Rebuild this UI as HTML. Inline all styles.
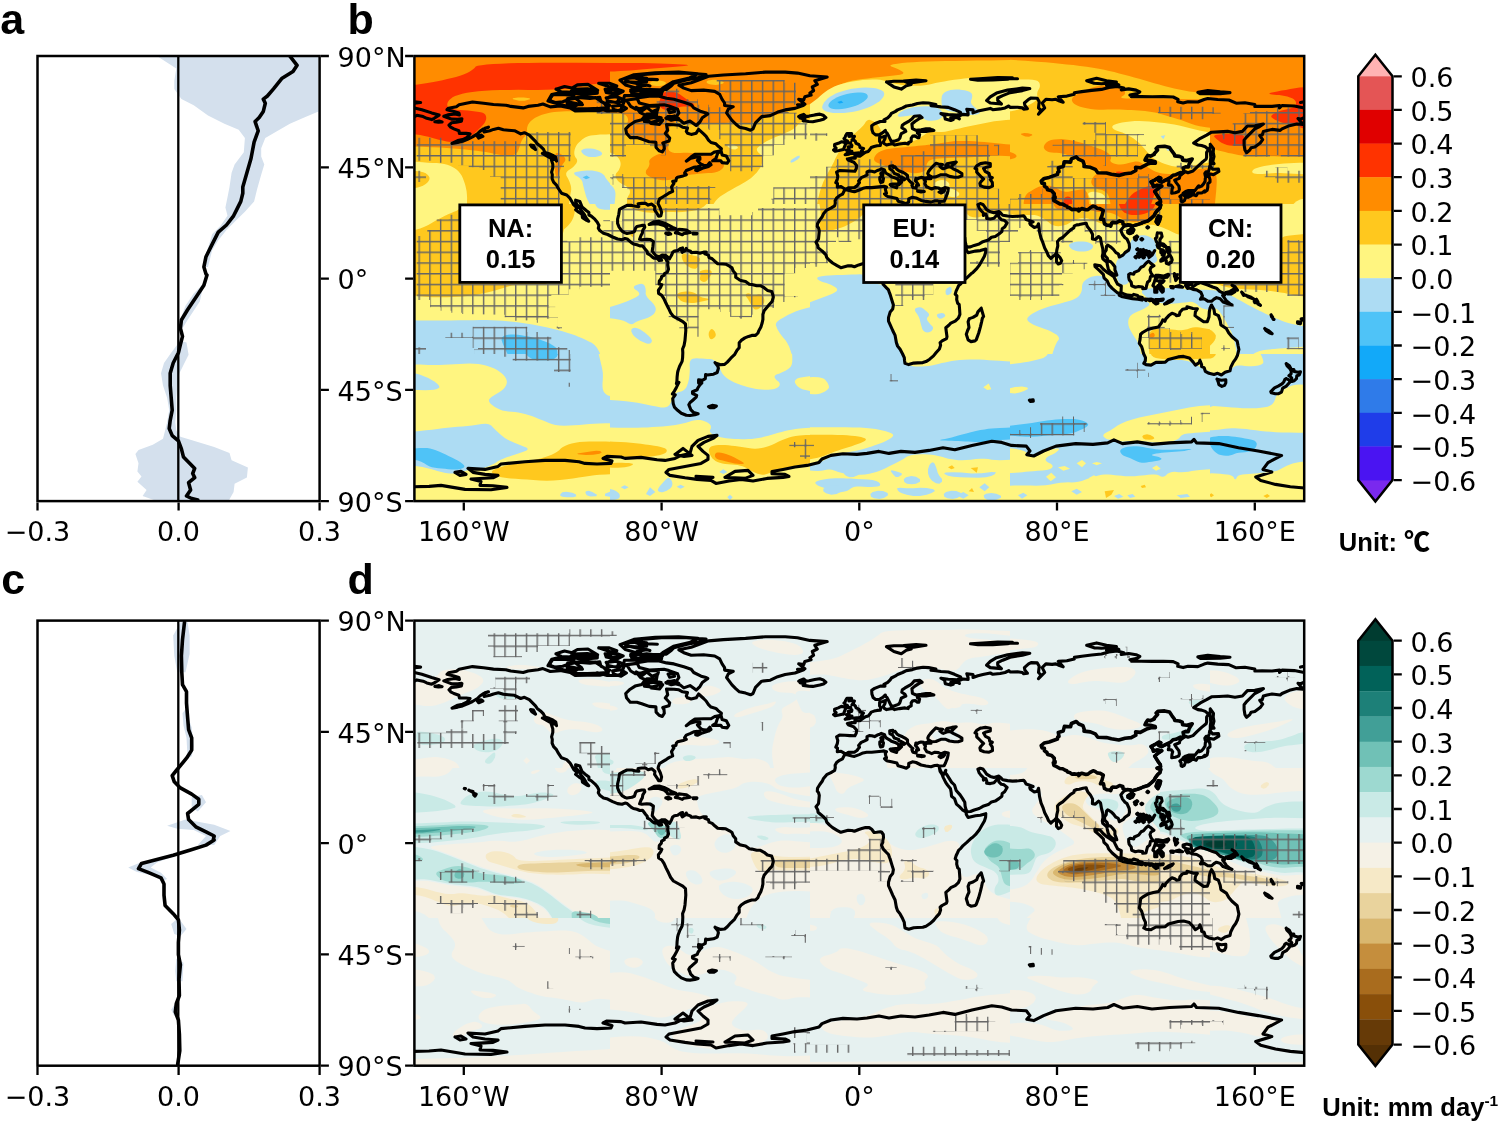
<!DOCTYPE html>
<html lang="en"><head><meta charset="utf-8"><title>Figure</title>
<style>
html,body{margin:0;padding:0;background:#fff}
body{width:1500px;height:1124px;overflow:hidden}
svg{display:block}
text{fill:#000}
.t{font-family:"DejaVu Sans","Liberation Sans",sans-serif;font-size:27px}
.pl{font-family:"Liberation Sans",sans-serif;font-weight:bold;font-size:43px}
.bx{font-family:"Liberation Sans",sans-serif;font-weight:bold;font-size:25.5px;text-anchor:middle}
.un{font-family:"Liberation Sans","Noto Sans CJK SC",sans-serif;font-weight:bold;font-size:25.6px}
</style></head><body>
<svg width="1500" height="1124" viewBox="0 0 1500 1124">
<defs>
<clipPath id="cb"><rect x="414.4" y="56.0" width="889.8000000000001" height="445.1"/></clipPath>
<clipPath id="cd"><rect x="414.4" y="620.6" width="889.8000000000001" height="445.1"/></clipPath>
<clipPath id="ca"><rect x="37.5" y="56.0" width="282.1" height="445.1"/></clipPath>
<clipPath id="cc"><rect x="37.5" y="620.6" width="282.1" height="445.1"/></clipPath>
<pattern id="hb" patternUnits="userSpaceOnUse" x="568.70" y="230.10" width="10.73" height="10.73"><path d="M0,0.7H10.73 M0.7,0V10.73" stroke="#646464" stroke-width="1.4" fill="none"/></pattern>
<pattern id="hd" patternUnits="userSpaceOnUse" x="568.70" y="645.50" width="10.73" height="10.73"><path d="M0,0.7H10.73 M0.7,0V10.73" stroke="#646464" stroke-width="1.4" fill="none"/></pattern>
<path id="coast" d="M548,101L551.7,94.6L561.3,92.4L572,95.6L581.6,103.1L572,107.4L559.2,104.2L548,101M566.7,99.9L582.7,96.7L595.5,97.8L604,103.1L608.3,108.4L599.8,110.6L588,110.6L575.2,110.6L567.7,106.3L566.7,99.9M556,89.2L564.5,86.5L572,88.1L577.4,84.9L588,84.4L597.6,90.3L591.2,92.4L580.6,91.3L572,92.4L561.3,91.9L556,89.2M598.7,83.3L609.4,83.3L616.8,86L610.4,87.1L598.7,83.3M605.1,89.2L614.7,88.1L623.2,91.3L616.8,94.6L606.2,92.4L605.1,89.2M606.2,97.8L616.8,96.7L624.3,99.9L617.9,103.1L608.3,101L606.2,97.8M612.6,106.3L621.1,105.2L626.4,108.4L621.1,111.6L613.6,109.5L612.6,106.3M620,80.1L633.9,74.8L655.3,72.7L678.7,72.1L698,73.7L689.4,78L673.4,81.7L662.7,88.1L657.4,92.4L642.5,92.4L636.1,88.1L625.4,84.9L620,80.1M633.9,77.5L646.7,79.1L657.4,79.6M639.3,82.8L649.9,86M625.4,81.7L636.1,82.3L646.7,81.7M630.7,91.3L646.7,89.2L662.7,91.3L657.4,95.6L641.4,95.6L630.7,91.3M636.1,107.4L642.5,110.6L646.7,107.4L652.1,111.6L657.4,109.5L656.3,115.9L646.7,115.9L640.3,112.7L636.1,107.4M646.7,118.6L655.3,117.5L662.7,120.2L659.5,124.4L651,123.4L646.7,118.6M665.9,118L674.5,115.9L678.7,118.6L671.3,120.2L665.9,118M668.1,109.5L673.4,108.4L674.5,111.6L669.7,112.7L668.1,109.5M1134.3,237.7L1135.1,237L1136,237.7L1135.1,238.5L1134.3,237.7M1136,236.8L1136.9,236L1137.7,236.8L1136.9,237.5L1136,236.8M1134.8,239.5L1135.6,238.7L1136.5,239.5L1135.6,240.2L1134.8,239.5M1140,250.4L1140.8,249.6L1141.7,250.4L1140.8,251.1L1140,250.4M1141.2,252.8L1142.1,252.1L1142.9,252.8L1142.1,253.6L1141.2,252.8M1144.7,251.6L1145.5,250.9L1146.4,251.6L1145.5,252.3L1144.7,251.6M1140.7,254.8L1141.6,254.1L1142.4,254.8L1141.6,255.6L1140.7,254.8M1138.2,256.5L1139.1,255.8L1140,256.5L1139.1,257.3L1138.2,256.5M1143.9,254.6L1144.8,253.8L1145.6,254.6L1144.8,255.3L1143.9,254.6M1145.6,251.3L1146.5,250.6L1147.4,251.3L1146.5,252.1L1145.6,251.3M1137.5,253.8L1138.4,253.1L1139.2,253.8L1138.4,254.6L1137.5,253.8M1142.4,250.1L1143.3,249.4L1144.2,250.1L1143.3,250.9L1142.4,250.1M1147.1,254.8L1148,254.1L1148.9,254.8L1148,255.6L1147.1,254.8M1135,257L1135.9,256.3L1136.7,257L1135.9,257.8L1135,257M1136.7,249.4L1137.6,248.6L1138.5,249.4L1137.6,250.1L1136.7,249.4M1148.4,252.1L1149.2,251.3L1150.1,252.1L1149.2,252.8L1148.4,252.1M1139.2,251.8L1140.1,251.1L1140.9,251.8L1140.1,252.6L1139.2,251.8M1142.7,257.3L1143.5,256.5L1144.4,257.3L1143.5,258L1142.7,257.3M1146.9,227.4L1147.7,226.6L1148.6,227.4L1147.7,228.1L1146.9,227.4M1140.9,239.2L1141.8,238.5L1142.7,239.2L1141.8,240L1140.9,239.2M970.5,79.2L982.9,78.5L997.7,77.5L1012.5,77.8L1007.6,79.2L992.8,80L977.9,80.2L970.5,79.2M982.9,80.2L1000.2,78.7L1017.5,78.7M434.9,121.8L439.1,121L442.1,122L438.4,122.3L434.9,121.8M882.5,172.2L883,174.7L882.3,176.2L883.5,178.4L882.8,181.9L880.6,182.4L879.8,179.6L879.8,177.4L881.8,176.4L880.8,173.5L882.5,172.2M890.2,184.6L892.7,184.1L897.9,183.8L896.9,186.6L896.6,187.8L894.4,187.1L891.4,186.1L890.2,184.6M917.6,190.8L921.1,191L924.3,191.5L921.1,192L917.6,191.3L917.6,190.8M939.1,192L940.9,191L944.6,190.5L943.3,192L940.9,193L939.1,192M666.8,260.7L665.5,258.5L662.8,256.5L660.6,258L661.6,260.3L659.1,260.5L657.4,258.5L654.4,258.3L652.7,257.3L649.9,254.8L647.5,253.6L647.2,251.6L645.5,249.6L643.3,246.7L642.5,245.7L639.8,245.9L636.9,244.7L633.4,243.9L631.4,242.7L627.2,239L625,238.5L622,239.7L617.6,239L612.6,237L607.7,234.5L603.5,233.3L599.8,230.6L598.3,228.1L599,225.4L597.3,222.2L594.8,219.2L591.1,216L588.9,215L588.9,212.5L586.2,210.5L582,206.8L579.8,201.4L575.6,200.2L575.8,203.1L578.8,206.8L581.2,210.5L584.2,214.3L586.2,218L588.7,221.2L586.7,220.4L582.5,217.7L582,214.3L578.8,212.3L575.6,209.8L577,207.8L573.8,204.9L571.4,200.7L569.9,198.2L566.7,195L561.5,193.2L558,188L556.5,185.1L553.6,182.1L552.1,178.6L552.3,174.7L551.6,172.2L552.8,167.8L552.8,164.3L551.1,158.9L555.3,159.4L556.5,161.1L555.8,157.4L552.8,155.4L549.1,153.7L544.9,152.4L543.4,149.2L540.5,146.3L537.2,143.8L535.5,141.3L533,138.8L529.3,135.1L524.4,132.7L520.7,133.9L514.5,130.7L508.3,130.2L503.4,129.7L498.4,128.2L493.5,129.4L489.8,130.7L484.1,131.9L484.8,128.2L488.5,127.2L483.6,128.9L479.9,131.4L477.4,133.9L472.5,136.9L467.5,139.3L462.6,141.3L457.7,142.5L452,143.5L457.7,140.6L462.6,139.6L466.8,137.6L470,133.9L466.3,133.4L459.4,133.4L458.9,130.7L453.9,128.9L450.7,127.2L449,125.2L451.5,122.8L456.4,122.3L461.4,121.3L461.9,118.8L457.7,119.3L451.5,119.1L447.8,117.8L443.8,116.3L447.8,114.9L455.2,113.9L459.4,114.9L458.9,112.9L453.9,111.4L447,109.7L448.5,108.2L456.4,106.7L459.1,104.7L466.3,103.2L472.5,102L483.6,103.2L493.5,104.5L505.9,105.2L510.8,106.4L523.2,107.9L528.1,106.4L538,105.2L542.9,104L550.3,106.9L560.2,106L570.1,107.9L575.1,110.9L587.4,110.6L592.4,109.9L597.3,108.2L607.2,110.9L617.1,110.9L620.8,109.7L624.5,100.8L627,100.8L630.7,106.4L635.6,109.2L641.8,108.2L648,106.2L656.6,106L658.4,107.4L657.9,109.2L655.4,114.1L646.7,114.1L644.3,116.6L641.8,119.8L635.1,121.5L629.4,125.2L625.7,128.9L626.5,133.2L630.2,137.6L636.9,137.6L641.8,139.1L649.2,141.8L655.9,142.3L656.1,147.5L659.1,150.7L662.3,151.9L664.3,148.7L664,145L662.8,143L669,141.1L669.7,138.1L665.3,133.4L667.7,130.2L666.5,124.5L673.9,124.7L678.9,125.2L682.6,127.2L687.5,128L686.3,131.4L687.5,133.2L691.2,134.4L696.2,133.2L698.6,129.4L703.6,133.9L706.1,136.4L708.5,140.1L711,142.5L715.9,143.8L718.4,146.3L721.4,148.7L720.9,150.7L714.7,151.9L711,154.2L703.6,154.2L694.9,154.4L691.2,156.9L686.3,161.1L690,158.6L696.2,156.9L699.9,157.4L699.9,159.4L697.4,160.4L699.1,162.3L701.1,164.3L703.6,165.3L707.3,165.5L709.8,162.6L711,164.8L708.5,166.5L702.3,168.3L697.4,170.7L695.7,170.2L696.2,168.5L699.9,166.3L697.4,166.8L693.7,167.3L690,169L686.3,170.5L684.6,173L686.3,174.7L683.1,175.9L677.6,177.2L676.4,178.4L675.9,180.9L672.7,181.4L673.9,183.3L671.5,187.1L671.9,188.3L672.7,191.3L669,193L666.5,194.7L663.5,196.5L659.6,198.9L658.4,201.9L658.1,203.6L660.3,208.1L661.6,212.3L660.8,216L658.6,216.2L657.1,213.5L654.6,209.8L654.9,206.8L651.7,204.1L648.2,205.1L645.5,203.4L641.8,203.4L638.1,203.9L638.8,206.6L635.6,206.3L631.9,205.4L627,205.4L624,206.8L619.5,209.3L618.8,214.3L617.6,219.2L617.6,223.4L619.1,227.1L622,231.1L624.5,232.6L627,233.5L631.9,232.6L634.4,231.6L635.6,227.9L636.9,226.4L641.8,225.4L644.3,225.4L644.8,227.1L642.8,230.3L642.3,233.3L641.1,235.3L639.6,239.2L641.8,239.7L646.7,239.2L650.4,239.5L653.4,241.5L652.9,246.4L652.2,250.9L654.2,253.8L656.1,255.8L659.1,256.8L662.1,255.1L665.3,255.3L668,257.3M668,257.3L669.5,258.8L671.5,255.3L672.7,252.3L674.4,251.1L677.6,250.6L680.8,248.4L682.6,247.9L683.1,249.4L681.6,250.9L682.3,252.3L683.8,251.3L685.8,250.1L686.3,248.4L687,250.1L690.5,251.3L691.2,252.6L696.2,252.3L699.9,253.3L703.6,252.1L706.3,252.1L704.8,253.8L708.5,255.1L709,257.5L712.2,258.8L714.7,261.2L717.7,263.7L722.9,264L725.8,264.2L729.5,266.2L732,267.9L733.2,271.1L735.7,274.1L735.7,277.3L739.4,279.8L740.7,280.5L745.6,281.5L749.3,284.2L751.8,284.5L756.7,285.7L760.4,285.7L764.1,287.7L767.4,290.4L771.6,291.4L772.8,294.6L773.3,297.1L772.1,301.5L769.1,304.8L766.6,307.7L764.1,310.7L762.9,314.4L762.9,319.4L762.2,322.8L760.9,327L758.7,331L758,333L755.5,335.4L751.8,335.4L748.6,336.4L744.9,337.9L741.2,340.4L739.2,342.8L739.2,347.8L737,350.3L734.5,354.7L730.8,358.2L727.3,362.1L724.6,364.4L720.4,364.8L715.9,363.1L715,362.6L717.9,366.3L718.4,368.3L717.2,372.5L713.5,374.2L707.3,375L705.6,374.5L705.3,378.7L702.3,380.4L698.6,379.9L698.6,382.9L701.9,382.9L699.9,384.9L697.9,387.8L697.2,389.8L692.5,391.8L692.5,393.5L696.7,395.3L696.2,397.2L692.5,400.5L690,402.7L688.8,404.7L690.2,408.1L690.7,409.6L693.7,412.6L698.1,413.8L694.9,414.8L690,415.5L686.3,415.3L681.3,413.3L677.6,410.3L674.4,407.1L673.2,403.4L672.7,398.5L675.2,394.8L672.4,394L674.4,391.1L676.4,387.4L678.9,382.4L676.4,383.6L676.9,381.2L677.1,377L677.6,372.5L678.1,370.5L679.6,366.3L682.1,361.4L682.6,357.7L682.8,352.7L682.6,349L684.1,345.3L685,340.4L685.3,336.7L685.8,330.5L685.5,324L682.8,321.6L678.9,319.4L673.4,316.4L670.7,312.9L668.5,308.2L666,303.3L664,298.8L661.8,295.4L658.6,293.4L658.4,290.2L660.8,287L661.8,284.7L659.1,284L659.3,281L661.3,278.6L661.6,276.6L664.3,275.1L664.5,273.6L667.3,272.1L668.5,269.2L667.7,264.9L668,262L666.8,260.7M678.9,85.2L691.2,82.7L698.6,80L708.5,76.3L723.4,75L745.6,73.8L765.4,72.1L785.2,72.1L797.5,73.1L809.9,75.8L827.2,77L814.8,80.7L817.3,84.4L812.3,86.9L813.6,90.6L809.9,93.1L811.1,95.1L804.9,96.8L803.7,100L798.7,99.3L804.9,104.2L797.5,104.7L803.7,105.2L795,108.4L785.2,109.9L777.7,112.1L770.3,115.6L761.7,116.6L759.2,119.1L755.5,122.8L753,128.9L750.5,130.2L745.6,128.5L739.4,127.2L735.7,124L732,120.3L728.3,115.3L726.6,112.9L728.3,109.2L733.2,106.7L724.6,105.5L724.6,103L722.1,99.3L719.7,94.3L714.7,91.4L703.6,90.1L691.2,90.6L683.8,88.1L678.9,85.2M707.8,113.9L702.3,117.8L699.9,122L696.2,125.5L690,121L683.8,123.3L680.1,120.3L675.2,119.1L666.5,118.6L667.7,116.6L676.4,116.6L678.9,112.9L677.6,109.2L669,106L664,104.7L649.2,105.5L639.3,103L636.9,98L649.2,96.1L659.1,96.3L666.5,98.3L673.9,99.3L683.8,102.2L691.2,104.7L693.7,107.9L701.1,111.6L706.1,112.9L707.8,113.9M666.5,89.4L659.1,89.9L641.8,89.4L636.9,86.9L646.7,85.2L641.8,82L646.7,78.3L634.4,77L644.3,74.5L661.6,73.1L686.3,73.1L706.1,74.5L698.6,77.5L686.3,80L673.9,83.2L671.5,85.7L666.5,89.4M644.3,84.9L629.4,82L624.5,78.7L634.4,77.8L641.8,80.2L644.3,84.9M661.6,94.1L649.2,94.3L631.9,93.8L630.7,89.9L639.3,89.6L651.7,91.1L661.6,91.6L661.6,94.1M599.8,108.4L587.4,108.9L577.5,108.9L570.1,107.4L568.9,104.2L582.5,104.7L567.6,101.7L567.6,98.5L577.5,97.5L589.9,98.5L599.8,97.3L601,101.7L609.7,105.5L607.2,107.9L599.8,108.4M550.3,100.8L555.3,102.5L562.7,101.7L572.6,98L573.8,95.6L565.2,94.8L552.8,94.8L550.3,98.5L550.3,100.8M570.1,92.6L582.5,94.6L597.3,93.3L597.3,90.6L587.4,88.9L572.6,89.4L570.1,92.6M607.2,101.7L617.1,102.2L619.5,98L612.1,95.6L607.2,98L607.2,101.7M623.3,100.5L636.9,98.8L636.9,95.6L624.5,95.6L623.3,100.5M644.3,121.5L651.7,122.3L659.1,120.3L661.1,117.8L651.7,115.8L646.7,115.8L644.3,119.1L644.3,121.5M612.1,93.1L619.5,91.9L617.1,89.1L607.2,89.4L612.1,93.1M712.7,160.8L715.9,158.6L717.7,153.2L721.1,151L722.1,154.9L726.3,156.1L728.8,160.8L727.1,163.3L722.1,162.6L720.9,160.8L712.7,160.8M554.3,158.9L549.8,157.6L542.4,153.4L545.4,152.9L550.3,154.9L554.3,158.9M535.5,149.5L531.8,147L530.6,145L533.5,145.5L535.5,149.5M478.7,138.1L482.9,136.4L481.1,135.1L477.4,136.4L478.7,138.1M649.2,224.4L654.2,221.7L659.1,221.4L664,222.9L669,225.4L672.7,227.4L675.9,228.6L673.9,229.3L667.7,229.3L666.5,227.4L664,225.4L657.9,223.7L652.9,223.9L649.2,224.4M675.4,232.8L678.9,229.3L682.1,229.6L686.5,230.1L690.2,232.6L687.5,233.1L683.8,233.5L682.3,234.8L678.9,233.5L675.4,232.8M665.8,233.3L669,232.8L670.7,234L668.2,234.5L665.8,233.3M693.2,233.1L696.9,233.3L696.7,234L693.2,234L693.2,233.1M473.7,228.6L476.2,229.6L475,231.6L473.7,230.3L473.7,228.6M470,226.1L473,226.9L472.5,227.6L468.8,225.6L470,226.1M464.3,223.9L465.6,223.9L465.1,224.4L464.3,223.9M844.7,190L846.2,189.8L851.9,191.3L854.4,191.8L859.3,190L863,188.3L866.7,187.6L871.7,187.6L876.6,187.1L881.5,186.6L884,186.3L886.5,187.1L885.3,188.8L885.7,190.8L886.5,193.2L884.5,194L886,195.5L887.7,196.5L891.4,197.2L896.9,198.4L898.1,201.2L902.6,202.4L906.3,203.6L908.7,201.9L908.7,198.9L912.4,197.2L916.1,197.9L921.1,200.4L926,201.4L931,202.1L934.7,200.9L937.2,200.7L939.1,201.4L939.6,204.4L940.1,206.8L942.1,209.8L943.3,213L945.8,218L947.5,220.4L950.5,224.1L951.2,227.9L951.5,231.6L954.5,234L956.4,239.5L959.4,242L962.4,245.2L965.6,247.1L966.3,248.9L966.3,249.9L968.1,252.8L975.5,251.1L980.4,250.6L985.8,249.1L985.6,252.6L984.4,256.3L981.6,261.2L979.2,265.4L976.2,269.2L973,272.4L971.3,273.6L966.8,277.8L963.1,281L960.6,284L958.7,285.5L957.4,288.4L956.2,290.9L955.2,294.1L956.9,295.9L956.7,299.6L957.7,303.3L959.2,304.5L959.6,309.5L959.9,314.4L958.4,318.1L955.2,321.1L950.8,323.1L948.8,325.3L945.8,327.8L946.3,331.7L947,336.7L946.5,338.6L942.1,340.9L940.1,342.6L940.6,345.3L939.4,349L936.2,352.5L933.5,355.9L929.7,359.2L926,361.6L922.8,362.6L917.4,362.9L913.7,363.1L908.7,364.6L905,363.4L904.5,360.2L904.3,357.7L902.6,354L900.1,349.3L897.6,346.1L896.4,342.8L895.1,335.4L892.7,330.5L890.2,324.8L888.5,321.1L888.5,317.6L890.2,311.9L892.7,309L893.4,305L891.9,300.3L890.2,294.6L889.5,292.9L888.5,289.9L886.5,287.9L883.3,284.5L881.5,280.5L882.8,277.8L882.8,276.1L883.5,272.9L883.3,269.9L881.5,267.4L880.3,267.2L876.6,267.7L874.1,267.9L871.7,264.7L869.2,263L865.5,263L861.8,264L858.8,264.9L854.4,266.7L851.9,265.9L848.2,265.7L844.5,266.7L840.8,267.7L837.1,265.7L832.6,263L829.6,260.5L826.7,257.5L825.9,254.8L823,251.8L821,250.1L818,247.6L817.8,245.4L816,242.2L818.5,239L819,234L819.3,230.8L818.5,227.9L817.3,226.6L817.5,223.7L819.8,219.9L822.2,216.7L823.5,213.8L826.7,210.1L830.9,208.1L834.6,205.9L835.3,203.1L835.1,200.7L836.6,197.9L839.5,195.7L842.5,194.2L844,191.3L844.7,190M981.2,308.2L983.6,316.4L982.4,318.1L981.6,321.8L980.4,326.8L978.7,333L976.2,339.9L975,340.9L971,341.6L968.1,339.9L966.3,334.2L967.6,330.5L969,327.5L968.1,321.8L969.3,318.6L973,317.4L976.7,315.1L977.9,311.9L981.2,308.2M845.5,189.5L843.7,188.3L841,186.6L837.3,187.1L837.5,183.6L835.8,182.6L837.3,179.1L837.8,175.9L836.6,172.2L839.5,170.5L845,170.7L849.9,171L854.9,171.2L856.3,168.5L856.6,165.5L853.9,162.3L848.2,160.1L847.4,158.9L851.9,157.9L855.3,158.1L854.9,155.7L859.8,156.1L863.3,153.7L865.5,152.2L868.2,151.4L869.9,149.5L871.2,147.5L874.1,146.5L877.1,145.8L880.3,145.5L880.8,143L879.6,141.3L879.6,137.6L882.8,136.9L885.5,135.9L885,138.8L884,140.6L883.3,142.1L884,143.5L886.5,145L889.5,144.3L892.7,143.8L894.6,145L899.6,144L905,143.3L908.2,144L908.7,142.5L911.2,141.3L911.2,138.1L912.7,136.1L915.2,135.9L917.4,137.6L918.9,137.6L919.6,134.4L917.4,133.2L917.4,131.9L920.6,131.4L926,131.4L929,130.9L933.9,130.4L931,129.4L930,128.9L926,128.9L921.1,129.7L916.1,130.4L912.4,128.7L912.2,126.5L911.9,124L914.9,121.5L919.9,118.3L922.1,117.6L919.9,115.8L914.2,116.3L911.9,119.1L909.5,120.8L905,123.3L902.3,125.2L901.8,127.7L905,129.7L905.8,131.4L901.3,133.6L900.6,135.6L899.8,138.3L898.4,139.8L894.6,141.1L891.4,141.6L890.4,139.6L888.7,136.1L887,132.9L885.7,131.9L885.3,130.4L882.8,132.7L879.1,134.9L875.6,134.9L873.1,132.9L871.9,129.4L871.7,125.7L874.6,123.8L880.3,121.5L885,121.5L884,119.8L887.7,117.8L890.2,115.3L891.4,113.4L895.1,111.6L897.6,109.9L902.6,107.9L906.3,106L912.4,105L917.4,103.5L923.1,102.7L928.5,103L935.9,104.5L931,105.7L935.9,106.2L940.9,106.9L948.3,107.4L954.5,109.7L960.6,112.4L961.1,114.1L956.9,115.1L948.3,114.6L940.9,113.6L944.6,115.6L945.3,119.1L950.8,120.5L953.2,119.6L950.8,117.8L957.7,117.8L959.4,118.8L958.2,116.3L963.1,114.4L968.1,114.9L968.1,112.9L966.8,109.2L973,109.9L973,112.9L977.9,111.1L982.9,109.9L990.3,108.4L992.8,109.7L1000.2,108.9L1005.1,107.9L1008.8,106L1010.1,107.4L1017.5,107.2L1022.4,107.9L1023.7,109.2L1027.4,108.7L1024.9,105.5L1024.4,103L1028.6,99.3L1031.1,98L1037.3,98.3L1039.2,101.7L1038.5,107.9L1041,110.4L1038.5,114.1L1042.2,110.4L1044.7,107.9L1042.2,103L1045.9,99.3L1052.1,99.8L1055.8,99.3L1059.5,101L1063.2,102.2L1058.3,96.8L1066.9,96.1L1074.3,94.3L1074.3,92.8L1081.8,91.6L1091.6,90.4L1101.5,89.4L1108.9,87.4L1117.1,86.4L1123.8,88.1L1121.3,89.9L1128.7,88.9L1136.1,90.1L1139.8,91.9L1137.4,93.6L1129.9,95.1L1136.1,96.1L1131.2,96.6L1141.1,96.6L1152.2,96.8L1163.3,96.6L1173.2,97L1178.1,99.3L1177.7,101.7L1183.1,103L1188,101.7L1197.9,102L1204.1,99.5L1207.8,98.5L1217.7,99.5L1228.8,100L1236.2,103.2L1244.9,102.7L1254.8,104.5L1254.8,106.4L1262.2,106.2L1272.1,106.4L1279.5,105.5L1279.5,107.9L1282,105.5L1294.3,106L1304.2,107.9M414.4,107.9L421.8,109.7L431.7,112.9L439.1,115.1L434.2,118.3L431.7,119.6L426.8,118.3L423.1,116.6L416.9,115.3L414.4,116.6M1304.2,117.6L1300.5,119.1L1298,118.6L1301.7,122.8L1303,124.5L1296.8,124L1289.4,125.7L1282,128.9L1280.2,130.4L1272.1,129.4L1267.1,130.4L1263.4,131.4L1262.2,135.1L1259.7,135.6L1262.7,139.6L1260.2,143L1254.8,147L1251.1,147.7L1249.8,150L1246.6,152.7L1244.9,150L1244.1,145L1244.1,140.1L1246.1,137.6L1249.8,133.9L1254.8,128.9L1259.7,126.5L1263.4,124L1254.8,125.7L1247.4,126L1242.4,131.4L1235,132.7L1227.6,131.4L1218.9,131.9L1211.5,132.2L1206.6,135.1L1200.4,138.3L1193.7,143L1197.9,145L1201.6,145.5L1205.3,146.8L1208.5,149.5L1206.6,152.4L1206.6,157.4L1206.1,159.1L1201.6,162.8L1196.7,167.3L1193,171L1188,172.7L1185.6,171.7L1182.3,173.7L1179.9,175.9L1179.4,178.2L1174.7,180.1L1176.4,182.9L1178.9,186.1L1179.4,189.5L1178.6,191.5L1175.2,192.7L1171.7,193.2L1172,189.5L1172.7,187.1L1171.2,185.1L1168.3,185.1L1168.8,182.9L1169,180.9L1166.5,179.6L1161.6,182.1L1158.9,180.9L1160.8,178.2L1158.9,177.4L1154.7,180.1L1151,181.9L1152.9,184.6L1153.4,186.6L1157.1,185.3L1161.8,186.1L1158.4,188.3L1154.7,191.5L1156.6,194.5L1158.4,197.4L1160.3,199.9L1160.6,202.1L1157.1,203.6L1160.8,204.9L1159.9,208.1L1157.6,210.1L1155.4,213L1154.2,215.5L1151.5,218L1148,220.9L1143,222.4L1141.1,223.4L1137.4,224.6L1132.4,226.1L1131.9,228.4L1130.7,225.4L1127.5,224.9L1125.7,225.4L1123.3,227.1L1120.8,230.3L1122.5,234.5L1125,237.7L1127,239L1129.2,243.9L1129.5,247.6L1128.7,250.1L1125,252.6L1123,255.1L1119.3,257L1118.3,253.8L1115.9,252.6L1113.4,249.4L1110.9,247.1L1108.7,245.7L1107.7,245.2L1106.5,246.4L1106.2,250.1L1104.5,252.6L1104.7,255.6L1107.2,258L1107.9,260.7L1110.7,261.7L1112.6,263.7L1114.9,266.7L1114.9,269.9L1115.9,272.4L1116.8,275.1L1115.1,275.3L1111.9,273.1L1109.7,271.4L1108.2,268.7L1107.2,264.2L1107,262.5L1105.7,261.2L1102.8,258.8L1102.3,256.3L1103,253.1L1102.8,248.9L1101.5,243.9L1100.5,238.2L1098.6,236.5L1095.3,239.5L1092.4,239L1092.6,234.5L1090.4,230.3L1087.7,227.1L1086.7,224.9L1086.2,223.2L1083,223.7L1079.3,224.6L1076.8,224.9L1074.3,225.9L1073.8,227.9L1070.6,229.8L1066.9,233.3L1062.7,237.3L1059.5,239.2L1057.5,241.5L1057.8,245.9L1056.8,250.1L1056.5,253.1L1054.6,255.3L1052.6,256.8L1050.9,258.5L1048.4,255.8L1047.1,252.6L1044.7,248.1L1042.9,242.7L1041,238.2L1039.5,231.8L1039,227.1L1038.7,224.9L1038.5,223.7L1037.3,226.6L1034.3,227.4L1030.3,224.6L1029.8,223.2L1033.1,221.9L1029.1,220.4L1026.1,219.5L1024.9,217.2L1023.7,215.7L1018.7,216.2L1012.5,216.5L1007.6,216L1002.7,215.2L1000.7,213L998.9,211.5L994,212.8L990.3,211.8L986.6,209.6L984.9,207.1L982.9,204.4L980.2,203.6L977.9,204.6L979.2,208.3L980.9,210.5L983.4,213L983.4,215.5L985.8,214L986.8,216.7L986.6,218.5L990.3,219L994,218.2L996.2,215.7L998.5,213.5L998.9,217.2L1001.4,219.7L1004.1,220.2L1007.1,222.9L1004.6,227.1L1002.2,228.8L1001.9,231.6L998.9,234L995.2,236.5L991.5,237.3L988.3,240L982.9,241.7L979.2,243.9L974.2,245.4L970.5,246.9L966.8,247.1L966.1,245.2L965.1,241.5L964.8,237.7L962.6,234L960.1,230.3L956.2,225.9L954.5,220.4L951.5,217.5L949.5,214.3L946.5,209.6L945.3,208.1L945.8,205.6L944.1,209.3L943.8,209.8L941.4,207.8L939.9,204.6L939.1,201.4L944.1,201.2L945.6,198.2L946.3,196.2L947.3,193.7L948,190.8L948.3,188.3L944.8,187.6L940.9,189.3L938.4,188L934.9,187.6L931.7,189L928.5,187.6L926.8,187.1L924.8,183.8L925.5,181.4L924.1,179.6L927.3,178.6L931,178.6L931,177.2L935.9,176.9L940.9,174.7L945.8,174.7L949.5,176.4L954.5,177.2L958.2,177.2L961.9,175.9L961.9,173.5L958.2,171.2L953.2,168.8L950.8,167.3L953.2,164.8L956.2,162.1L952,162.8L947,163.8L945.8,165.5L949.3,166.8L946.5,167.5L943.3,168.8L942.1,168.3L939.9,166.5L942.6,164.6L938.4,164.1L935.9,163.3L932.7,166.5L930.2,169.3L928.5,171.5L927.8,173.5L928.5,175.2L931,176.7L928.5,177.2L926,177.9L924.1,178.9L923.6,177.7L921.1,177.4L918.6,178.2L917.4,179.1L915.9,178.4L915.4,180.9L916.6,182.1L918.1,184.1L918.6,185.3L916.6,185.1L916.4,186.1L916.1,188.3L912.9,187.6L911.9,185.1L912.9,183.8L911.2,182.6L909.2,180.6L907.5,178.4L907.5,175.4L905,173.5L902.6,172.2L898.8,170.7L896.9,169.3L895.1,166.8L893.4,167.5L892.9,165.8L889.7,166.3L889.9,169L892.7,170.7L894.4,173.5L898.8,174.9L898.8,176.2L901.3,176.9L905,179.1L903.8,179.9L901.3,178.4L900.1,180.4L901.6,182.1L900.1,183.6L898.8,184.8L898.1,184.6L898.8,182.9L898.8,180.9L897.9,179.4L895.9,178.2L894.4,177.7L891.4,176.7L889.5,175.2L886.5,173.5L885.3,172.2L884.5,170L883.3,169.5L881.3,168.8L879.1,170L877.3,170.5L874.6,172L871.7,171.2L869.2,171L867,172L867,173.7L867.2,174.9L864.7,176.2L861.3,177.7L858.6,180.9L859.5,182.6L857.8,184.6L857.3,185.6L854.4,187.6L848.4,187.8L846.2,189.3L845.5,189.5M980.4,163.6L985.4,162.8L990.3,163.6L990.3,166.5L986.1,167.3L983.6,168.5L985.4,171.7L989.1,173.5L989.8,176.7L992.3,177.7L990.3,179.6L992.3,182.4L992.5,186.1L989.1,187.6L984.1,187.1L980.4,185.6L979.9,183.3L981.2,181.4L983.6,178.9L981.6,177.2L979.2,174.7L976.7,172.2L976.7,169L975,168.3L976.7,165.8L980.4,163.6M845.2,154.7L848.9,154.2L850.6,153.4L854.4,153.4L859.3,152.9L862.8,151.9L861.3,151.2L863.5,148.5L860,147.5L859.8,146L858.8,144.5L856.1,143.3L855.3,141.3L853.9,140.1L851.9,140.1L853.1,138.8L854.4,136.4L850.6,135.9L848.9,136.4L851.1,133.9L851.6,133.6L846.9,133.6L845.7,135.6L845,137.6L844,138.6L845.7,140.1L845.5,141.8L847.4,140.8L847.2,143L850.6,142.8L850.9,144.3L851.9,145.5L851.6,146.8L848.2,146.8L848.7,148L849.2,149.2L846.4,150.2L848.9,151L851.9,151.4L850.6,151.9L848.2,152.4L845.2,154.7M843.5,149.5L844.5,146.8L845.7,143.8L844,142.1L841.3,141.8L838.3,143.3L834.6,144.5L834.6,146.5L836.1,148L833.6,150L835.1,151.2L838.8,150.5L843.5,149.5M803.2,120.8L808.6,121.5L812.8,121.8L819.8,120.3L823.5,119.3L825.9,117.6L823.2,115.3L819.8,114.1L814.8,114.9L809.1,116.1L806.2,116.6L803.7,114.4L800,115.8L798.7,116.6L804.9,116.8L800,118.1L804.9,119.3L803.2,120.8M886.5,82L893.9,86.9L901.3,89.1L906.3,85.7L911.2,84.4L906.3,82L903.8,81L916.1,80L926,80.7L913.7,82.5L903.8,81L893.9,81.2L886.5,82M1001.4,104L990.3,103L986.6,100.5L990.3,96.8L996.5,93.1L1007.6,90.1L1022.4,88.1L1029.8,88.6L1022.4,90.6L1010.1,92.6L1002.7,95.6L997.7,98L997.7,100.5L1001.4,104M1094.1,83.2L1101.5,83.7L1113.9,82.7L1118.8,84.9L1106.5,85.7L1116.4,82L1106.5,80.7L1096.6,78.3L1086.7,80.7L1094.1,83.2M1197.9,92.3L1207.8,90.6L1220.2,91.9L1230,92.6L1220.2,93.6L1205.3,93.8L1200.4,93.8L1197.9,92.3M1300.5,102.5L1304.2,101.7M414.4,101.7L420.6,102.5L414.4,103.2M1210.3,144.3L1213.5,148.7L1213.2,152.4L1214,156.6L1212.7,161.6L1214,163.6L1212.3,163.3L1210.3,164.8L1210.3,161.1L1210.8,157.4L1210.3,152.4L1209.8,148.7L1210.3,146.3L1210.3,144.3M1205.3,175.9L1207.8,175.4L1208.3,173.5L1213.5,174.7L1218.9,171.5L1218.4,169L1212.7,169.3L1209.8,166L1209.3,169L1208.5,171.5L1206.1,171.7L1204.8,173.5L1205.3,175.9M1209,176.2L1210,179.6L1210,182.1L1207.8,183.8L1207.8,187.1L1207.1,190.3L1204.8,192L1204.6,190.8L1202.4,192.7L1200.9,193L1197.9,193L1197.4,193.7L1196.2,195.7L1193,194.5L1193.7,193L1189.3,193.5L1186.3,194L1183.1,194.5L1183.1,193.2L1185.6,191.5L1188.5,190.5L1191.7,190.5L1195,190.5L1197.2,187.6L1198.7,185.8L1199.2,187.1L1201.6,186.1L1203.4,184.1L1205.1,181.4L1205.3,178.4L1206.1,176.7L1209,176.2M1183.1,194.7L1185.1,196.2L1185.6,197.4L1184.3,200.7L1182.3,201.9L1181.1,201.2L1181.1,198.2L1179.9,196.5L1181.9,195L1183.1,194.7M1186.8,194.5L1191.7,194L1192.2,195L1190.5,196.2L1188,197.4L1186.8,196.9L1186.8,194.5M1158.4,216.2L1160.6,216.7L1159.6,220.4L1157.9,224.1L1156.1,221.7L1157.1,218.5L1158.4,216.2M1128,231.1L1131.2,229.1L1133.7,229.8L1132.4,232.3L1129.9,233.5L1128,232.6L1128,231.1M1057,254.3L1060,257.5L1061.7,260.7L1060.7,263L1058.3,264L1056.5,261.7L1056.5,258.3L1057,254.3M1157.4,232.8L1161.3,233.1L1162.1,236.5L1159.9,239.5L1160.1,243.2L1163.3,243.9L1165.8,246.4L1164.1,246.4L1162.1,245.2L1158.4,244.7L1157.4,243.2L1156.4,241.7L1155.4,238.5L1156.9,237.3L1156.9,235.3L1157.4,232.8M1160.8,261.2L1164.6,259.8L1166.3,260.5L1166.3,263.2L1169,264.2L1169.7,262.5L1171.2,262.5L1172.2,260L1171.5,257.5L1169.5,254.3L1168.3,256.3L1167,257.3L1165,258.5L1163.3,257.5L1160.8,260L1160.8,261.2M1166.5,247.6L1169,247.6L1170,251.3L1168.3,253.3L1167.5,251.8L1166.8,250.1L1166.5,247.6M1160.8,249.4L1163.3,250.1L1164.6,252.6L1164.1,255.6L1162.1,255.1L1162.1,252.6L1160.8,252.6L1160.8,249.4M1149,257.5L1152.2,255.1L1154.7,250.6L1153.4,252.6L1151,255.6L1149,257.5M1157.1,245.2L1159.4,245.9L1159.1,248.1L1157.9,247.4L1157.1,245.2M1094.8,264.7L1100.3,265.7L1103.3,269.2L1107.2,272.4L1110.2,274.3L1113.9,276.8L1115.9,281L1117.6,284.2L1121.3,286L1121,292.9L1117.8,293.1L1112.2,288.4L1108.9,284.7L1107.2,280.8L1104,277.8L1103.3,274.3L1099.5,270.6L1095.1,266.7L1094.8,264.7M1119.3,295.4L1121.3,293.1L1123.3,293.6L1127.5,295.1L1132.4,295.6L1133.7,294.4L1137.6,295.6L1138.1,296.6L1142.3,297.6L1142.1,300.1L1137.9,299.3L1132.4,298.6L1127.5,297.8L1122.5,296.8L1119.3,295.4M1128.7,274.6L1130.2,273.6L1133.7,274.3L1134.4,272.4L1138.6,270.6L1141.1,267.2L1143.5,266.2L1146,263.2L1148.5,261.2L1150.2,262.7L1153.9,265.7L1151,267.4L1150,269.9L1151,273.1L1153.2,276.1L1150.5,276.6L1149.7,280.5L1147.5,282.3L1146.5,286L1146,288.4L1142.6,288.7L1142.6,287L1138.6,286.5L1135.4,287.2L1131.7,285.7L1131.2,282.3L1129.2,279.8L1128.7,277.3L1128.7,274.6M1155.9,275.3L1158.4,275.3L1163.3,276.1L1168.3,274.3L1168.8,275.1L1167,277.3L1163.3,277.6L1159.6,277.3L1156.6,277.3L1156.1,280.5L1158.4,281L1159.9,280.8L1164.1,280.8L1162.1,282.8L1159.6,283.5L1161.6,286.7L1163.3,288.4L1163.3,291.4L1162.3,292.2L1160.8,290.4L1159.6,288.4L1158.1,285.5L1156.9,287.2L1156.9,292.2L1154.7,292.2L1154.7,287.2L1152.9,285.5L1154.2,282.3L1155.4,278.8L1155.9,275.3M1183.1,280.5L1186.8,279.5L1190.8,280.5L1191.7,284.7L1193,286.7L1196.7,284L1200.4,282.5L1207.8,285L1212.7,287L1216.5,288.2L1219.7,291.4L1223.9,293.4L1224.6,295.1L1222.6,295.4L1225.6,299.6L1226.3,300.8L1230,303.8L1232,304.8L1228.8,304L1223.1,302L1220.2,298.8L1216.5,297.6L1214,299.1L1211.5,301.3L1207.8,301.1L1204.1,298.8L1200.4,299.3L1202.4,295.9L1200.9,292.4L1196.7,289.9L1193,289.4L1189.3,287.9L1187.5,288.4L1185.6,285.7L1189.3,284.7L1186.1,284L1183.1,282L1183.1,280.5M1164.6,304L1168.3,301.3L1173.2,299.3L1172,300.8L1167,303.5L1164.6,304M1155.7,299.6L1159.6,299.6L1163.3,299.1L1162.8,300.1L1158.4,300.6L1155.7,299.6M1148,299.3L1151.5,299.1L1153.4,299.8L1149.7,300.8L1148,299.3M1143.5,298.8L1147.5,299.3L1146,300.6L1143.5,298.8M1153.4,302L1157.9,303.3L1155.9,304L1153.4,302M1174.4,273.6L1175.7,275.6L1177.4,274.8L1176.2,277.3L1177.7,278.1L1175.7,280.5L1175.2,277.8L1174.4,276.1L1174.4,273.6M1175.7,286.5L1179.4,285.5L1182.6,287.2L1179.4,287L1175.7,286.5M1170.7,286.5L1173.2,286.5L1173.2,287.9L1171.2,287.7L1170.7,286.5M1225.8,292.6L1230,291.4L1233.8,289.2L1235.7,288.9L1235,291.7L1231.3,293.9L1227.6,293.9L1225.8,292.6M1232,285.2L1235,286.7L1237.5,290.2L1236.2,288.4L1233.8,286.5L1232,285.2M1241.7,292.2L1244.6,295.1L1243.6,295.4L1241.7,292.2M1246.1,295.4L1248.6,297.1L1254.3,299.3L1251.1,297.3L1246.1,295.4M1254.3,301.5L1256.7,302.8L1254.8,302.8L1254.3,301.5M1256.5,299.3L1258,302L1257.2,300.8L1256.5,299.3M1258,304L1260.5,305.3L1259.2,304L1258,304M1271.1,314.9L1272.6,317.1L1271.6,316.9L1271.1,314.9M1272.8,318.4L1274,319.4L1273.1,319.4L1272.8,318.4M1264.7,328.5L1268.4,330.5L1272.1,333.7L1269.6,333L1265.9,330.5L1264.7,328.5M1297.5,321.8L1300.7,322.1L1300.5,323.6L1297.5,323.1L1297.5,321.8M1301.2,318.9L1304.2,318.6L1303,320.1L1301.2,318.9M1211.5,305L1214,309.5L1214.7,313.9L1218.4,315.6L1220.2,320.6L1220.9,325L1226.3,328.5L1228.8,333L1232,336.7L1237.2,341.1L1238,345.3L1238.9,349.5L1237.5,355.2L1235.7,358.9L1233.3,362.1L1230.8,367.1L1230,370.8L1225.1,372.3L1221.4,375L1217.7,373.3L1214,374.5L1209,373.3L1205.3,371.3L1204.1,367.6L1201.6,366.6L1201.6,364.6L1199.9,360.2L1199.2,362.6L1195.4,365.1L1193,361.9L1191,359.7L1189.3,357.9L1183.6,356.4L1178.1,356.9L1173.2,358.2L1168.3,359.4L1165.3,362.1L1160.8,362.4L1155.9,362.4L1151,365.1L1146,364.6L1143.8,363.4L1145.3,360.9L1145.5,357.7L1143.5,353.5L1142.6,349.8L1141.6,346.6L1139.3,343.3L1140.1,339.1L1140.6,334.2L1142.6,332.5L1147.7,329.5L1153.4,328L1158.4,327L1161.3,323.1L1162.8,319.8L1164.8,321.3L1165.8,318.9L1168.8,315.6L1172,313.2L1175.2,314.4L1176.4,315.6L1179.4,315.1L1179.9,312.2L1182.6,309.2L1186.8,308.5L1187,306.7L1193,308.5L1197.4,308.7L1195.4,311.9L1195,315.6L1197.9,317.9L1203.6,321.8L1207.3,321.6L1209,316.9L1209.3,311.9L1210,308.2L1211.5,305M1217,379.2L1221.4,380.2L1225.8,379.7L1225.8,382.9L1224.6,385.4L1221.9,386.4L1218.9,384.6L1218.2,381.9L1217,379.2M1286.2,363.6L1289.4,365.8L1291.3,369.5L1293.8,369.5L1294.3,371.5L1298,372.3L1300.5,371.8L1299.3,375L1296.8,375.7L1296.5,378.7L1294.3,380.7L1291.8,381.4L1291.3,380.7L1291.8,378.2L1290.6,376.7L1288.9,375.7L1291.1,373.8L1291.3,371.3L1289.9,368.6L1286.9,365.6L1286.2,363.6M1286.2,378.7L1288.9,379.9L1290.1,381.7L1288.6,383.6L1286.4,386.1L1282.7,388.1L1281.5,392.1L1278.2,393.8L1275.3,393.8L1271.3,392.8L1270.8,391.6L1274.5,387.8L1278.2,386.1L1282,383.9L1283.9,381.7L1284.9,379.4L1286.2,378.7M708.5,406.6L712.2,405.4L716.4,406.1L714,407.6L709.8,407.6L708.5,406.6M1029.4,400.2L1033.1,399.7L1033.3,401.2L1030.3,401.4L1029.4,400.2M414,486.8L429,486.4L441,485.4L465,489.4L491,489.8L507,487.4L493,485.8L480,485.4L481,481.4L471,479L493,477.8L498,475.4L485,474.4L473,472.4L468,468.4L485,469.4L498,466.4L501,464L525,461.8L545,460.4L565,460.4L579,461.8L585,463.4L597,464L611,463.4L612,461L603,458.4L607,456.4L621,457L625,458.4L641,457.4L657,459.8L665,460.4L675,458.4L681,455.4L690,453.4L692,446.4L698,440.4L708,436.4L717,435.4L713,438.4L704,442.4L698,446.4L703,451.4L708,455.4L708,459.4L701,463.4L685,466.4L669,469.4L666,472.4L670,475.4L685,477.8L697,479.4L711,480.4L716,483.4L729,481L741,479.4L753,481L767,478.4L783,477.4L789,476.4L785,474.4L772,473.8L772,471.4L783,469.4L795,467L807,465.4L819,462.4L822,459L831,455.4L843,453.8L857,454.4L867,453.4L879,451.4L889,453.4L901,451.4L915,452.4L929,450.4L943,447.8L954.8,449.8L972,445.4L991.8,441.2L1001.7,442.4L1011.5,445.4L1026.3,446.1L1030,451L1026.8,454.7L1033.7,456L1043.6,451L1056,446.1L1075.7,443.6L1093,444.4L1107.7,442.9L1113.9,439.9L1122.5,443.6L1137.3,441.9L1152,444.4L1169.4,442.9L1191.6,441.9L1194,439.4L1196.5,442.9L1218.7,443.6L1238.5,447.8L1258.2,451L1281.6,455.4L1268,462.6L1263,469.4L1271.8,472L1255.7,476.9L1260.7,480.6L1275.5,484.4L1290.3,486.8L1304.5,488M455,472.4L461,471.4L466,474.4L460,475.4L455,472.4M675,454.4L683,448.4L692,455.4L684,456.4L675,454.4M725,477.4L735,471.4L748,470.4L753,475.4L745,478.4L725,477.4M696,476.4L713,477.4"/>
<path id="china" d="M1166.5,179.6L1170.7,177.4L1173,175.2L1175.9,174.7L1180.4,172.5L1182.1,173.5L1183.8,171L1183.1,167.8L1185.6,166.8L1188.3,167L1189.3,163.6L1192.2,159.1L1186.8,160.6L1182.6,160.1L1182.3,157.6L1179.4,156.4L1174.7,155.9L1174.4,154.4L1172,151.2L1169.5,147.5L1164.6,146.3L1157.9,146.8L1156.1,148.5L1157.6,150L1153.9,153.9L1154.2,154.4L1150.5,156.1L1147.7,155.4L1146,157.9L1145,160.1L1150.5,160.6L1155.2,161.8L1155.4,163.1L1151,163.1L1147.5,164.1L1140.3,167.8L1135.6,167.3L1135.9,170.5L1131.2,173L1125,173.7L1118.8,175.4L1111.4,174.2L1106.5,173L1097.8,172.7L1095.3,169.3L1090.4,167.3L1084,166.5L1084.2,164.8L1083,161.1L1078.8,159.4L1076.3,156.9L1071.4,158.9L1070.6,162.1L1064.4,161.8L1063.2,166.5L1058.3,167.8L1059,171.7L1057.8,172.2L1057.5,174.4L1053.3,175.9L1049.1,177.4L1044.2,178.4L1041.2,181.1L1042,183.3L1044.4,183.6L1044.4,186.1L1045.2,186.8L1046.9,187.8L1047.6,189.8L1051.6,190.8L1054.3,193.7L1054.1,195.7L1055.1,196.9L1055.1,198.2L1053.3,197.9L1053.8,200.7L1056.3,201.9L1059.8,203.9L1062.7,204.1L1065.2,205.6L1066.7,206.1L1067.4,207.3L1069.6,207.8L1071.9,209.6L1074.1,209.3L1077.1,209.6L1078.5,209.1L1078.8,211L1080.5,209.3L1081.8,208.6L1083.5,209.1L1086,209.8L1087.9,209.6L1090.2,207.8L1093.1,206.1L1095.1,206.8L1097.1,208.3L1099.8,208.6L1103.3,210.5L1102,215.5L1100.5,219.2L1103.5,219.2L1104,221.7L1104.5,223.9L1106.7,225.1L1109.4,225.4L1110.7,226.1L1111.7,223.2L1112.6,222.4L1116.4,222.7L1119.6,220.9L1122.8,221.9L1123,224.1L1126,225.4M1166.5,179.6L1161.6,182.1L1158.9,180.9L1160.8,178.2L1158.9,177.4L1154.7,180.1L1151,181.9L1152.9,184.6L1153.4,186.6L1157.1,185.3L1161.8,186.1L1158.4,188.3L1154.7,191.5L1156.6,194.5L1158.4,197.4L1160.3,199.9L1160.6,202.1L1157.1,203.6L1160.8,204.9L1159.9,208.1L1157.6,210.1L1155.4,213L1154.2,215.5L1151.5,218L1148,220.9L1143,222.4L1141.1,223.4L1137.4,224.6L1132.4,226.1L1131.9,228.4L1130.7,225.4L1127.5,224.9L1125.7,225.4M1128,231.1L1131.2,229.1L1133.7,229.8L1132.4,232.3L1129.9,233.5L1128,232.6L1128,231.1M1158.4,216.2L1160.6,216.7L1159.6,220.4L1157.9,224.1L1156.1,221.7L1157.1,218.5L1158.4,216.2"/>
</defs>
<rect width="1500" height="1124" fill="#fff"/>
<g clip-path="url(#cb)">
<rect x="414.4" y="56.0" width="889.8000000000001" height="445.1" fill="#fff580"/>
<path fill="#ff8c00" d="M410.0,54.0H610.0V204.0H410.0Z"/>
<path fill="#ffc81e" d="M598.5,111.9L588.6,111.6L581.8,111.4L575.8,111.2L570.8,111.2L566.2,111.2L561.8,111.4L557.8,111.7L554.2,112.1L550.8,112.6L547.6,113.2L544.7,113.9L542.0,114.8L539.5,115.7L537.3,116.7L535.2,117.8L533.4,118.9L531.8,120.2L530.4,121.5L529.2,122.9L528.2,124.4L527.6,126.0L527.1,127.7L527.0,129.4L527.1,131.2L526.9,133.0L526.3,134.5L525.3,136.0L524.0,137.3L522.8,138.8L521.8,140.5L521.0,142.3L520.3,144.3L519.7,146.2L519.1,148.0L518.6,149.6L518.1,151.1L517.2,152.4L516.1,153.5L514.6,154.5L512.8,155.2L510.6,155.7L508.2,155.9L505.5,155.8L502.5,155.3L499.4,154.8L496.2,154.2L493.0,153.5L489.7,152.8L485.8,152.0L481.5,151.4L476.7,150.7L471.3,150.2L465.7,149.6L459.7,149.1L453.3,148.6L446.7,148.1L439.5,147.6L431.8,147.2L421.5,146.8L410.0,146.3L410.0,204.0L610.0,204.0L610.0,112.4Z"/>
<path fill="#ff8c00" d="M555.9,153.3L555.3,154.2L555.2,155.7L555.5,157.7L555.7,159.8L555.7,162.2L555.5,164.7L555.2,167.3L555.0,169.8L555.1,171.9L555.4,173.8L555.9,175.5L556.4,176.5L556.9,176.8L557.4,176.5L557.9,175.5L558.5,174.2L559.2,172.5L559.9,170.5L560.8,168.2L561.7,166.1L562.7,164.2L563.8,162.7L564.9,161.3L565.4,160.0L565.2,158.5L564.4,157.1L562.9,155.6L561.4,154.4L559.9,153.6L558.4,153.1L556.9,152.9Z"/>
<path fill="#fff580" d="M467.0,202.6L467.1,197.8L466.9,194.4L466.6,191.3L466.1,188.7L465.5,186.0L464.7,183.3L463.8,180.7L462.8,178.0L461.6,175.6L460.2,173.4L458.6,171.5L456.8,169.8L454.7,168.3L452.5,167.0L450.0,165.8L447.3,164.8L444.2,164.0L440.8,163.5L436.8,163.1L432.5,162.9L427.8,162.7L422.6,162.3L415.5,161.8L410.0,161.3L410.0,204.0L467.0,204.0Z"/>
<path fill="#ffc81e" d="M412.5,188.5L417.7,187.5L421.0,186.5L423.7,185.3L425.7,184.0L427.2,182.7L428.4,181.3L429.2,180.0L429.5,178.7L429.3,177.3L428.7,176.0L427.5,174.7L425.8,173.3L423.2,172.2L419.8,171.4L414.0,170.8L410.0,170.5L410.0,188.9Z"/>
<path fill="#fff580" d="M606.0,134.4L600.1,134.6L596.2,134.9L593.2,135.2L590.8,135.5L588.7,136.0L586.8,136.7L585.1,137.5L583.6,138.5L582.1,139.6L580.6,140.9L579.1,142.2L577.6,143.8L576.4,145.5L575.4,147.4L574.7,149.5L574.3,151.8L574.3,153.9L574.7,155.8L575.4,157.3L576.6,158.7L577.1,160.1L577.1,161.6L576.4,163.2L575.2,164.8L573.7,166.4L572.0,167.9L570.1,169.3L567.9,170.7L566.6,172.2L566.1,173.8L566.4,175.7L567.6,177.7L568.6,179.7L569.5,181.7L570.2,183.7L570.8,185.7L571.1,187.6L571.2,189.5L571.0,191.4L570.6,193.2L570.2,195.6L569.7,198.5L569.1,203.0L569.0,204.0L610.0,204.0L610.0,134.2Z"/>
<path fill="#addcf3" d="M582.0,149.9L581.5,150.6L581.4,151.5L581.9,152.5L582.7,153.5L583.7,154.4L584.9,155.2L586.4,156.1L588.2,156.7L590.3,157.0L592.7,157.1L595.3,156.9L597.6,156.6L599.4,156.1L600.8,155.4L601.8,154.6L602.2,153.7L601.8,152.8L600.8,151.8L599.2,150.8L597.3,150.0L595.3,149.3L593.2,148.8L590.8,148.5L588.7,148.4L586.7,148.5L584.8,148.8L583.2,149.2Z"/>
<path fill="#addcf3" d="M608.6,181.7L606.8,179.5L605.4,177.5L604.6,175.8L603.3,174.4L601.7,173.2L599.6,172.2L597.1,171.4L594.6,170.9L592.1,170.5L589.6,170.4L587.1,170.5L584.5,170.7L581.7,171.0L578.8,171.4L575.8,171.9L574.2,172.7L574.1,173.8L575.3,175.2L578.0,176.8L580.1,178.5L581.6,180.3L582.5,182.1L582.8,183.9L583.4,186.3L584.1,189.2L585.1,192.7L586.2,196.7L587.7,200.2L589.3,203.4L589.8,204.0L610.0,204.0L610.0,183.2Z"/>
<path fill="#4fc3f7" d="M586.0,179.3L590.0,177.7L586.7,175.6L582.7,177.3Z"/>
<path fill="#ff3300" d="M576.0,62.8L554.8,62.8L540.5,62.8L528.3,62.9L518.3,63.1L509.2,63.3L500.8,63.7L493.3,64.1L486.7,64.6L481.5,65.2L477.8,65.8L475.7,66.6L475.0,67.4L474.0,68.4L472.7,69.5L471.0,70.7L469.0,72.0L466.5,73.3L463.5,74.5L460.0,75.8L456.0,76.9L451.8,78.0L447.2,79.1L442.5,80.2L437.5,81.2L432.0,82.2L426.0,83.2L417.8,84.4L410.0,85.5L410.0,133.7L414.0,134.2L420.2,135.1L424.5,135.9L428.3,136.8L431.7,137.8L435.2,138.8L438.8,139.7L442.7,140.6L446.7,141.4L450.3,141.9L453.7,142.1L456.7,141.9L459.3,141.4L462.0,140.6L464.7,139.5L467.3,138.2L470.0,136.5L472.3,134.9L474.3,133.4L476.0,132.0L477.3,130.7L478.7,129.3L480.0,128.0L481.3,126.7L482.7,125.3L483.8,124.0L484.7,122.7L485.4,121.3L485.9,120.0L486.2,118.7L486.2,117.3L485.9,116.0L485.4,114.7L484.1,113.5L482.0,112.6L479.2,111.9L475.5,111.4L471.8,111.0L467.9,110.6L464.0,110.3L460.0,110.1L456.5,109.7L453.6,109.2L451.2,108.6L449.4,107.8L448.1,106.9L447.4,105.7L447.2,104.4L447.5,102.9L448.2,101.5L449.3,100.0L450.8,98.7L452.6,97.3L455.1,96.1L458.4,94.9L462.3,93.8L467.0,92.8L472.3,92.0L478.3,91.3L485.0,90.7L492.3,90.3L500.3,90.0L509.0,89.9L518.3,89.8L528.3,89.9L537.5,89.9L545.8,89.8L553.3,89.6L560.0,89.3L566.7,88.8L573.3,88.0L580.0,86.8L586.7,85.4L593.0,84.3L599.0,83.4L606.0,82.8L610.0,82.5L610.0,63.0Z"/>
<path fill="#ffc81e" d="M513.0,99.3L519.0,100.7L524.7,100.7L530.0,99.3L529.7,98.2L523.7,97.4L518.0,97.4L512.7,98.2Z"/>
<path fill="#ff8c00" d="M610.0,54.0H810.0V204.0H610.0Z"/>
<path fill="#ff3300" d="M614.0,71.5L620.6,71.1L625.8,70.8L630.8,70.4L635.8,70.0L641.2,69.5L647.1,69.1L653.3,68.6L660.0,68.1L666.4,67.6L672.6,67.1L678.5,66.6L684.2,66.1L687.4,65.6L688.2,65.2L686.7,64.8L682.7,64.5L678.0,64.2L672.7,63.9L666.7,63.7L660.0,63.4L652.0,63.2L642.7,63.1L629.0,63.1L610.0,63.1L610.0,71.6Z"/>
<path fill="#ffc81e" d="M806.0,104.9L799.8,106.3L795.5,107.7L791.7,109.2L788.3,110.8L784.6,112.4L780.4,113.8L775.8,115.1L770.8,116.2L766.2,117.5L762.1,118.8L758.3,120.2L755.0,121.8L751.8,122.8L748.6,123.2L745.5,123.2L742.5,122.8L739.3,122.5L736.0,122.4L732.5,122.5L728.8,122.8L724.5,123.1L719.5,123.4L713.8,123.6L707.5,123.8L702.2,123.8L698.1,123.8L695.0,123.8L693.0,123.6L690.9,123.3L688.8,122.9L686.5,122.3L684.2,121.7L681.9,121.3L679.6,121.3L677.4,121.7L675.2,122.3L673.4,123.2L671.9,124.4L670.8,125.8L669.9,127.5L669.4,129.4L669.1,131.6L669.2,134.0L669.5,136.7L669.6,139.2L669.4,141.6L669.0,143.9L668.3,146.1L668.2,148.0L668.5,149.5L669.3,150.8L670.7,151.8L672.4,152.5L674.6,153.0L677.2,153.1L680.2,152.9L683.6,152.8L687.4,152.8L691.7,152.9L696.3,153.1L700.7,153.4L704.7,153.8L708.3,154.3L711.7,155.0L714.5,155.8L717.0,156.7L718.9,157.8L720.4,158.9L721.7,160.2L722.7,161.6L723.4,163.2L723.9,164.8L723.8,166.4L723.0,167.9L721.7,169.3L719.7,170.7L717.3,171.7L714.7,172.5L711.7,172.9L708.3,173.1L705.0,173.3L701.7,173.5L698.3,173.8L695.0,174.2L691.8,174.6L688.8,175.1L686.0,175.7L683.3,176.3L680.6,177.0L677.8,177.8L674.8,178.6L671.8,179.4L668.8,180.0L665.6,180.2L662.3,180.2L659.0,179.8L655.9,179.2L653.0,178.3L650.2,177.1L647.8,175.6L646.2,174.0L645.8,172.2L646.2,170.3L647.8,168.3L648.8,166.5L649.4,164.8L649.5,163.3L649.2,162.0L649.3,160.7L650.0,159.5L651.2,158.2L652.8,157.1L654.6,156.0L656.4,155.1L658.3,154.3L660.3,153.7L661.7,153.0L662.3,152.2L662.3,151.4L661.7,150.6L660.8,149.7L659.8,148.7L658.7,147.6L657.3,146.4L655.7,145.3L653.7,144.3L651.3,143.4L648.7,142.6L645.9,141.8L643.1,140.9L640.2,140.1L637.2,139.2L634.5,138.3L632.2,137.2L630.2,136.0L628.5,134.7L627.3,133.2L626.5,131.8L626.2,130.2L626.4,128.5L626.7,126.8L627.0,124.9L627.4,123.0L627.9,121.0L628.0,119.2L627.5,117.6L626.7,116.2L625.3,115.1L623.0,114.2L619.7,113.5L614.0,113.0L610.0,112.9L610.0,204.0L810.0,204.0L810.0,104.2Z"/>
<path fill="#fff580" d="M808.2,119.9L803.5,121.2L800.6,122.5L798.4,124.1L796.9,125.9L795.1,127.6L792.9,129.2L790.4,130.7L787.6,132.0L784.6,133.3L781.5,134.7L778.3,136.0L775.0,137.3L771.9,138.7L769.1,140.0L766.5,141.3L764.2,142.7L762.1,144.0L760.2,145.3L758.7,146.7L757.3,148.0L756.8,149.4L757.2,150.9L758.3,152.5L760.3,154.2L761.8,155.9L762.6,157.8L762.8,159.7L762.5,161.7L762.0,163.6L761.3,165.4L760.5,167.2L759.5,168.8L758.2,170.6L756.8,172.4L755.0,174.3L753.0,176.3L750.8,178.2L748.2,180.1L745.5,181.8L742.5,183.5L739.5,185.2L736.5,186.8L733.5,188.5L730.5,190.2L727.7,191.8L725.0,193.4L722.5,194.9L720.2,196.4L717.9,198.4L715.8,200.8L713.5,204.0L810.0,204.0L810.0,119.5Z"/>
<path fill="#fff580" d="M728.0,147.1L732.0,149.2L735.3,149.5L738.0,148.1L737.3,146.4L733.3,144.5L730.0,144.2L727.3,145.4Z"/>
<path fill="#addcf3" d="M790.3,161.3L791.0,162.7L793.5,162.0L797.8,159.3L799.8,157.2L799.5,155.5L797.0,156.2L792.3,159.2Z"/>
<path fill="#fff580" d="M627.0,200.3L627.5,197.9L628.2,196.0L629.2,194.7L629.8,193.3L630.0,192.0L629.9,190.7L629.4,189.3L628.4,188.0L626.8,186.7L624.7,185.3L622.0,184.0L619.8,182.5L618.0,181.0L616.8,179.2L615.9,177.4L615.6,175.8L615.8,174.2L616.4,172.9L617.6,171.8L618.6,170.4L619.4,168.8L620.1,167.0L620.6,165.0L620.6,163.0L620.1,161.0L619.1,159.0L617.6,157.0L615.6,155.2L613.2,153.8L610.0,152.5L610.0,204.0L627.0,204.0Z"/>
<path fill="#addcf3" d="M615.0,200.2L615.3,197.6L615.4,195.5L615.5,193.8L615.3,192.2L614.9,190.6L614.2,189.1L613.3,187.6L612.0,186.1L610.4,184.7L610.0,184.5L610.0,204.0L614.5,204.0Z"/>
<path fill="#ff3300" d="M665.7,91.9L663.7,92.6L662.3,93.8L661.7,95.5L661.0,97.2L660.3,98.8L659.7,100.5L659.0,102.2L658.8,103.8L659.2,105.2L660.0,106.7L661.3,108.0L662.9,109.0L664.8,109.7L666.8,110.0L669.2,110.0L671.5,109.8L673.8,109.2L676.2,108.5L678.5,107.5L680.9,106.8L683.4,106.5L686.0,106.5L688.7,106.8L690.8,106.9L692.5,106.8L693.7,106.3L694.3,105.7L694.2,104.8L693.2,103.6L691.3,102.2L688.7,100.5L686.2,98.9L683.8,97.3L681.7,95.8L679.7,94.2L677.3,93.1L674.7,92.2L671.7,91.8L668.3,91.6Z"/>
<path fill="#ffc81e" d="M650.4,82.4L649.9,83.1L650.2,83.9L651.2,84.8L652.6,85.4L654.4,85.8L656.7,86.0L659.3,86.0L661.6,85.8L663.4,85.2L664.8,84.5L665.8,83.5L665.9,82.6L665.1,81.9L663.3,81.2L660.7,80.8L658.2,80.5L655.8,80.6L653.7,81.0L651.7,81.7Z"/>
<path fill="#ffc81e" d="M708.1,80.6L706.9,81.2L706.5,81.9L706.8,82.8L707.7,83.5L709.0,84.0L710.8,84.5L713.2,84.8L715.5,84.9L717.8,84.8L720.2,84.3L722.5,83.7L723.7,83.0L723.7,82.2L722.5,81.4L720.2,80.6L717.8,80.0L715.2,79.8L712.7,79.8L710.0,80.2Z"/>
<path fill="#ffc81e" d="M810.0,54.0H1010.0V204.0H810.0Z"/>
<path fill="#ff8c00" d="M813.3,102.5L816.0,100.8L818.3,99.0L820.3,97.0L822.7,95.0L825.3,93.0L828.3,91.0L831.7,89.0L835.0,87.2L838.3,85.5L841.7,84.0L845.0,82.7L848.8,81.5L852.9,80.5L857.5,79.7L862.5,79.0L867.5,78.4L872.5,77.8L877.5,77.2L882.5,76.8L887.2,76.2L891.8,75.8L896.0,75.2L900.0,74.8L902.5,74.0L903.5,73.1L903.0,72.0L901.0,70.7L898.8,69.5L896.5,68.4L894.0,67.4L891.3,66.6L890.3,65.8L891.0,65.0L893.3,64.3L897.3,63.7L902.0,63.1L907.3,62.6L913.3,62.2L920.0,61.8L927.5,61.5L935.8,61.3L945.0,61.1L955.0,60.9L965.5,60.8L976.5,60.6L991.0,60.4L1010.0,60.1L1010.0,54.0L810.0,54.0L810.0,104.1Z"/>
<path fill="#fff580" d="M994.8,76.9L983.2,77.3L975.5,77.7L969.2,78.1L964.2,78.6L959.2,79.2L954.2,79.8L949.2,80.6L944.2,81.4L939.6,82.2L935.4,83.1L931.7,83.9L928.3,84.8L924.6,85.3L920.4,85.7L915.8,85.8L910.8,85.6L906.2,85.3L902.1,84.9L898.3,84.3L895.0,83.7L891.8,82.9L888.8,82.2L886.0,81.3L883.3,80.4L880.2,79.8L876.5,79.5L872.3,79.4L867.7,79.7L862.8,80.1L857.8,80.7L852.7,81.5L847.3,82.5L842.5,83.7L838.2,85.0L834.3,86.5L831.0,88.2L827.9,90.0L825.1,91.9L822.5,93.9L820.2,96.1L817.5,98.4L814.5,100.8L810.2,104.0L810.0,104.2L810.0,204.0L817.1,204.0L818.3,198.1L820.1,191.1L821.6,186.4L823.2,182.3L824.8,179.0L826.4,175.9L827.9,173.1L829.3,170.5L830.7,168.2L831.9,165.8L833.1,163.5L834.2,161.2L835.2,158.8L836.4,156.4L837.8,153.9L839.4,151.3L841.2,148.7L843.2,146.0L845.4,143.3L847.8,140.7L850.2,138.0L852.7,135.5L855.1,133.2L857.5,131.0L859.8,129.0L861.8,127.1L863.5,125.2L864.8,123.5L865.8,121.8L866.9,120.7L868.1,120.0L869.3,119.8L870.7,120.2L872.1,120.8L873.6,121.6L875.2,122.7L876.8,124.0L878.2,125.5L879.4,127.2L880.3,129.0L881.0,131.0L882.0,132.8L883.3,134.5L885.0,136.0L887.0,137.3L889.3,138.5L892.0,139.5L895.0,140.3L898.3,141.0L901.7,141.4L905.0,141.6L908.3,141.5L911.7,141.2L914.6,140.6L917.1,139.8L919.2,138.7L920.8,137.3L922.5,136.1L924.2,134.9L925.8,133.8L927.5,132.8L929.6,132.1L932.1,131.8L935.0,131.7L938.3,132.0L941.7,132.0L945.0,131.7L948.3,131.1L951.7,130.2L955.4,129.3L959.6,128.4L964.2,127.3L969.2,126.3L974.2,125.2L979.2,124.2L984.2,123.2L989.2,122.2L994.2,121.3L999.4,120.7L1006.0,120.1L1010.0,119.8L1010.0,76.6Z"/>
<path fill="#addcf3" d="M822.4,106.1L822.2,107.6L822.6,108.8L823.4,109.8L824.6,110.7L826.2,111.5L828.2,112.1L830.5,112.6L833.2,112.9L836.4,113.1L840.0,113.1L844.0,112.9L848.0,112.5L852.0,112.0L856.0,111.2L860.0,110.2L863.8,109.0L867.5,107.7L871.0,106.2L874.3,104.5L877.2,102.8L879.5,101.2L881.3,99.5L882.7,97.8L883.6,96.3L884.1,94.9L884.2,93.6L883.8,92.4L882.9,91.3L881.4,90.3L879.3,89.4L876.7,88.6L873.5,88.0L869.8,87.7L865.7,87.6L861.0,87.8L856.4,88.2L851.9,88.8L847.5,89.8L843.2,90.9L839.2,92.2L835.8,93.6L832.7,95.2L830.0,96.8L827.7,98.6L825.8,100.4L824.2,102.3L823.1,104.3Z"/>
<path fill="#4fc3f7" d="M828.6,104.5L828.4,105.7L828.8,106.8L829.8,107.8L831.3,108.6L833.3,109.1L835.8,109.3L838.8,109.3L842.0,109.1L845.3,108.6L848.8,107.8L852.5,106.8L855.8,105.7L858.8,104.5L861.5,103.1L863.8,101.6L865.6,100.1L866.9,98.7L867.6,97.3L867.8,96.0L867.4,94.9L866.6,94.0L865.2,93.2L863.4,92.8L861.0,92.5L858.1,92.5L854.7,92.8L850.7,93.2L846.9,94.0L843.4,94.9L840.2,96.0L837.2,97.3L834.6,98.7L832.4,100.1L830.7,101.6L829.3,103.1Z"/>
<path fill="#12a9f9" d="M839.3,103.6L843.3,102.7L841.3,100.7L837.3,102.0Z"/>
<path fill="#addcf3" d="M897.8,115.7L898.2,116.3L899.2,116.7L900.8,116.7L902.8,116.5L904.9,116.3L907.3,115.9L910.0,115.4L912.5,115.2L914.8,115.2L917.0,115.4L919.0,115.9L920.8,116.5L922.2,117.3L923.5,118.2L924.5,119.2L925.8,119.9L927.5,120.4L929.5,120.7L931.8,120.7L934.0,120.5L936.0,120.2L937.8,119.7L939.5,119.0L940.8,118.2L941.8,117.2L942.5,116.0L942.8,114.7L942.8,113.3L942.2,112.0L941.3,110.7L940.0,109.3L938.2,108.2L936.1,107.4L933.5,106.8L930.5,106.5L927.3,106.3L924.0,106.3L920.5,106.5L916.8,106.8L913.4,107.3L910.2,108.0L907.3,108.8L904.7,109.8L902.4,110.9L900.6,112.1L899.2,113.3L898.2,114.7Z"/>
<path fill="#addcf3" d="M943.2,93.7L942.3,95.0L941.8,96.5L941.6,98.2L941.5,99.8L941.5,101.5L941.6,103.2L941.8,104.8L942.3,106.3L943.2,107.7L944.5,108.8L946.2,109.8L948.2,110.7L950.5,111.3L953.2,111.8L956.2,112.2L959.0,112.6L961.7,113.1L964.2,113.7L966.5,114.3L968.9,114.8L971.4,114.9L974.0,114.8L976.7,114.5L978.5,114.0L979.5,113.3L979.7,112.5L979.0,111.5L978.0,110.3L976.7,109.0L975.0,107.5L973.0,105.8L971.7,104.2L971.0,102.5L971.0,100.8L971.7,99.2L972.1,97.6L972.2,96.2L972.2,94.9L971.8,93.8L970.9,92.7L969.4,91.8L967.3,91.0L964.7,90.3L961.9,89.9L959.1,89.6L956.2,89.6L953.2,89.8L950.5,90.1L948.2,90.7L946.2,91.5L944.5,92.5Z"/>
<path fill="#ff8c00" d="M1006.0,144.2L999.4,143.6L994.2,143.1L989.2,142.6L984.2,142.1L979.2,141.7L974.2,141.3L969.2,141.1L964.2,140.9L959.6,140.9L955.4,141.1L951.7,141.4L948.3,141.9L945.0,142.4L941.7,142.9L938.3,143.4L935.0,143.9L931.7,144.4L928.3,144.8L925.0,145.2L921.7,145.5L918.3,145.8L915.0,146.2L911.7,146.5L908.3,146.8L904.8,147.2L901.2,147.5L897.3,147.8L893.3,148.2L889.7,148.7L886.3,149.3L883.3,150.2L880.7,151.2L878.4,152.4L876.6,153.9L875.2,155.7L874.2,157.7L874.0,159.4L874.7,160.9L876.2,162.2L878.5,163.2L880.9,164.2L883.4,165.2L886.0,166.2L888.7,167.2L891.3,168.1L894.0,168.9L896.7,169.7L899.3,170.3L902.2,171.0L905.2,171.7L908.3,172.3L911.7,173.0L914.8,173.2L917.8,173.1L920.7,172.5L923.3,171.5L925.2,170.4L926.4,169.2L926.8,168.0L926.5,166.7L926.5,165.3L926.8,164.0L927.5,162.7L928.5,161.3L930.1,160.2L932.2,159.4L935.0,158.8L938.3,158.5L942.5,158.2L947.5,158.0L953.3,157.8L960.0,157.6L965.8,157.4L970.8,157.2L975.0,157.1L978.3,156.9L981.7,156.7L985.0,156.5L988.3,156.2L991.7,155.8L995.5,155.7L999.8,155.7L1006.0,155.9L1010.0,156.2L1010.0,144.6Z"/>
<path fill="#fff580" d="M935.8,181.9L934.8,183.1L934.5,184.5L934.8,186.2L935.6,187.8L936.8,189.5L938.3,191.2L940.3,192.8L942.7,194.2L945.3,195.4L948.3,196.3L951.7,197.0L954.4,197.2L956.6,196.8L958.2,196.0L959.2,194.7L959.2,193.3L958.2,192.0L956.2,190.7L953.2,189.3L951.0,188.1L949.7,186.9L949.2,185.8L949.5,184.8L949.3,183.8L948.7,182.8L947.5,181.8L945.8,180.8L944.0,180.2L942.0,180.1L939.8,180.3L937.5,181.0Z"/>
<path fill="#ffc81e" d="M1010.0,54.0H1210.0V204.0H1010.0Z"/>
<path fill="#ff8c00" d="M1025.2,60.8L1037.2,61.7L1045.8,62.3L1053.3,63.0L1060.0,63.7L1066.7,64.4L1073.3,65.1L1080.0,65.9L1086.7,66.8L1092.9,67.7L1098.8,68.7L1104.2,69.8L1109.2,70.9L1114.2,72.1L1119.2,73.4L1124.2,74.7L1129.2,76.0L1134.2,77.4L1139.2,78.8L1144.2,80.2L1149.2,81.8L1154.2,83.2L1159.2,84.6L1164.2,86.0L1169.2,87.3L1174.2,88.5L1179.2,89.6L1184.2,90.6L1189.2,91.4L1194.2,92.1L1199.4,92.7L1206.0,93.2L1210.0,93.5L1210.0,54.0L1010.0,54.0L1010.0,59.8Z"/>
<path fill="#ff8c00" d="M1198.5,99.3L1188.2,99.2L1180.5,99.1L1173.3,98.8L1166.7,98.5L1160.0,98.3L1153.3,98.2L1146.7,98.2L1140.0,98.4L1134.3,98.5L1129.7,98.5L1126.0,98.4L1123.3,98.2L1121.8,97.9L1121.2,97.3L1121.8,96.5L1123.5,95.5L1124.6,94.4L1125.1,93.2L1125.0,92.0L1124.3,90.7L1123.1,89.5L1121.2,88.4L1118.8,87.4L1115.8,86.6L1112.6,86.0L1109.1,85.7L1105.3,85.6L1101.3,85.8L1097.3,86.3L1093.3,87.2L1089.3,88.5L1085.3,90.2L1081.8,91.8L1078.8,93.2L1076.3,94.7L1074.3,96.0L1072.9,97.3L1072.1,98.7L1071.8,100.0L1072.2,101.3L1072.9,102.6L1074.1,103.8L1075.7,104.8L1077.7,105.8L1080.2,106.8L1083.2,107.6L1086.7,108.3L1090.7,109.0L1094.8,109.5L1098.9,109.7L1103.2,109.8L1107.5,109.6L1111.8,109.5L1115.9,109.5L1120.0,109.6L1124.0,109.8L1127.8,109.9L1131.5,110.1L1135.0,110.2L1138.3,110.4L1141.7,110.7L1145.0,111.0L1148.3,111.4L1151.7,111.9L1155.0,112.5L1158.3,113.3L1161.7,114.2L1165.0,115.2L1168.3,116.2L1171.7,117.2L1175.0,118.2L1178.3,119.2L1181.7,120.2L1185.0,121.4L1188.3,122.7L1191.7,124.0L1195.5,125.2L1199.8,126.2L1206.0,127.2L1210.0,127.7L1210.0,99.3Z"/>
<path fill="#fff580" d="M1011.0,111.2L1015.8,110.2L1019.2,109.2L1022.5,108.0L1025.5,106.7L1028.2,105.3L1030.8,104.0L1033.0,102.7L1035.0,101.3L1036.4,99.9L1037.2,98.4L1037.5,96.8L1037.2,95.2L1037.2,93.5L1037.5,91.8L1038.2,90.2L1039.2,88.5L1039.8,86.9L1039.9,85.3L1039.7,83.8L1039.0,82.2L1037.6,81.1L1035.4,80.2L1032.5,79.8L1028.8,79.6L1024.8,79.5L1020.2,79.6L1014.0,79.9L1010.0,80.2L1010.0,111.3Z"/>
<path fill="#fff580" d="M1206.0,131.8L1199.4,130.4L1194.2,129.2L1189.2,128.0L1184.2,126.7L1179.2,125.5L1174.2,124.5L1169.2,123.7L1164.2,123.0L1159.2,122.4L1154.2,121.9L1149.2,121.5L1144.2,121.2L1139.3,121.0L1134.7,121.1L1130.2,121.4L1125.8,121.9L1122.1,122.5L1118.9,123.2L1116.3,123.9L1114.3,124.8L1113.0,125.6L1112.3,126.5L1112.3,127.5L1113.0,128.5L1114.1,129.4L1115.6,130.2L1117.5,131.0L1119.8,131.7L1122.3,132.6L1125.0,133.8L1127.8,135.2L1130.8,136.8L1133.6,138.6L1136.1,140.4L1138.3,142.3L1140.3,144.3L1142.2,146.3L1144.1,148.3L1145.8,150.3L1147.5,152.3L1149.2,154.2L1150.8,155.8L1152.5,157.3L1154.2,158.7L1156.2,160.0L1158.8,161.3L1161.7,162.7L1165.0,164.0L1168.3,165.1L1171.7,165.9L1175.0,166.5L1178.3,166.8L1181.7,166.9L1185.0,166.8L1188.3,166.3L1191.7,165.7L1195.5,164.9L1199.8,164.1L1206.0,162.9L1210.0,162.2L1210.0,132.5Z"/>
<path fill="#addcf3" d="M1163.3,139.3L1165.3,135.3L1160.7,136.0Z"/>
<path fill="#addcf3" d="M1168.0,151.3L1170.0,149.3L1166.0,148.7Z"/>
<path fill="#ff8c00" d="M1202.2,168.8L1194.4,169.8L1189.2,170.6L1185.0,171.5L1181.7,172.5L1178.3,173.2L1175.0,173.8L1171.7,174.0L1168.3,174.0L1165.2,173.8L1162.4,173.5L1159.8,173.0L1157.5,172.3L1155.2,171.5L1153.1,170.5L1151.0,169.3L1149.0,168.0L1147.0,166.7L1145.0,165.3L1143.0,164.0L1141.0,162.7L1139.0,161.8L1137.0,161.4L1135.0,161.4L1133.0,161.9L1130.8,162.5L1128.5,163.0L1126.0,163.7L1123.3,164.3L1120.7,164.6L1118.1,164.5L1115.6,164.1L1113.1,163.2L1111.4,162.3L1110.5,161.2L1110.3,160.0L1111.0,158.7L1111.1,157.3L1110.7,156.0L1109.8,154.7L1108.2,153.3L1106.5,152.1L1104.4,150.9L1102.0,149.8L1099.3,148.8L1096.3,147.8L1093.0,146.6L1089.3,145.3L1085.3,144.0L1081.3,142.8L1077.3,141.7L1073.3,140.8L1069.3,139.9L1065.4,139.4L1061.6,139.1L1057.8,139.2L1054.2,139.5L1051.1,140.1L1048.6,141.0L1046.7,142.2L1045.3,143.8L1044.4,145.1L1043.9,146.4L1043.8,147.5L1044.2,148.5L1044.8,149.4L1045.6,150.2L1046.7,151.0L1048.0,151.7L1049.7,152.2L1051.7,152.5L1054.0,152.7L1056.7,152.7L1059.4,152.9L1062.2,153.4L1065.2,154.2L1068.2,155.2L1071.2,156.3L1074.2,157.7L1077.2,159.2L1080.2,160.8L1083.1,162.4L1085.9,163.9L1088.7,165.3L1091.3,166.7L1093.8,167.8L1096.2,168.8L1098.3,169.7L1100.3,170.3L1101.3,171.0L1101.3,171.7L1100.3,172.3L1098.3,173.0L1096.5,174.0L1094.8,175.3L1093.3,177.0L1092.0,179.0L1091.3,180.9L1091.3,182.8L1092.0,184.5L1093.3,186.2L1094.8,187.5L1096.5,188.5L1098.3,189.2L1100.3,189.5L1102.2,190.1L1104.0,190.9L1105.6,192.0L1107.1,193.3L1108.3,195.4L1109.3,198.1L1110.2,202.6L1110.4,204.0L1210.0,204.0L1210.0,168.1Z"/>
<path fill="#ff8c00" d="M1088.5,198.9L1087.2,193.1L1085.5,190.4L1083.3,189.2L1080.7,189.5L1077.8,189.9L1074.8,190.4L1071.7,191.0L1068.3,191.7L1065.2,191.7L1062.2,191.1L1059.3,189.9L1056.7,188.1L1054.0,186.7L1051.2,185.9L1048.4,185.5L1045.6,185.6L1043.0,185.8L1040.8,186.3L1038.8,186.8L1037.2,187.6L1035.2,188.5L1033.1,189.7L1030.7,191.2L1028.0,192.8L1026.0,195.1L1024.5,198.0L1023.7,202.6L1023.7,204.0L1089.1,204.0Z"/>
<path fill="#fff580" d="M1107.2,202.6L1105.8,198.2L1104.2,195.6L1102.0,193.8L1099.3,192.8L1096.8,192.2L1094.5,191.8L1092.3,191.8L1090.3,192.2L1089.0,192.8L1088.3,193.6L1088.3,194.7L1089.0,196.0L1089.7,197.9L1090.3,200.3L1091.1,204.0L1107.4,204.0Z"/>
<path fill="#ff3300" d="M1072.2,201.5L1071.8,199.5L1071.2,198.1L1070.2,197.2L1069.1,196.8L1067.9,196.6L1066.7,196.8L1065.3,197.2L1064.3,198.5L1063.7,200.5L1063.3,204.0L1072.1,204.0Z"/>
<path fill="#ff3300" d="M1151.7,202.6L1153.2,198.0L1154.2,194.9L1155.0,192.3L1155.7,190.3L1155.8,188.7L1155.5,187.5L1154.7,186.6L1153.3,186.1L1151.7,185.9L1149.7,186.1L1147.3,186.6L1144.7,187.4L1142.0,188.5L1139.3,189.7L1136.7,191.2L1134.0,192.8L1131.4,195.1L1128.9,198.0L1125.9,202.6L1125.1,204.0L1151.2,204.0Z"/>
<path fill="#ff3300" d="M1116.2,172.7L1119.2,174.0L1123.0,174.5L1127.7,174.2L1127.7,173.3L1123.0,172.0L1119.2,171.5L1116.2,171.8Z"/>
<path fill="#ff8c00" d="M1021.3,134.8L1025.3,136.5L1029.0,136.7L1032.3,135.3L1032.0,134.2L1028.0,133.2L1024.3,133.0L1021.0,133.7Z"/>
<path fill="#ff8c00" d="M1010.6,159.2L1014.3,158.2L1016.0,157.3L1016.6,156.2L1016.1,155.1L1014.9,154.0L1013.0,153.0L1010.0,152.0L1010.0,159.3Z"/>
<path fill="#ff8c00" d="M1210.0,54.0H1310.0V204.0H1210.0Z"/>
<path fill="#ff3300" d="M1309.0,86.9L1303.8,87.2L1299.5,87.6L1295.0,88.3L1290.3,89.1L1285.8,89.9L1281.5,90.6L1277.3,91.4L1273.3,92.2L1270.7,92.8L1269.3,93.4L1269.3,93.8L1270.7,94.2L1272.3,94.5L1274.3,94.7L1276.7,94.9L1279.3,95.1L1282.0,95.4L1284.7,95.9L1287.3,96.6L1290.0,97.4L1292.2,98.3L1293.8,99.3L1295.0,100.4L1295.7,101.6L1296.0,102.7L1296.0,103.8L1295.7,104.8L1295.0,105.8L1294.1,106.7L1292.9,107.5L1291.5,108.1L1289.8,108.6L1288.0,109.1L1286.0,109.6L1283.8,110.1L1281.5,110.6L1279.2,111.2L1277.1,112.1L1275.0,113.1L1273.0,114.2L1271.8,115.3L1271.2,116.3L1271.5,117.2L1272.5,118.1L1273.8,119.0L1275.5,119.9L1277.5,120.8L1279.8,121.8L1282.4,122.7L1285.2,123.3L1288.3,123.8L1291.7,124.2L1294.5,124.7L1296.8,125.3L1298.7,126.2L1300.0,127.2L1302.0,128.0L1304.7,128.7L1309.0,129.2L1310.0,129.3L1310.0,86.9Z"/>
<path fill="#ff3300" d="M1214.9,135.3L1214.1,136.0L1214.2,136.8L1215.2,137.8L1216.2,138.8L1217.4,139.8L1218.7,140.8L1220.0,141.8L1221.5,142.8L1223.2,143.6L1225.0,144.3L1227.0,145.0L1229.5,145.5L1232.5,145.8L1236.0,146.0L1240.0,146.0L1242.8,145.7L1244.5,145.0L1245.0,144.0L1244.3,142.7L1243.9,141.3L1243.8,140.0L1243.8,138.7L1244.2,137.3L1243.9,136.2L1243.1,135.4L1241.7,134.8L1239.7,134.5L1237.3,134.2L1234.7,134.1L1231.7,134.0L1228.3,134.0L1225.2,134.1L1222.2,134.2L1219.3,134.5L1216.7,134.8Z"/>
<path fill="#ffc81e" d="M1298.5,156.7L1289.0,156.6L1283.0,156.5L1278.3,156.4L1275.0,156.2L1271.7,156.2L1268.3,156.2L1265.0,156.2L1261.7,156.4L1258.3,156.5L1255.0,156.5L1251.7,156.4L1248.3,156.2L1245.0,156.0L1241.7,155.5L1238.3,155.0L1235.0,154.3L1231.7,153.6L1228.3,152.9L1225.0,152.1L1221.7,151.2L1218.3,150.4L1215.0,149.5L1211.7,148.5L1210.0,148.0L1210.0,204.0L1310.0,204.0L1310.0,156.7Z"/>
<path fill="#fff580" d="M1306.0,162.7L1299.4,162.8L1294.2,162.9L1289.2,163.2L1284.2,163.5L1279.2,164.0L1274.2,164.5L1269.2,165.2L1264.2,166.1L1260.1,167.0L1256.9,167.9L1254.7,168.8L1253.3,169.8L1252.5,170.8L1252.2,171.6L1252.3,172.3L1253.0,173.0L1254.1,173.5L1255.6,173.8L1257.5,174.0L1259.8,174.0L1262.4,173.9L1265.2,173.8L1268.3,173.5L1271.7,173.2L1275.4,173.0L1279.6,173.0L1284.2,173.2L1289.2,173.5L1294.2,173.8L1299.4,174.0L1306.0,174.3L1310.0,174.4L1310.0,162.7Z"/>
<path fill="#fff580" d="M1306.0,198.2L1300.1,199.6L1296.2,201.5L1293.5,204.0L1310.0,204.0L1310.0,197.7Z"/>
<path fill="#ff8c00" d="M1215.5,198.1L1216.2,191.1L1216.5,186.4L1216.7,182.3L1216.7,179.0L1216.3,176.3L1215.7,174.3L1214.7,173.0L1213.3,172.3L1211.8,172.0L1210.2,172.0L1210.0,172.0L1210.0,204.0L1214.9,204.0Z"/>
<path fill="#fff580" d="M410.0,204.0H610.0V354.0H410.0Z"/>
<path fill="#ffc81e" d="M460.0,207.1L458.7,209.2L456.7,210.8L454.0,211.8L451.2,213.0L448.2,214.3L445.0,215.8L441.7,217.5L438.3,219.2L435.0,221.1L431.7,223.0L428.3,225.0L424.5,226.8L420.2,228.5L414.0,230.3L410.0,231.3L410.0,295.3L411.0,295.4L415.8,295.8L419.2,296.2L422.5,296.5L425.5,296.8L429.0,297.1L433.0,297.2L437.5,297.3L442.5,297.3L447.5,297.2L452.5,297.1L457.5,296.8L462.5,296.5L467.5,296.0L472.5,295.3L477.5,294.5L482.5,293.5L487.1,292.5L491.2,291.5L495.0,290.5L498.3,289.5L501.7,288.5L505.0,287.5L508.3,286.5L511.7,285.5L517.0,284.8L524.3,284.2L533.7,284.0L545.0,284.0L553.5,280.7L559.2,274.0L562.0,264.0L562.0,250.7L562.3,240.4L563.0,233.2L564.0,229.2L565.3,228.2L566.7,227.0L568.0,225.7L569.3,224.2L570.7,222.5L571.8,220.7L572.8,218.7L573.7,216.5L574.3,214.2L574.8,211.5L574.9,208.5L574.8,204.2L574.7,204.0L460.6,204.0Z"/>
<path fill="#addcf3" d="M599.6,352.6L597.1,348.0L594.6,345.1L591.7,342.8L588.3,341.2L585.0,339.6L581.7,338.1L578.3,336.7L575.0,335.3L571.2,334.0L567.1,332.7L562.5,331.3L557.5,330.0L552.5,328.8L547.5,327.6L542.5,326.5L537.5,325.5L532.5,324.6L527.5,323.8L522.5,323.0L517.5,322.3L512.5,321.8L507.5,321.2L502.5,320.8L497.5,320.5L492.1,320.3L486.2,320.1L480.0,320.1L473.3,320.2L466.2,320.2L458.8,320.3L450.8,320.4L442.5,320.5L434.5,320.6L426.8,320.5L417.8,320.4L410.0,320.2L410.0,354.0L600.1,354.0Z"/>
<path fill="#4fc3f7" d="M557.3,351.4L556.7,349.1L555.5,347.3L553.8,346.0L551.8,344.7L549.2,343.3L546.3,342.0L543.0,340.7L539.6,339.5L536.1,338.4L532.5,337.4L528.8,336.6L525.2,335.9L521.5,335.3L517.8,334.8L514.2,334.5L510.9,334.5L508.1,334.7L505.7,335.2L503.7,336.1L502.3,337.2L501.7,338.6L501.7,340.3L502.3,342.3L503.3,344.9L504.7,348.0L506.8,352.6L507.5,354.0L557.4,354.0Z"/>
<path fill="#addcf3" d="M595.5,204.9L596.5,206.6L597.8,207.9L599.5,208.8L601.8,209.3L604.6,209.7L609.0,209.7L610.0,209.7L610.0,204.0L595.3,204.0Z"/>
<path fill="#fff580" d="M610.0,204.0H810.0V354.0H610.0Z"/>
<path fill="#ffc81e" d="M628.4,205.4L629.9,207.2L631.7,208.6L633.7,209.4L636.0,210.2L638.7,210.9L641.7,211.6L645.0,212.2L648.5,212.6L652.2,212.7L656.0,212.7L660.0,212.4L664.2,212.2L668.5,212.1L673.0,212.1L677.7,212.2L682.3,212.0L687.0,211.6L691.7,210.9L696.3,210.0L700.4,208.6L703.9,206.5L706.5,204.0L627.7,204.0Z"/>
<path fill="#ffc81e" d="M682.6,254.2L681.8,255.2L681.7,256.8L682.3,259.2L683.2,261.2L684.4,263.1L685.8,264.7L687.5,266.0L689.2,267.1L690.8,267.9L692.5,268.5L694.2,268.8L695.6,268.7L696.8,268.0L697.7,266.8L698.3,265.2L698.9,263.6L699.4,262.1L699.8,260.7L700.2,259.3L699.8,258.2L698.6,257.2L696.7,256.3L694.0,255.7L691.4,255.1L688.9,254.6L686.5,254.2L684.2,253.8Z"/>
<path fill="#ffc81e" d="M701.2,270.7L700.2,271.3L699.8,272.2L700.2,273.2L700.3,274.2L700.3,275.4L700.2,276.7L699.8,278.0L699.9,279.2L700.4,280.2L701.3,281.0L702.7,281.7L703.9,281.9L705.1,281.8L706.2,281.2L707.2,280.2L708.2,279.0L709.2,277.7L710.2,276.2L711.2,274.5L711.7,273.1L711.7,271.9L711.2,271.0L710.2,270.3L708.8,269.9L707.2,269.8L705.2,269.8L702.8,270.2Z"/>
<path fill="#ffc81e" d="M678.2,293.2L677.3,294.0L676.9,294.8L677.1,295.8L677.5,296.9L678.2,298.0L679.1,299.1L680.2,300.2L681.8,301.2L683.7,302.0L686.0,302.5L688.7,302.8L691.3,303.0L694.0,302.9L696.7,302.6L699.3,302.1L701.8,301.6L704.2,301.1L706.3,300.6L708.3,300.1L709.2,299.6L708.8,299.1L707.3,298.6L704.7,298.1L702.2,297.4L700.1,296.5L698.2,295.3L696.5,294.0L694.7,293.0L692.7,292.2L690.5,291.8L688.2,291.6L685.9,291.6L683.8,291.8L681.7,292.1L679.7,292.6Z"/>
<path fill="#ffc81e" d="M745.7,294.6L745.7,295.5L746.2,296.7L747.2,298.0L748.1,299.3L748.9,300.7L749.7,302.0L750.3,303.3L751.1,304.7L751.9,306.0L752.8,307.3L753.8,308.7L755.0,309.4L756.3,309.6L757.8,309.2L759.5,308.2L761.0,307.0L762.2,305.7L763.2,304.2L764.1,302.5L764.4,300.8L764.2,299.2L763.6,297.5L762.4,295.8L761.1,294.8L759.7,294.2L758.2,294.3L756.5,295.0L754.9,295.3L753.4,295.2L752.0,294.8L750.7,293.9L749.4,293.4L748.2,293.2L747.2,293.4L746.2,293.9Z"/>
<path fill="#ffc81e" d="M709.3,331.5L708.9,332.5L708.7,333.5L708.7,334.5L708.8,335.5L709.0,336.5L709.4,337.5L709.9,338.5L710.6,339.1L711.4,339.2L712.4,339.0L713.6,338.3L714.5,337.6L715.2,336.8L715.6,335.8L715.8,334.8L715.6,333.8L715.2,332.6L714.5,331.3L713.5,330.0L712.5,329.2L711.6,329.1L710.8,329.5L709.9,330.5Z"/>
<path fill="#ffc81e" d="M632.7,237.3L635.3,232.7L630.0,234.7Z"/>
<path fill="#addcf3" d="M614.0,318.8L619.8,319.8L623.5,320.8L626.3,322.0L628.3,323.3L630.2,324.1L631.8,324.2L633.3,323.8L634.7,322.8L636.5,321.8L638.8,320.8L641.7,319.8L645.0,318.8L647.9,317.8L650.3,316.6L652.2,315.3L653.8,314.0L654.8,312.6L655.5,311.1L655.8,309.5L655.6,307.8L654.8,306.0L653.5,304.0L651.6,301.8L649.1,299.5L647.2,297.3L646.1,295.3L645.6,293.5L645.8,291.8L645.7,290.2L645.5,288.5L645.0,286.8L644.3,285.2L643.1,284.2L641.2,283.8L638.8,284.2L635.8,285.2L634.2,286.3L633.8,287.7L634.8,289.2L637.2,290.8L638.7,292.3L639.3,293.7L639.2,294.8L638.2,295.8L636.4,297.0L633.9,298.3L630.7,299.8L626.7,301.5L622.5,303.1L618.2,304.6L612.5,306.3L610.0,307.0L610.0,318.3Z"/>
<path fill="#addcf3" d="M631.9,328.8L631.4,329.8L631.4,331.2L631.9,332.8L632.8,334.5L634.0,336.0L635.7,337.6L637.7,339.1L639.8,340.4L641.9,341.6L644.2,342.6L646.5,343.4L648.4,343.8L649.9,343.6L651.0,342.9L651.7,341.8L651.8,340.5L651.2,339.0L650.2,337.5L648.5,335.8L646.7,334.2L644.7,332.6L642.5,331.1L640.2,329.6L638.0,328.5L636.1,328.0L634.4,327.8L632.9,328.2Z"/>
<path fill="#addcf3" d="M806.0,308.3L799.8,310.1L795.5,311.6L791.7,313.2L788.3,314.8L785.3,316.4L782.7,317.9L780.3,319.3L778.3,320.7L776.9,322.0L776.1,323.3L775.8,324.7L776.2,326.0L776.7,327.4L777.3,328.9L778.2,330.5L779.2,332.2L780.4,334.0L781.9,336.0L783.7,338.2L785.7,340.5L787.5,343.4L789.2,346.8L791.0,351.9L791.6,354.0L810.0,354.0L810.0,307.3Z"/>
<path fill="#fff580" d="M810.0,204.0H1010.0V354.0H810.0Z"/>
<path fill="#ffc81e" d="M819.9,206.5L820.6,211.8L820.8,215.2L820.6,218.2L820.1,220.5L819.8,222.8L819.7,225.0L819.8,227.2L820.2,229.4L821.0,230.9L822.3,231.8L824.2,231.9L826.5,231.4L829.1,230.8L831.9,230.2L835.0,229.4L838.3,228.6L841.7,227.5L845.0,226.2L848.3,224.6L851.7,222.8L854.8,220.9L857.6,219.0L860.2,217.0L862.5,215.0L864.2,212.5L865.4,209.5L866.0,205.0L866.0,204.0L819.4,204.0Z"/>
<path fill="#ffc81e" d="M964.7,206.5L965.5,211.4L967.2,214.2L969.7,216.2L973.0,217.2L976.1,217.5L978.9,217.2L981.5,216.2L983.8,214.5L986.2,213.2L988.5,212.2L990.8,211.5L993.2,211.2L996.2,211.0L1000.1,211.0L1006.0,211.2L1010.0,211.5L1010.0,204.0L964.7,204.0Z"/>
<path fill="#addcf3" d="M900.8,349.9L899.8,346.6L898.7,343.5L897.3,340.5L896.0,337.5L894.7,334.5L893.3,331.5L892.0,328.5L890.9,325.7L890.0,323.0L889.2,320.5L888.8,318.2L888.7,315.8L889.0,313.5L889.8,311.2L890.9,308.8L891.6,306.4L891.9,303.9L891.7,301.3L891.0,298.7L890.2,296.0L889.2,293.3L888.0,290.7L886.7,288.0L884.5,286.0L881.5,284.7L877.7,284.0L873.0,284.0L869.5,283.4L867.2,282.1L866.0,280.2L866.0,277.8L865.0,275.9L863.0,274.8L860.0,274.2L856.0,274.4L851.8,274.6L847.2,274.8L842.5,274.9L837.5,275.1L832.9,275.3L828.8,275.5L825.0,275.8L821.7,276.2L819.2,276.7L817.8,277.3L817.2,278.2L817.5,279.2L818.5,280.1L820.2,281.0L822.5,281.9L825.5,282.8L828.3,283.7L830.9,284.8L833.2,286.0L835.4,287.3L836.8,288.6L837.2,289.8L836.9,290.8L835.8,291.8L834.2,292.8L832.3,293.8L830.0,294.8L827.3,295.8L824.0,297.1L820.0,298.6L814.0,300.8L810.0,302.3L810.0,354.0L901.8,354.0Z"/>
<path fill="#addcf3" d="M915.1,308.8L914.9,310.2L915.6,311.9L917.1,314.1L918.3,316.1L919.2,318.0L919.8,319.8L920.2,321.5L920.6,323.2L921.1,325.1L921.7,327.0L922.3,329.0L923.2,330.5L924.4,331.6L925.8,332.2L927.5,332.4L929.0,332.2L930.3,331.8L931.5,330.9L932.5,329.8L933.0,328.6L933.0,327.5L932.5,326.5L931.5,325.5L930.5,324.4L929.5,323.2L928.5,322.0L927.5,320.7L927.0,319.4L927.0,318.2L927.5,317.2L928.5,316.2L929.0,315.2L929.0,314.2L928.5,313.2L927.5,312.2L926.4,311.2L925.2,310.2L924.0,309.2L922.7,308.2L921.2,307.5L919.6,307.3L917.9,307.4L916.1,307.9Z"/>
<path fill="#addcf3" d="M936.8,314.8L937.2,316.5L938.2,317.8L939.8,318.8L942.0,318.5L944.7,316.8L945.3,315.2L944.0,313.5L941.7,313.0L938.3,313.7Z"/>
<path fill="#addcf3" d="M945.5,291.0L945.8,294.3L947.5,295.3L950.5,294.0L951.8,291.5L951.5,287.8L949.8,286.8L946.8,288.5Z"/>
<path fill="#fff580" d="M1010.0,204.0H1210.0V354.0H1010.0Z"/>
<path fill="#ffc81e" d="M1014.0,214.8L1020.2,215.0L1024.5,215.1L1028.3,215.1L1031.7,214.9L1034.8,215.1L1037.6,215.7L1040.2,216.7L1042.5,218.0L1044.8,219.4L1046.9,220.9L1049.0,222.5L1051.0,224.2L1053.2,225.3L1055.8,226.0L1058.5,226.2L1061.5,225.8L1064.2,225.2L1066.8,224.4L1069.0,223.3L1071.0,222.0L1073.2,220.8L1075.5,219.8L1078.0,219.0L1080.7,218.3L1083.3,218.1L1086.0,218.2L1088.7,218.8L1091.3,219.8L1094.0,220.8L1096.7,221.8L1099.3,222.8L1102.0,223.8L1104.7,224.5L1107.3,224.8L1110.0,224.8L1112.7,224.5L1115.2,224.4L1117.8,224.6L1120.2,225.0L1122.5,225.7L1124.9,226.2L1127.4,226.5L1130.0,226.7L1132.7,226.7L1135.5,226.5L1138.5,226.2L1141.7,225.7L1145.0,225.0L1148.2,224.7L1151.2,224.7L1154.0,225.0L1156.7,225.7L1159.2,226.4L1161.8,227.2L1164.2,228.2L1166.5,229.2L1168.9,230.2L1171.4,231.4L1174.0,232.7L1176.7,234.0L1181.0,235.1L1187.0,235.9L1197.0,236.6L1210.0,237.0L1210.0,204.0L1010.0,204.0L1010.0,214.5Z"/>
<path fill="#ff8c00" d="M1054.2,205.9L1055.6,207.7L1057.5,208.9L1059.8,209.5L1062.5,209.9L1065.4,210.2L1068.6,210.3L1072.1,210.2L1075.2,210.0L1077.8,209.6L1080.1,209.1L1081.9,208.4L1084.0,208.2L1086.2,208.4L1088.7,209.1L1091.3,210.2L1093.8,211.1L1096.2,211.7L1098.3,212.0L1100.3,212.0L1102.5,212.1L1104.8,212.2L1107.3,212.5L1110.0,212.8L1112.6,213.5L1115.1,214.5L1117.5,215.8L1119.8,217.5L1122.4,218.9L1125.2,220.1L1128.3,221.0L1131.7,221.7L1135.0,221.9L1138.3,221.8L1141.7,221.2L1145.0,220.2L1148.1,219.0L1150.9,217.7L1153.5,216.2L1155.8,214.5L1157.9,212.2L1159.8,209.4L1161.7,205.0L1162.0,204.0L1053.5,204.0Z"/>
<path fill="#ff3300" d="M1118.9,204.2L1120.5,208.2L1122.2,210.6L1124.2,212.4L1126.5,213.6L1129.1,214.4L1131.9,214.9L1135.0,215.1L1138.3,214.9L1141.5,214.5L1144.5,213.7L1147.3,212.7L1150.0,211.3L1152.2,209.5L1154.1,207.2L1155.5,204.0L1118.8,204.0Z"/>
<path fill="#ff3300" d="M1064.7,205.9L1068.7,205.9L1069.1,204.0L1064.2,204.0Z"/>
<path fill="#addcf3" d="M1070.2,243.7L1069.3,244.5L1068.9,245.2L1069.1,246.1L1069.5,246.9L1070.2,247.8L1071.1,248.6L1072.2,249.4L1073.7,250.1L1075.5,250.7L1077.5,251.2L1079.8,251.5L1082.1,251.6L1084.2,251.5L1086.3,251.2L1088.3,250.8L1090.0,250.1L1091.3,249.2L1092.3,248.2L1093.0,247.1L1093.1,246.0L1092.6,244.9L1091.5,243.9L1089.8,243.0L1087.9,242.3L1085.8,241.8L1083.3,241.5L1080.7,241.4L1078.2,241.6L1075.8,241.8L1073.7,242.3L1071.7,243.0Z"/>
<path fill="#addcf3" d="M1131.2,240.8L1130.4,242.2L1130.0,243.8L1130.0,245.5L1129.7,247.1L1129.0,248.6L1128.0,250.0L1126.7,251.3L1125.2,252.8L1123.5,254.2L1121.7,255.8L1119.7,257.5L1118.1,259.2L1116.9,261.1L1116.2,263.0L1115.8,265.0L1115.7,267.2L1115.7,269.5L1115.8,272.0L1116.2,274.7L1116.7,277.1L1117.3,279.2L1118.2,281.2L1119.2,282.8L1120.4,284.0L1121.9,284.7L1123.7,284.8L1125.7,284.5L1127.2,283.8L1128.4,282.6L1129.2,281.0L1129.5,279.0L1130.1,277.2L1130.9,275.5L1132.0,274.0L1133.3,272.7L1134.8,271.5L1136.2,270.5L1137.8,269.7L1139.5,269.0L1141.0,268.2L1142.3,267.2L1143.5,266.0L1144.5,264.7L1145.8,263.8L1147.2,263.2L1149.0,263.2L1151.0,263.5L1152.8,263.5L1154.2,263.2L1155.5,262.5L1156.5,261.5L1157.1,260.4L1157.2,259.2L1157.0,258.0L1156.3,256.7L1155.9,255.2L1155.8,253.5L1155.8,251.7L1156.2,249.7L1156.2,247.7L1156.1,245.7L1155.7,243.7L1155.0,241.7L1153.9,239.9L1152.4,238.4L1150.5,237.2L1148.2,236.2L1145.9,235.5L1143.8,235.2L1141.7,235.2L1139.7,235.5L1137.8,236.1L1135.9,236.9L1134.2,238.0L1132.5,239.3Z"/>
<path fill="#addcf3" d="M1140.5,351.9L1139.4,346.8L1138.2,343.4L1136.8,340.5L1135.2,338.2L1133.6,335.8L1132.1,333.2L1130.7,330.7L1129.3,328.0L1128.5,325.4L1128.2,322.9L1128.3,320.5L1129.0,318.2L1130.3,316.1L1132.3,314.2L1135.0,312.7L1138.3,311.3L1141.3,310.0L1144.0,308.7L1146.3,307.3L1148.3,306.0L1149.3,304.8L1149.3,303.6L1148.3,302.5L1146.3,301.5L1144.0,300.6L1141.3,299.8L1138.3,299.0L1135.0,298.3L1131.9,297.7L1129.1,297.0L1126.5,296.3L1124.2,295.7L1121.8,294.7L1119.5,293.3L1117.2,291.7L1114.8,289.7L1112.8,287.7L1111.2,285.7L1109.8,283.7L1108.8,281.7L1107.7,280.0L1106.3,278.5L1104.8,277.4L1103.2,276.6L1101.2,276.0L1099.1,275.8L1096.7,275.8L1094.0,276.2L1091.5,276.8L1089.2,277.7L1087.0,278.9L1085.0,280.4L1083.5,282.1L1082.5,284.0L1082.0,286.2L1082.0,288.5L1081.7,290.7L1081.0,292.7L1080.0,294.5L1078.7,296.2L1076.8,297.7L1074.5,299.0L1071.7,300.2L1068.3,301.2L1064.6,302.2L1060.4,303.4L1055.8,304.7L1050.8,306.0L1046.2,307.4L1042.1,308.9L1038.3,310.5L1035.0,312.2L1032.2,313.8L1030.1,315.2L1028.5,316.7L1027.5,318.0L1027.2,319.3L1027.8,320.7L1029.0,322.0L1031.0,323.3L1033.5,324.7L1036.5,326.0L1040.0,327.3L1044.0,328.7L1047.7,330.1L1051.0,331.6L1054.0,333.2L1056.7,334.8L1058.3,336.5L1059.0,338.2L1058.7,339.8L1057.3,341.5L1056.0,343.9L1054.7,347.0L1053.0,351.9L1052.4,354.0L1140.8,354.0Z"/>
<path fill="#addcf3" d="M1209.8,289.9L1205.2,289.7L1201.8,289.7L1198.3,289.8L1195.0,290.2L1191.7,290.2L1188.3,289.8L1185.0,289.2L1181.7,288.2L1178.3,287.5L1175.0,287.3L1171.7,287.4L1168.3,287.9L1165.0,288.2L1161.7,288.4L1158.3,288.4L1155.0,288.2L1151.9,288.3L1149.0,288.5L1146.2,289.0L1143.8,289.7L1142.2,290.6L1141.8,291.8L1142.2,293.2L1143.8,294.8L1145.5,296.4L1147.6,297.9L1150.0,299.3L1152.7,300.7L1155.5,301.8L1158.5,302.6L1161.7,303.2L1165.0,303.5L1168.3,303.7L1171.7,303.7L1175.0,303.5L1178.3,303.2L1181.5,302.8L1184.5,302.5L1187.3,302.2L1190.0,301.8L1192.5,302.1L1194.8,302.9L1197.0,304.3L1199.0,306.3L1201.5,307.9L1204.5,309.1L1209.0,309.9L1210.0,310.0L1210.0,289.9Z"/>
<path fill="#ffc81e" d="M1209.8,329.2L1205.5,328.4L1202.5,327.9L1199.8,327.5L1197.5,327.2L1195.1,327.2L1192.6,327.5L1190.0,328.2L1187.3,329.2L1184.5,329.8L1181.5,330.2L1178.3,330.2L1175.0,329.8L1171.7,329.5L1168.3,329.2L1165.0,328.8L1161.7,328.5L1158.7,328.5L1156.0,328.8L1153.7,329.5L1151.7,330.5L1150.2,332.0L1149.2,334.0L1148.7,336.5L1148.7,339.5L1148.8,342.9L1148.9,346.6L1149.2,351.9L1149.4,354.0L1210.0,354.0L1210.0,329.2Z"/>
<path fill="#ff8c00" d="M1149.3,336.2L1150.7,337.8L1152.3,338.0L1154.3,336.7L1154.8,335.0L1153.8,333.0L1152.2,332.8L1149.8,334.5Z"/>
<path fill="#fff580" d="M1210.0,204.0H1310.0V354.0H1210.0Z"/>
<path fill="#ffc81e" d="M1302.2,234.2L1294.7,235.0L1290.0,235.5L1286.5,236.1L1284.2,236.6L1282.4,237.4L1281.2,238.5L1280.7,239.8L1280.7,241.5L1276.2,242.8L1267.4,243.6L1254.2,244.0L1236.5,244.0L1223.2,246.4L1214.4,251.2L1210.0,258.5L1210.0,268.2L1210.4,275.5L1211.2,280.5L1212.5,283.2L1214.2,283.5L1216.0,284.0L1218.0,284.5L1220.2,285.2L1222.5,286.1L1225.3,286.8L1228.7,287.5L1232.5,288.1L1236.8,288.6L1241.3,289.0L1246.0,289.3L1250.8,289.6L1255.8,289.8L1260.8,290.0L1265.8,290.5L1270.8,291.0L1275.8,291.7L1280.4,292.4L1284.6,293.1L1288.3,293.9L1291.7,294.8L1295.5,295.5L1299.8,296.0L1306.0,296.6L1310.0,296.8L1310.0,233.4Z"/>
<path fill="#addcf3" d="M1302.2,326.0L1294.4,324.5L1289.2,323.3L1285.0,322.0L1281.7,320.7L1278.3,319.3L1275.0,317.9L1271.7,316.4L1268.3,314.9L1265.0,313.4L1261.7,311.8L1258.3,310.2L1255.0,308.5L1251.8,306.8L1248.6,305.2L1245.5,303.5L1242.5,301.8L1239.8,300.3L1237.2,298.9L1235.0,297.6L1233.0,296.4L1230.8,295.3L1228.5,294.2L1226.0,293.2L1223.3,292.2L1220.3,291.3L1217.0,290.7L1213.3,290.2L1210.0,289.9L1210.0,306.7L1211.7,307.0L1214.5,307.9L1216.8,309.1L1218.7,310.5L1220.0,312.2L1221.3,314.0L1222.7,316.0L1224.0,318.2L1225.3,320.5L1226.8,323.1L1228.2,325.9L1229.8,329.0L1231.5,332.3L1233.0,336.4L1234.3,341.1L1235.8,348.1L1236.7,354.0L1253.4,354.0L1255.4,352.7L1259.6,351.0L1264.2,349.9L1269.2,349.4L1274.2,349.0L1279.2,348.5L1284.2,348.2L1289.2,347.8L1294.2,347.5L1299.4,347.0L1306.0,346.5L1310.0,346.1L1310.0,327.3Z"/>
<path fill="#ffc81e" d="M1210.2,345.6L1211.8,344.1L1213.3,342.3L1214.7,340.3L1215.5,338.5L1215.8,336.8L1215.7,335.3L1215.0,334.0L1214.0,332.7L1212.7,331.5L1211.0,330.2L1210.0,329.7L1210.0,345.7Z"/>
<path fill="#fff580" d="M410.0,354.0H610.0V504.0H410.0Z"/>
<path fill="#addcf3" d="M608.0,395.4L606.0,394.2L604.5,392.8L603.5,391.2L602.8,389.0L602.5,386.3L602.5,383.2L602.8,379.5L602.9,376.0L602.8,372.7L602.3,369.5L601.7,366.5L600.9,363.2L600.1,359.8L598.9,355.0L598.7,354.0L410.0,354.0L410.0,364.2L414.0,364.4L420.2,364.6L424.5,364.8L428.3,364.9L431.7,365.1L435.4,365.1L439.6,365.0L444.2,364.8L449.2,364.5L454.2,364.2L459.2,364.0L464.2,363.8L469.2,363.6L473.9,363.7L478.4,364.1L482.7,364.8L486.7,365.8L490.3,367.0L493.7,368.3L496.7,369.8L499.3,371.5L501.6,373.2L503.5,375.1L505.1,377.0L506.2,379.0L506.8,381.0L506.8,383.0L506.2,385.0L505.1,387.0L503.5,388.9L501.4,390.8L498.8,392.5L495.8,394.2L493.4,395.7L491.5,397.0L490.1,398.2L489.2,399.2L488.9,400.2L489.1,401.4L489.8,402.7L490.9,404.0L492.5,405.3L494.4,406.7L496.7,408.0L499.3,409.3L502.2,410.4L505.2,411.1L508.3,411.6L511.7,411.8L515.0,412.1L518.3,412.6L521.7,413.2L525.0,414.1L528.3,415.0L531.7,416.1L535.0,417.3L538.3,418.7L541.7,420.0L545.0,421.3L548.3,422.7L551.7,424.0L555.4,425.0L559.6,425.5L564.2,425.8L569.2,425.6L574.2,425.3L579.2,425.0L584.2,424.6L589.2,424.1L594.2,423.7L599.4,423.5L606.0,423.3L610.0,423.3L610.0,396.1Z"/>
<path fill="#addcf3" d="M417.8,390.1L425.4,390.2L430.2,390.1L434.0,389.7L436.7,389.0L438.4,388.2L439.2,387.2L439.2,386.0L438.2,384.7L436.6,383.2L434.4,381.6L431.7,379.9L428.3,378.1L424.5,376.4L420.2,374.8L414.0,373.0L410.0,372.0L410.0,389.7Z"/>
<path fill="#addcf3" d="M411.0,465.4L415.8,465.9L419.2,466.4L422.5,467.0L425.5,467.7L428.6,468.4L431.8,469.2L435.0,470.2L438.3,471.2L441.5,472.0L444.5,472.7L447.3,473.2L450.0,473.5L452.8,473.5L455.8,473.2L459.0,472.5L462.3,471.5L465.8,470.7L469.2,470.0L472.8,469.5L476.5,469.2L479.9,468.7L483.1,468.0L486.0,467.2L488.7,466.2L491.2,465.1L493.5,463.9L495.7,462.7L497.7,461.3L500.2,460.0L503.2,458.7L506.7,457.3L510.7,456.0L514.5,454.7L518.3,453.5L521.9,452.2L525.4,451.1L527.3,449.9L527.7,448.8L526.4,447.6L523.6,446.4L520.6,445.2L517.5,444.0L514.3,442.7L511.0,441.3L507.8,439.8L504.8,437.9L502.0,435.8L499.3,433.5L496.9,431.3L494.8,429.2L492.8,427.2L491.2,425.4L488.8,424.2L485.6,423.8L481.7,423.9L477.0,424.8L472.2,425.5L467.4,426.0L462.5,426.5L457.5,426.8L452.5,427.2L447.5,427.8L442.5,428.3L437.5,429.0L432.0,429.7L426.0,430.3L417.8,431.2L410.0,431.9L410.0,465.3Z"/>
<path fill="#4fc3f7" d="M412.5,459.5L417.8,460.6L421.2,461.8L424.2,463.2L426.5,464.8L429.1,466.2L431.9,467.2L435.0,467.8L438.3,468.2L441.7,468.5L445.0,468.8L448.3,469.2L451.7,469.5L454.8,469.6L457.6,469.4L460.2,469.0L462.5,468.3L463.9,467.5L464.4,466.5L464.0,465.3L462.7,464.0L460.8,462.6L458.5,461.1L455.7,459.5L452.3,457.8L449.0,456.2L445.7,454.6L442.3,453.1L439.0,451.6L435.8,450.3L432.8,449.3L430.0,448.6L427.3,448.1L424.0,447.9L420.0,448.0L414.0,448.5L410.0,449.0L410.0,459.1Z"/>
<path fill="#4fc3f7" d="M528.8,356.9L531.8,358.8L535.0,359.8L538.3,360.2L541.7,360.3L545.0,360.3L548.3,360.2L551.7,359.8L554.4,358.8L556.6,356.9L558.1,354.0L525.8,354.0Z"/>
<path fill="#addcf3" d="M560.3,495.8L562.3,496.8L566.7,497.3L573.3,497.3L576.3,496.3L575.7,494.3L572.3,492.8L566.3,491.8L562.3,492.3L560.3,494.3Z"/>
<path fill="#addcf3" d="M585.3,492.7L586.7,495.3L590.3,496.5L596.3,496.2L597.0,494.7L592.3,492.0L588.7,490.8L586.0,491.2Z"/>
<path fill="#addcf3" d="M605.0,493.7L605.0,496.0L610.0,496.8L610.0,491.7Z"/>
<path fill="#ffc81e" d="M606.0,441.6L599.4,441.5L594.2,441.5L589.2,441.6L584.2,441.8L579.6,442.1L575.4,442.7L571.7,443.5L568.3,444.5L565.4,445.7L562.9,447.0L560.8,448.5L559.2,450.2L557.1,451.8L554.6,453.2L551.7,454.7L548.3,456.0L544.6,457.2L540.4,458.4L535.8,459.5L530.8,460.5L525.8,461.5L520.8,462.5L515.8,463.5L510.8,464.5L506.2,465.6L502.1,466.8L498.3,468.0L495.0,469.3L492.8,470.6L491.8,471.8L492.0,472.8L493.3,473.8L494.8,474.8L496.5,475.6L498.3,476.3L500.3,477.0L503.1,477.6L506.6,478.1L510.8,478.5L515.8,478.8L521.2,479.2L527.1,479.6L533.3,480.1L540.0,480.6L546.7,480.8L553.3,480.6L560.0,480.1L566.7,479.2L572.9,478.4L578.8,477.6L584.2,476.8L589.2,475.9L594.2,475.2L599.4,474.8L606.0,474.4L610.0,474.2L610.0,441.8Z"/>
<path fill="#ff8c00" d="M578.0,454.3L586.0,455.0L593.2,454.8L599.5,453.8L601.8,452.6L600.2,451.0L596.3,450.7L590.3,451.6L584.0,452.5L577.3,453.5Z"/>
<path fill="#fff580" d="M610.0,354.0H810.0V504.0H610.0Z"/>
<path fill="#addcf3" d="M792.3,357.3L792.3,360.0L792.2,362.3L791.8,364.3L791.0,366.2L789.7,367.8L787.8,369.3L785.5,370.7L783.2,371.8L781.1,372.8L779.0,373.7L777.0,374.3L775.6,375.1L774.8,375.9L774.5,376.8L774.8,377.8L775.4,378.8L776.2,379.8L777.3,380.8L778.7,381.8L779.5,382.9L779.8,384.0L779.7,385.1L779.0,386.2L778.0,387.2L776.7,388.1L775.0,388.8L773.0,389.2L770.7,389.6L768.0,389.8L765.0,389.8L761.7,389.6L758.3,389.2L755.0,388.8L751.7,388.1L748.3,387.2L745.0,386.3L741.7,385.2L738.3,384.0L735.0,382.7L732.0,381.2L729.3,379.8L727.0,378.2L725.0,376.5L723.3,374.8L722.0,372.9L721.0,371.0L720.3,369.0L719.5,367.1L718.5,365.2L717.3,363.5L716.0,361.8L714.3,360.5L712.3,359.6L710.0,359.1L707.3,358.9L704.7,358.8L702.0,358.6L699.3,358.4L696.7,358.2L694.5,358.4L692.7,358.8L691.4,359.5L690.6,360.5L690.0,361.8L689.7,363.2L689.6,365.0L689.8,367.0L689.8,369.2L689.7,371.8L689.5,374.5L689.2,377.5L688.7,380.3L688.0,382.9L687.2,385.2L686.2,387.4L684.8,389.2L683.2,390.5L681.2,391.4L678.8,391.9L676.9,392.7L675.4,393.8L674.3,395.2L673.7,396.8L672.8,398.7L671.8,400.7L670.7,402.8L669.3,405.2L667.2,406.7L664.4,407.5L660.8,407.4L656.5,406.6L652.0,405.7L647.3,404.8L642.5,403.8L637.5,402.8L632.0,402.0L626.0,401.2L617.8,400.5L610.0,399.9L610.0,427.5L617.8,427.7L626.0,427.8L632.0,427.8L637.5,427.8L642.5,427.6L647.5,427.4L652.5,427.1L657.5,426.8L662.5,426.5L667.2,426.1L671.5,425.6L675.5,425.0L679.2,424.3L682.7,423.6L686.0,422.8L689.2,421.8L692.2,420.8L695.0,420.2L697.7,420.0L700.2,420.1L702.5,420.6L704.6,421.2L706.5,422.1L708.2,423.1L709.8,424.2L710.7,425.5L711.0,427.0L710.8,428.5L709.9,430.2L710.0,431.7L710.9,433.1L712.7,434.4L715.3,435.6L718.0,436.5L720.7,437.3L723.3,437.8L726.0,438.2L728.8,438.5L731.8,438.7L735.0,438.9L738.3,439.1L741.7,439.2L745.0,439.2L748.3,439.1L751.7,438.9L755.0,438.6L758.3,438.1L761.7,437.4L765.0,436.6L768.3,435.7L771.7,434.8L775.0,433.8L778.3,432.8L781.7,431.9L785.0,431.1L788.3,430.3L791.7,429.7L795.5,429.1L799.8,428.6L806.0,428.1L810.0,427.8L810.0,390.9L809.8,390.9L805.7,390.1L803.0,389.4L800.8,388.5L799.2,387.5L797.8,386.4L796.6,385.2L795.7,384.0L795.0,382.7L794.8,381.5L795.2,380.4L796.0,379.4L797.3,378.6L799.5,377.8L802.5,377.2L807.5,376.5L810.0,376.2L810.0,354.0L792.1,354.0Z"/>
<path fill="#addcf3" d="M611.0,500.0L615.2,499.7L617.5,499.1L619.0,498.2L619.7,497.1L619.8,495.9L619.5,494.6L618.7,493.3L617.3,492.0L615.5,490.8L613.2,489.8L610.0,489.0L610.0,500.0Z"/>
<path fill="#addcf3" d="M658.2,488.7L657.8,490.0L658.2,491.0L659.2,491.7L660.2,492.1L661.4,492.2L662.7,492.2L664.0,491.8L665.4,491.3L666.8,490.7L668.2,489.8L669.8,488.8L670.9,487.8L671.8,486.6L672.2,485.3L672.4,484.0L672.3,482.7L671.9,481.3L671.2,480.0L670.2,478.7L669.1,478.0L667.9,478.0L666.7,478.7L665.3,480.0L663.9,481.5L662.4,483.2L660.8,485.0L659.2,487.0Z"/>
<path fill="#addcf3" d="M624.7,489.3L628.7,487.3L624.7,485.3L620.7,487.3Z"/>
<path fill="#addcf3" d="M680.7,488.7L684.7,486.7L680.7,484.7L676.7,486.7Z"/>
<path fill="#addcf3" d="M723.3,474.0L727.3,472.0L723.3,469.3L719.3,472.0Z"/>
<path fill="#addcf3" d="M730.0,500.0L732.7,497.3L730.0,494.7L727.3,497.3Z"/>
<path fill="#addcf3" d="M650.0,496.0L655.3,492.0L650.0,487.3L646.0,494.0Z"/>
<path fill="#ffc81e" d="M614.0,456.4L620.6,456.6L625.8,456.8L630.8,456.9L635.8,457.1L640.4,457.1L644.6,457.0L648.3,456.8L651.7,456.5L654.8,456.1L657.6,455.6L660.2,455.0L662.5,454.3L664.3,453.6L665.7,452.8L666.5,451.8L666.8,450.8L666.7,449.9L666.0,449.1L664.8,448.3L663.2,447.7L660.8,447.0L657.8,446.3L654.2,445.7L649.8,445.0L645.3,444.4L640.7,443.8L635.8,443.2L630.8,442.8L625.8,442.3L620.6,442.0L614.0,441.7L610.0,441.6L610.0,456.2Z"/>
<path fill="#ffc81e" d="M612.5,467.7L617.8,467.8L621.5,467.6L624.7,467.2L627.3,466.8L629.5,466.2L631.2,465.6L632.3,465.0L633.0,464.3L632.7,463.8L631.3,463.4L629.0,463.1L625.7,462.9L622.0,462.8L618.0,462.8L612.5,463.0L610.0,463.0L610.0,467.6Z"/>
<path fill="#ffc81e" d="M806.0,435.0L799.8,435.5L795.5,436.0L791.7,436.8L788.3,437.8L785.0,439.0L781.7,440.3L778.3,441.8L775.0,443.5L771.7,445.0L768.3,446.2L765.0,447.2L761.7,448.1L758.3,448.6L755.0,448.8L751.7,448.6L748.3,448.1L745.0,447.6L741.7,447.1L738.3,446.6L735.0,446.1L731.7,445.7L728.3,445.3L725.0,445.1L721.7,444.9L718.7,445.0L716.0,445.2L713.7,445.7L711.7,446.3L710.2,447.2L709.3,448.4L708.9,449.8L709.1,451.5L709.5,453.2L710.2,454.8L711.1,456.5L712.2,458.2L713.7,459.6L715.5,460.9L717.5,461.9L719.8,462.8L722.4,463.4L725.2,463.9L728.3,464.2L731.7,464.4L734.8,464.7L737.6,465.1L740.2,465.7L742.5,466.3L744.8,467.2L746.9,468.2L749.0,469.3L751.0,470.7L753.1,471.8L755.2,472.8L757.5,473.7L759.8,474.3L762.0,474.7L764.0,474.7L765.8,474.3L767.5,473.7L769.6,472.9L772.1,472.1L775.0,471.2L778.3,470.2L781.7,469.2L785.0,468.3L788.3,467.4L791.7,466.6L795.5,465.8L799.8,464.9L806.0,463.9L810.0,463.2L810.0,434.9Z"/>
<path fill="#ff8c00" d="M715.6,453.4L715.1,454.2L714.9,455.3L715.1,456.7L715.7,457.8L716.8,458.7L718.3,459.4L720.3,459.9L722.7,460.5L725.3,461.2L728.3,461.9L731.7,462.8L734.7,463.4L737.5,463.8L739.9,464.0L742.1,464.0L743.4,463.8L743.9,463.4L743.6,462.8L742.4,461.9L740.9,461.0L739.0,459.9L736.7,458.7L734.0,457.3L731.3,456.1L728.7,455.0L726.0,454.1L723.3,453.2L721.0,452.7L719.1,452.5L717.6,452.5L716.4,452.8Z"/>
<path fill="#addcf3" d="M810.0,354.0H1010.0V504.0H810.0Z"/>
<path fill="#fff580" d="M903.6,357.2L904.1,359.6L904.8,361.6L905.8,363.1L907.2,364.3L908.8,365.2L910.8,365.8L913.2,366.2L915.8,366.4L918.6,366.5L921.7,366.4L925.0,366.2L928.3,365.9L931.7,365.4L935.0,364.8L938.3,363.9L941.7,363.1L945.0,362.4L948.3,361.7L951.7,361.0L955.4,360.5L959.6,360.0L964.2,359.8L969.2,359.6L974.2,359.5L979.2,359.6L984.2,359.8L989.2,360.2L994.2,360.5L999.4,360.8L1006.0,361.2L1010.0,361.5L1010.0,354.0L903.4,354.0Z"/>
<path fill="#fff580" d="M813.3,394.3L816.0,394.2L818.3,393.9L820.3,393.4L822.2,392.8L824.0,391.9L825.7,390.9L827.3,389.8L828.4,388.5L828.9,387.2L828.8,385.8L828.2,384.2L827.5,382.8L826.5,381.4L825.3,380.1L824.0,378.8L821.8,377.9L818.6,377.3L813.2,377.1L810.0,377.2L810.0,394.1Z"/>
<path fill="#fff580" d="M811.0,463.9L815.5,463.3L818.5,462.7L821.0,461.8L823.0,460.8L825.2,459.8L827.5,458.6L830.0,457.3L832.7,456.0L835.5,454.9L838.5,454.0L841.7,453.2L845.0,452.8L848.3,452.2L851.7,451.6L855.0,451.0L858.3,450.3L861.7,449.5L865.0,448.6L868.3,447.6L871.7,446.4L874.8,445.3L877.8,444.2L880.7,443.2L883.3,442.2L885.8,441.0L888.2,439.8L890.3,438.4L892.3,436.9L893.2,435.5L892.8,434.3L891.3,433.2L888.7,432.2L885.8,431.2L882.6,430.4L879.2,429.7L875.5,429.0L871.1,428.4L865.9,428.0L860.0,427.6L853.3,427.4L845.8,427.3L837.2,427.2L825.2,427.2L810.0,427.3L810.0,464.0Z"/>
<path fill="#fff580" d="M987.3,390.0L991.3,389.3L988.7,383.6L983.3,387.3Z"/>
<path fill="#fff580" d="M1006.0,460.1L999.8,460.2L995.5,460.1L991.7,459.7L988.3,459.0L984.6,458.7L980.4,458.7L975.8,459.0L970.8,459.7L966.2,460.1L962.1,460.2L958.3,460.2L955.0,459.8L951.7,459.3L948.3,458.7L945.0,457.8L941.7,456.8L938.3,456.0L935.0,455.3L931.7,454.8L928.3,454.5L924.9,454.3L921.4,454.3L917.8,454.5L914.2,454.8L911.1,455.3L908.6,456.0L906.7,456.8L905.3,457.8L903.5,459.0L901.2,460.3L898.3,461.8L895.0,463.5L891.8,465.1L888.8,466.6L886.0,468.0L883.3,469.3L880.3,470.6L877.0,471.8L873.3,472.8L869.3,473.8L865.1,474.5L860.6,474.8L855.8,474.8L850.8,474.5L846.2,473.9L842.1,473.1L838.3,472.0L835.0,470.7L831.9,469.8L829.1,469.5L826.5,469.7L824.2,470.3L821.2,470.8L817.8,470.9L812.5,470.8L810.0,470.6L810.0,504.0L1010.0,504.0L1010.0,459.8Z"/>
<path fill="#addcf3" d="M816.0,481.8L815.3,482.6L815.5,483.5L816.5,484.5L817.8,485.4L819.5,486.2L821.5,487.0L823.8,487.7L826.2,488.4L828.5,489.2L830.8,490.2L833.2,491.2L835.6,491.8L838.1,492.2L840.7,492.2L843.3,491.8L845.8,491.2L847.9,490.4L849.8,489.3L851.5,488.0L853.8,487.1L856.6,486.6L860.0,486.5L864.0,486.8L867.8,487.0L871.2,487.0L874.5,486.8L877.5,486.5L879.4,485.9L880.2,485.0L880.0,483.8L878.7,482.2L876.2,481.0L872.5,480.1L867.7,479.5L861.7,479.2L856.2,478.9L851.2,478.6L846.7,478.4L842.7,478.2L838.8,478.2L835.2,478.3L831.7,478.5L828.3,478.8L825.2,479.2L822.4,479.8L819.8,480.3L817.5,481.0Z"/>
<path fill="#addcf3" d="M890.7,471.0L892.0,473.0L893.7,475.0L895.7,477.0L898.3,477.0L901.7,475.0L901.7,473.3L898.3,472.0L895.0,471.0L891.7,470.3Z"/>
<path fill="#addcf3" d="M929.3,465.3L928.0,469.3L928.0,473.3L929.3,477.3L932.0,480.7L936.0,483.3L939.3,483.7L942.0,481.7L942.0,479.0L939.3,475.7L937.7,472.7L937.0,470.0L936.0,467.0L934.7,463.7L933.0,462.3L931.0,463.0Z"/>
<path fill="#addcf3" d="M944.0,473.7L948.0,475.7L953.3,476.8L960.0,477.2L968.3,477.5L978.3,477.8L986.0,477.3L991.3,476.0L994.7,474.3L996.0,472.3L991.7,472.0L981.7,473.3L971.7,473.5L961.7,472.5L953.0,472.2L945.7,472.5Z"/>
<path fill="#addcf3" d="M897.0,488.3L897.7,490.3L899.3,492.0L902.0,493.3L906.7,494.7L913.3,496.0L920.0,496.0L926.7,494.7L931.7,493.0L935.0,491.0L933.3,489.3L926.7,488.0L920.0,487.7L913.3,488.3L906.7,488.3L900.0,487.7Z"/>
<path fill="#addcf3" d="M984.7,491.3L989.3,487.3L984.7,483.3L979.3,487.3Z"/>
<path fill="#addcf3" d="M963.3,498.7L968.7,495.3L963.3,492.0L956.7,495.3Z"/>
<path fill="#addcf3" d="M823.3,488.7L823.3,491.3L826.0,493.3L831.3,494.7L836.7,494.0L842.0,491.3L842.7,488.7L838.7,486.0L833.3,485.3L826.7,486.7Z"/>
<path fill="#addcf3" d="M857.0,464.7L857.7,467.3L860.3,469.0L865.0,469.7L869.0,468.7L872.3,466.0L872.0,463.3L868.0,460.7L863.7,460.3L859.0,462.3Z"/>
<path fill="#addcf3" d="M843.7,472.3L844.3,474.3L846.3,476.0L849.7,477.3L853.7,477.0L858.3,475.0L859.0,472.7L855.7,470.0L851.3,469.3L846.0,470.7Z"/>
<path fill="#addcf3" d="M903.7,479.3L904.3,482.0L907.0,483.7L911.7,484.3L916.0,483.7L920.0,481.7L920.0,479.3L916.0,476.7L911.3,476.0L906.0,477.3Z"/>
<path fill="#addcf3" d="M870.3,494.0L871.0,496.7L874.0,498.3L879.3,499.0L884.0,498.0L888.0,495.3L887.7,493.0L883.0,491.0L878.0,490.7L872.7,492.0Z"/>
<path fill="#addcf3" d="M943.7,494.0L944.3,496.7L947.3,498.3L952.7,499.0L957.3,498.0L961.3,495.3L961.0,493.0L956.3,491.0L951.3,490.7L946.0,492.0Z"/>
<path fill="#addcf3" d="M983.7,495.3L984.3,498.0L987.0,499.7L991.7,500.3L996.3,499.7L1001.0,497.7L1001.0,495.7L996.3,493.7L991.3,493.0L986.0,493.7Z"/>
<path fill="#ffc81e" d="M951.3,469.3L954.7,468.0L952.0,465.3L948.0,467.3Z"/>
<path fill="#ffc81e" d="M976.7,472.7L978.0,467.3L970.7,468.0Z"/>
<path fill="#ffc81e" d="M974.0,492.0L972.0,488.0L968.7,491.3Z"/>
<path fill="#ffc81e" d="M812.5,458.8L817.8,457.7L821.2,456.8L824.2,455.8L826.5,454.8L829.1,453.8L831.9,452.7L835.0,451.6L838.3,450.4L841.7,449.3L845.0,448.2L848.3,447.2L851.7,446.2L854.8,445.1L857.8,444.0L860.7,442.9L863.3,441.8L865.1,440.7L865.9,439.8L865.8,439.0L864.8,438.3L863.2,437.7L861.1,437.1L858.3,436.6L855.0,436.1L851.2,435.7L847.1,435.3L842.5,435.1L837.5,434.9L832.0,434.8L826.0,434.7L817.8,434.7L810.0,434.7L810.0,459.2Z"/>
<path fill="#4fc3f7" d="M1006.0,427.7L999.8,428.0L995.5,428.2L991.7,428.5L988.3,428.8L984.6,429.4L980.4,430.1L975.8,431.1L970.8,432.2L966.2,433.4L962.1,434.5L958.3,435.5L955.0,436.5L951.7,437.4L948.3,438.2L945.0,438.9L941.7,439.5L940.0,440.0L940.0,440.3L941.7,440.5L945.0,440.6L948.3,440.7L951.7,440.8L955.0,440.9L958.3,441.1L961.7,441.2L965.0,441.4L968.3,441.6L971.7,441.8L974.8,441.9L977.8,442.0L980.7,442.0L983.3,442.0L985.9,441.9L988.4,441.6L990.8,441.2L993.2,440.8L996.2,440.3L1000.1,440.0L1006.0,439.7L1010.0,439.6L1010.0,427.6Z"/>
<path fill="#addcf3" d="M1010.0,354.0H1210.0V504.0H1010.0Z"/>
<path fill="#fff580" d="M1014.0,363.8L1020.2,363.0L1024.5,362.3L1028.3,361.7L1031.7,361.0L1034.8,360.3L1037.8,359.5L1040.7,358.8L1043.3,357.9L1045.5,356.6L1047.2,354.9L1047.6,354.0L1010.0,354.0L1010.0,364.3Z"/>
<path fill="#fff580" d="M1144.1,355.0L1144.8,359.2L1145.8,361.5L1147.2,363.0L1148.8,363.7L1150.8,364.0L1153.2,363.9L1155.8,363.4L1158.8,362.6L1161.9,361.8L1165.1,361.2L1168.3,360.6L1171.7,360.1L1174.8,359.8L1177.8,359.7L1180.7,359.8L1183.3,360.2L1185.9,360.7L1188.4,361.3L1190.8,362.2L1193.2,363.2L1195.4,364.2L1197.6,365.4L1199.7,366.7L1201.7,368.0L1204.0,369.2L1206.7,370.2L1210.0,371.0L1210.0,354.0L1144.0,354.0Z"/>
<path fill="#ffc81e" d="M1151.6,355.3L1153.4,357.0L1155.8,358.1L1158.8,358.6L1162.3,359.0L1166.3,359.3L1170.8,359.6L1175.8,359.8L1181.8,359.8L1188.6,359.6L1198.5,359.1L1210.0,358.5L1210.0,354.0L1150.9,354.0Z"/>
<path fill="#fff580" d="M1015.0,393.5L1019.7,392.5L1024.0,391.0L1028.0,389.0L1027.3,387.5L1022.0,386.5L1015.0,387.0L1010.0,388.2L1010.0,393.0Z"/>
<path fill="#fff580" d="M1206.0,405.4L1199.4,406.0L1194.2,406.7L1189.2,407.5L1184.2,408.5L1179.2,409.5L1174.2,410.5L1169.2,411.5L1164.2,412.5L1159.2,413.5L1154.2,414.5L1149.2,415.5L1144.2,416.5L1139.4,417.6L1134.9,418.8L1130.7,420.0L1126.7,421.3L1123.1,422.8L1119.9,424.2L1117.2,425.8L1114.8,427.5L1112.5,429.0L1110.2,430.5L1107.8,431.8L1105.5,432.9L1104.0,434.1L1103.3,435.2L1103.5,436.4L1104.5,437.6L1105.8,438.5L1107.2,439.2L1109.0,439.6L1111.0,439.8L1112.9,440.0L1114.8,440.3L1116.5,440.8L1118.2,441.2L1120.0,441.5L1122.0,441.6L1124.2,441.5L1126.5,441.2L1129.1,441.0L1131.9,440.9L1135.0,440.9L1138.3,441.1L1141.7,441.3L1145.0,441.5L1148.3,441.8L1151.7,442.2L1155.0,442.4L1158.3,442.5L1161.7,442.4L1165.0,442.2L1168.0,442.0L1170.8,441.5L1173.2,441.0L1175.4,440.3L1177.2,439.5L1178.8,438.5L1179.9,437.3L1180.8,436.0L1182.3,434.9L1184.5,434.1L1187.5,433.5L1191.2,433.2L1195.2,432.8L1199.8,432.5L1206.0,432.1L1210.0,431.8L1210.0,405.2Z"/>
<path fill="#fff580" d="M1011.0,473.0L1015.8,472.7L1019.2,472.5L1022.5,472.2L1025.5,471.8L1029.0,471.5L1033.0,471.2L1037.5,470.8L1042.5,470.5L1046.5,470.0L1049.5,469.2L1051.5,468.2L1052.5,467.1L1052.7,466.0L1052.1,464.9L1050.8,463.8L1048.6,462.8L1047.0,461.8L1046.0,460.8L1045.6,459.8L1045.8,458.8L1046.5,457.8L1047.7,456.8L1049.5,455.8L1051.8,454.8L1053.9,453.8L1055.8,452.6L1057.3,451.3L1058.7,450.0L1059.0,449.1L1058.3,448.6L1056.7,448.5L1054.0,448.8L1051.4,449.3L1048.9,450.0L1046.5,450.8L1044.2,451.8L1041.7,452.8L1039.0,453.6L1036.2,454.3L1033.2,455.0L1030.7,455.1L1028.7,454.7L1027.2,453.8L1026.2,452.2L1024.0,451.0L1020.7,449.9L1014.8,448.8L1010.0,448.3L1010.0,473.0Z"/>
<path fill="#fff580" d="M1206.0,469.4L1199.8,469.9L1195.5,470.4L1191.7,471.0L1188.3,471.7L1185.0,472.1L1181.7,472.2L1178.3,472.2L1175.0,471.8L1172.1,472.0L1169.6,472.7L1167.5,473.8L1165.8,475.5L1164.2,476.5L1162.5,476.8L1160.8,476.5L1159.2,475.5L1157.1,474.8L1154.6,474.5L1151.7,474.5L1148.3,474.8L1145.0,475.2L1141.7,475.5L1138.3,475.8L1135.0,476.2L1131.7,476.3L1128.3,476.3L1125.0,476.2L1121.7,475.8L1118.3,475.5L1115.0,475.2L1111.7,474.8L1108.3,474.5L1105.0,474.5L1101.7,474.8L1098.3,475.5L1095.0,476.5L1091.7,477.5L1088.3,478.6L1085.0,479.8L1081.7,480.9L1078.3,481.8L1075.0,482.2L1071.7,482.4L1068.3,482.2L1064.6,482.4L1060.4,482.8L1055.8,483.5L1050.8,484.5L1045.8,485.2L1040.8,485.6L1035.8,485.8L1030.8,485.6L1025.8,485.5L1020.6,485.5L1014.0,485.6L1010.0,485.8L1010.0,504.0L1210.0,504.0L1210.0,469.2Z"/>
<path fill="#addcf3" d="M1022.0,498.7L1027.3,495.3L1023.3,492.7L1018.0,495.3Z"/>
<path fill="#addcf3" d="M1076.7,494.7L1082.0,492.0L1076.7,488.7L1071.3,491.3Z"/>
<path fill="#addcf3" d="M1118.0,498.7L1123.3,496.7L1119.3,494.0L1114.0,496.0Z"/>
<path fill="#addcf3" d="M1130.0,498.0L1135.3,496.7L1132.7,494.0L1127.3,495.3Z"/>
<path fill="#addcf3" d="M1180.7,498.0L1190.0,496.7L1187.3,494.0L1176.7,495.3Z"/>
<path fill="#fff580" d="M1082.0,467.3L1086.0,463.3L1082.0,460.0L1076.7,463.3Z"/>
<path fill="#fff580" d="M1096.7,465.3L1102.0,463.3L1096.7,462.0L1092.0,463.3Z"/>
<path fill="#fff580" d="M1050.7,481.3L1056.0,477.3L1051.3,472.7L1046.0,476.7Z"/>
<path fill="#fff580" d="M1094.0,481.3L1099.3,478.7L1094.0,475.3L1088.7,478.0Z"/>
<path fill="#fff580" d="M1156.0,470.7L1160.7,468.7L1156.7,465.3L1152.0,468.0Z"/>
<path fill="#fff580" d="M1063.3,470.7L1070.0,468.7L1064.7,466.0L1058.0,467.3Z"/>
<path fill="#ffc81e" d="M1142.3,436.3L1143.0,438.3L1145.3,439.5L1149.3,439.8L1152.3,439.5L1154.3,438.5L1153.7,437.0L1150.3,435.0L1147.0,434.3L1143.7,435.0Z"/>
<path fill="#ffc81e" d="M1106.0,498.0L1111.3,494.7L1114.0,490.0L1104.7,491.3Z"/>
<path fill="#ffc81e" d="M1142.0,488.0L1146.0,487.3L1144.7,484.7L1140.7,486.0Z"/>
<path fill="#4fc3f7" d="M1017.8,436.2L1026.0,436.7L1032.0,436.8L1037.5,436.6L1042.5,436.1L1047.5,435.6L1052.5,435.2L1057.5,434.8L1062.5,434.5L1066.8,434.0L1070.5,433.5L1073.5,432.8L1075.8,431.9L1078.1,431.0L1080.2,430.1L1082.3,429.2L1084.3,428.2L1085.9,427.2L1087.1,426.3L1087.8,425.4L1088.2,424.6L1087.8,423.7L1086.8,422.8L1085.2,421.8L1082.8,420.8L1080.2,420.0L1077.4,419.5L1074.3,419.1L1071.0,418.9L1067.5,418.9L1063.8,419.0L1060.0,419.2L1056.0,419.5L1051.8,420.0L1047.2,420.5L1042.5,421.2L1037.5,422.1L1032.0,422.9L1026.0,423.8L1017.8,424.8L1010.0,425.7L1010.0,435.4Z"/>
<path fill="#4fc3f7" d="M1120.8,449.7L1120.2,450.8L1120.3,452.0L1121.0,453.3L1122.0,454.5L1123.3,455.5L1125.0,456.3L1127.0,457.0L1129.2,457.8L1131.5,458.8L1134.0,460.0L1136.7,461.3L1139.2,462.2L1141.8,462.8L1144.2,462.8L1146.5,462.5L1149.0,462.1L1151.7,461.7L1154.5,461.2L1157.5,460.8L1159.7,460.2L1161.0,459.6L1161.5,459.0L1161.2,458.3L1160.2,457.7L1158.8,457.1L1156.7,456.6L1154.0,456.1L1152.4,455.6L1151.9,455.1L1152.5,454.6L1154.2,454.1L1156.2,453.6L1158.8,453.2L1161.7,452.8L1165.0,452.5L1168.3,452.2L1171.7,452.0L1175.0,451.8L1178.3,451.6L1181.5,451.3L1184.5,450.9L1187.3,450.3L1190.0,449.7L1191.3,449.2L1191.3,449.0L1190.0,448.9L1187.3,449.1L1184.1,449.2L1180.2,449.4L1175.8,449.6L1170.8,449.8L1166.3,449.8L1162.3,449.7L1158.8,449.5L1155.8,449.2L1152.8,448.8L1149.6,448.2L1146.3,447.7L1143.0,447.0L1139.8,446.5L1136.6,446.3L1133.5,446.2L1130.5,446.4L1127.8,446.8L1125.5,447.2L1123.5,447.9L1121.8,448.8Z"/>
<path fill="#addcf3" d="M1210.0,354.0H1310.0V504.0H1210.0Z"/>
<path fill="#fff580" d="M1211.7,373.0L1214.6,373.5L1217.1,373.8L1219.2,374.0L1220.8,374.0L1222.5,373.8L1224.2,373.2L1225.8,372.5L1227.5,371.5L1229.2,370.4L1230.8,369.2L1232.5,368.0L1234.2,366.7L1236.2,365.8L1238.8,365.4L1241.7,365.4L1245.0,365.9L1248.3,366.2L1251.7,366.2L1255.0,365.9L1258.3,365.4L1260.8,364.7L1262.5,363.8L1263.3,362.7L1263.3,361.3L1262.9,359.5L1262.1,357.2L1260.6,354.0L1210.0,354.0L1210.0,372.7Z"/>
<path fill="#ffc81e" d="M1210.8,358.5L1213.2,357.5L1215.1,355.8L1215.9,354.0L1210.0,354.0L1210.0,358.6Z"/>
<path fill="#fff580" d="M1306.0,384.9L1300.1,384.6L1296.2,384.8L1293.2,385.2L1290.8,386.1L1288.4,387.1L1285.9,388.4L1283.3,389.8L1280.7,391.5L1278.5,393.3L1276.8,395.3L1275.7,397.5L1275.0,399.8L1274.1,401.8L1272.9,403.5L1271.5,404.8L1269.8,405.8L1267.5,406.7L1264.5,407.3L1260.8,407.8L1256.5,408.2L1252.0,408.3L1247.3,408.3L1242.5,408.2L1237.5,407.8L1232.1,407.5L1226.2,407.0L1220.0,406.6L1213.3,406.1L1210.0,406.9L1210.0,430.3L1211.7,430.2L1215.0,430.0L1218.3,429.7L1221.7,429.2L1225.0,428.8L1228.3,428.4L1231.7,428.2L1235.0,428.2L1238.3,428.4L1242.1,428.7L1246.2,429.1L1250.8,429.7L1255.8,430.3L1260.8,430.9L1265.8,431.4L1270.8,431.8L1275.8,432.2L1281.8,432.4L1288.6,432.6L1298.5,432.7L1310.0,432.7L1310.0,385.2Z"/>
<path fill="#fff580" d="M1306.0,461.4L1300.0,462.0L1296.0,462.7L1292.7,463.5L1290.0,464.5L1287.4,465.6L1284.9,466.8L1282.5,468.0L1280.2,469.3L1277.6,470.4L1274.8,471.2L1271.7,471.8L1268.3,472.2L1265.0,472.5L1261.7,472.8L1258.3,473.2L1255.0,473.5L1251.8,473.8L1248.6,474.0L1245.5,474.2L1242.5,474.4L1240.1,474.9L1238.2,475.8L1237.0,476.9L1236.3,478.4L1235.7,479.2L1235.0,479.3L1234.3,478.7L1233.7,477.3L1232.6,476.2L1231.1,475.4L1229.2,474.8L1226.8,474.5L1223.8,474.2L1220.2,473.8L1215.8,473.5L1210.8,473.2L1210.0,473.7L1210.0,504.0L1310.0,504.0L1310.0,461.2Z"/>
<path fill="#4fc3f7" d="M1210.3,445.2L1211.0,446.7L1211.7,448.0L1212.6,449.3L1213.8,450.7L1215.2,452.0L1216.8,453.3L1218.8,454.4L1220.9,455.1L1223.3,455.6L1226.0,455.8L1228.4,455.7L1230.6,455.3L1232.5,454.8L1234.2,453.9L1236.2,453.2L1238.8,452.8L1241.7,452.4L1245.0,452.2L1247.9,451.8L1250.4,451.2L1252.5,450.2L1254.2,449.1L1255.4,447.8L1256.2,446.4L1256.7,444.8L1256.7,443.2L1255.8,441.8L1254.2,440.6L1251.7,439.7L1248.3,439.0L1245.0,438.4L1241.7,437.8L1238.3,437.2L1235.0,436.8L1231.7,436.4L1228.3,436.1L1225.0,436.0L1221.7,436.0L1218.6,436.1L1215.8,436.4L1213.2,436.8L1210.8,437.2L1210.0,437.7L1210.0,444.5Z"/>
<path fill="#ffc81e" d="M1211.3,497.3L1214.0,495.3L1211.3,493.3L1210.0,494.3L1210.0,496.3Z"/>
<path fill="#ffc81e" d="M1266.7,498.0L1270.0,496.0L1267.3,494.0L1263.3,496.0Z"/>
<path fill="url(#hb)" d="M560.0,167.3L564.0,167.3L564.0,161.3L570.7,161.3L570.7,132.0L526.0,132.0L526.0,141.3L443.3,141.3L443.3,137.7L416.7,137.7L416.7,160.7L436.7,160.7L436.7,162.7L458.0,162.7L458.0,165.3L468.7,165.3L468.7,167.3L479.3,167.3L479.3,170.0L490.0,170.0L490.0,176.7L500.7,176.7L500.7,204.0L560.0,204.0ZM415.3,178.7L417.7,178.7L417.7,182.0L420.7,182.0L420.7,178.7L426.0,178.7L426.0,176.0L420.7,176.0L420.7,170.7L417.7,170.7L417.7,176.0L415.3,176.0ZM596.7,99.3L596.7,114.0L610.0,114.0L610.0,99.3ZM626.0,156.7L626.0,144.7L650.0,144.7L650.0,147.3L660.7,147.3L660.7,155.3L666.0,155.3L666.0,147.3L668.7,147.3L668.7,123.3L676.7,123.3L676.7,128.7L708.7,128.7L708.7,104.7L698.0,104.7L698.0,99.3L679.3,99.3L679.3,88.7L666.0,88.7L666.0,98.0L656.7,98.0L656.7,112.7L610.0,112.7L610.0,156.7ZM708.7,130.0L719.3,130.0L719.3,139.3L724.7,139.3L724.7,160.7L730.0,160.7L730.0,171.3L752.7,171.3L752.7,167.3L763.3,167.3L763.3,155.3L774.0,155.3L774.0,144.7L784.7,144.7L784.7,139.3L807.3,139.3L807.3,123.3L796.7,123.3L796.7,112.7L788.7,112.7L788.7,104.7L796.0,104.7L796.0,82.7L784.7,82.7L784.7,80.0L716.7,80.0L716.7,92.0L724.7,92.0L724.7,107.3L708.7,107.3ZM711.3,198.7L710.0,198.7L710.0,188.0L715.3,188.0L715.3,186.0L666.0,186.0L666.0,177.3L623.3,177.3L623.3,174.0L612.7,174.0L612.7,177.3L610.0,177.3L610.0,179.3L612.7,179.3L612.7,184.7L622.0,184.7L622.0,188.0L627.3,188.0L627.3,204.0L711.3,204.0ZM773.3,187.3L773.3,198.7L771.3,198.7L771.3,204.0L810.0,204.0L810.0,187.3ZM814.7,136.0L814.7,140.7L818.0,140.7L818.0,136.0L827.3,136.0L827.3,133.3L810.0,133.3L810.0,136.0ZM999.3,188.7L990.0,188.7L990.0,155.3L999.3,155.3L999.3,144.7L994.0,144.7L994.0,150.0L988.7,150.0L988.7,144.7L978.0,144.7L978.0,135.3L930.0,135.3L930.0,151.3L915.3,151.3L915.3,155.3L900.7,155.3L900.7,160.7L890.0,160.7L890.0,164.7L882.0,164.7L882.0,159.3L836.0,159.3L836.0,166.7L826.0,166.7L826.0,176.0L810.0,176.0L810.0,204.0L999.3,204.0ZM1158.0,106.7L1158.0,113.3L1168.7,113.3L1168.7,116.7L1179.3,116.7L1179.3,119.3L1210.0,119.3L1210.0,106.7ZM1082.7,124.7L1093.3,124.7L1093.3,132.7L1095.3,132.7L1095.3,140.0L1062.0,140.0L1062.0,144.7L1052.7,144.7L1052.7,146.0L1062.0,146.0L1062.0,156.7L1103.3,156.7L1103.3,166.0L1106.0,166.0L1106.0,156.7L1138.0,156.7L1138.0,146.0L1146.0,146.0L1146.0,144.7L1138.0,144.7L1138.0,135.3L1144.0,135.3L1144.0,134.0L1106.0,134.0L1106.0,122.0L1082.7,122.0ZM1170.0,199.3L1170.0,188.7L1175.3,188.7L1175.3,187.3L1170.0,187.3L1170.0,178.0L1148.7,178.0L1148.7,174.0L1138.0,174.0L1138.0,178.0L1072.7,178.0L1072.7,166.0L1063.3,166.0L1063.3,160.7L1050.0,160.7L1050.0,166.0L1047.3,166.0L1047.3,182.0L1050.0,182.0L1050.0,188.7L1042.0,188.7L1042.0,194.0L1018.0,194.0L1018.0,198.7L1010.0,198.7L1010.0,204.0L1210.0,204.0L1210.0,199.3ZM1190.0,164.7L1190.0,166.7L1182.0,166.7L1182.0,162.7L1176.7,162.7L1176.7,168.7L1210.0,168.7L1210.0,164.7ZM1220.7,114.0L1220.7,112.7L1214.0,112.7L1214.0,107.3L1210.0,107.3L1210.0,114.0ZM1276.7,107.3L1276.7,111.3L1250.0,111.3L1250.0,113.3L1243.3,113.3L1243.3,123.3L1232.7,123.3L1232.7,146.0L1243.3,146.0L1243.3,156.7L1270.0,156.7L1270.0,155.3L1280.7,155.3L1280.7,156.7L1310.0,156.7L1310.0,107.3ZM1222.0,139.3L1224.7,139.3L1224.7,130.0L1222.0,130.0ZM1287.3,170.7L1287.3,167.3L1275.3,167.3L1275.3,170.7L1264.7,170.7L1264.7,177.3L1275.3,177.3L1275.3,182.7L1310.0,182.7L1310.0,170.7ZM1214.0,168.7L1214.0,164.7L1210.0,164.7L1210.0,168.7ZM603.3,220.0L603.3,237.3L579.3,237.3L579.3,241.3L567.3,241.3L567.3,240.0L562.0,240.0L562.0,284.0L460.0,284.0L460.0,214.7L448.7,214.7L448.7,219.3L436.7,219.3L436.7,230.0L427.3,230.0L427.3,236.0L416.7,236.0L416.7,300.0L430.0,300.0L430.0,307.3L440.7,307.3L440.7,310.7L451.3,310.7L451.3,312.7L462.0,312.7L462.0,314.0L504.7,314.7L504.7,317.3L515.3,317.3L515.3,320.7L536.7,320.0L536.7,322.7L538.0,322.7L538.0,318.7L556.7,318.7L556.7,328.7L562.0,328.7L562.0,327.3L558.0,327.3L558.0,317.3L548.7,317.3L548.7,308.0L555.3,308.0L555.3,306.7L548.7,306.7L548.7,296.0L551.3,296.0L551.3,294.7L568.7,294.7L568.7,289.3L579.3,289.3L579.3,286.7L610.0,286.7L610.0,220.0ZM570.0,350.0L567.3,350.0L567.3,347.3L551.3,347.3L551.3,336.7L538.0,336.7L538.0,332.0L527.3,332.0L527.3,326.7L472.7,326.7L472.7,336.7L463.3,336.7L463.3,332.7L460.7,332.7L460.7,336.7L452.7,336.7L452.7,332.7L450.0,332.7L450.0,336.7L445.3,336.7L445.3,338.0L472.7,338.0L472.7,348.0L478.0,348.0L478.0,349.3L474.0,349.3L474.0,354.0L570.0,354.0ZM420.7,350.0L426.0,350.0L426.0,347.3L415.3,347.3L415.3,350.0L417.3,350.0L417.3,354.0L420.7,354.0ZM758.0,208.0L758.0,212.0L752.0,212.0L752.0,215.3L719.3,215.3L719.3,208.0L622.0,208.0L622.0,221.3L610.0,221.3L610.0,270.7L655.3,270.7L655.3,285.3L663.3,285.3L663.3,296.0L666.0,296.0L666.0,306.7L668.7,306.7L668.7,317.3L676.7,317.3L676.7,321.3L688.0,321.3L688.0,327.3L679.3,327.3L679.3,328.7L696.7,328.7L696.7,336.7L698.7,336.7L698.7,309.3L720.0,309.3L720.0,312.0L730.0,312.0L730.0,316.7L739.3,316.7L739.3,318.7L742.0,318.7L742.0,317.3L752.0,317.3L752.0,314.7L763.3,314.7L763.3,308.0L774.0,308.0L774.0,302.0L784.7,302.0L784.7,297.3L798.0,297.3L798.0,296.0L784.7,296.0L784.7,273.3L795.3,273.3L795.3,268.0L806.0,268.0L806.0,264.0L810.0,264.0L810.0,208.0ZM814.7,263.3L814.7,266.7L817.3,266.7L817.3,263.3L828.0,263.3L828.0,242.0L836.0,242.0L836.0,237.3L838.7,237.3L838.7,242.0L851.3,242.0L851.3,239.3L863.3,239.3L863.3,204.0L810.0,204.0L810.0,263.3ZM895.3,296.0L901.3,296.0L901.3,304.7L895.3,304.7L895.3,306.0L903.3,306.0L903.3,296.0L911.3,296.0L911.3,300.0L914.0,300.0L914.0,296.0L922.0,296.0L922.0,300.0L924.7,300.0L924.7,294.7L933.3,294.7L933.3,284.0L895.3,284.0ZM964.7,220.0L976.7,220.0L976.7,230.7L986.0,230.7L986.0,261.3L970.0,261.3L970.0,264.0L986.0,264.0L986.0,266.7L1000.0,266.7L1000.0,242.0L1010.0,242.0L1010.0,204.0L964.7,204.0ZM1018.0,232.0L1018.0,228.0L1020.7,228.0L1020.7,221.3L1036.7,221.3L1036.7,232.0L1042.0,232.0L1042.0,241.3L1060.7,241.3L1060.7,242.7L1072.7,242.7L1072.7,221.3L1084.7,221.3L1084.7,232.0L1095.3,232.0L1095.3,244.0L1116.7,244.0L1116.7,242.7L1120.7,242.7L1120.7,230.7L1127.3,230.7L1127.3,221.3L1151.3,221.3L1151.3,216.0L1160.7,216.0L1160.7,204.0L1010.0,204.0L1010.0,232.0ZM1018.0,296.0L1018.0,300.0L1020.7,300.0L1020.7,297.3L1028.7,297.3L1028.7,300.0L1031.3,300.0L1031.3,297.3L1040.0,297.3L1040.0,300.0L1042.0,300.0L1042.0,296.0L1059.3,296.0L1059.3,285.3L1063.3,285.3L1063.3,284.0L1062.0,284.0L1062.0,273.3L1072.7,273.3L1072.7,264.0L1082.7,264.0L1082.7,269.3L1084.7,269.3L1084.7,264.0L1087.3,264.0L1087.3,262.7L1074.0,262.7L1074.0,260.0L1072.7,260.0L1072.7,262.7L1060.7,262.7L1060.7,252.0L1031.3,252.0L1031.3,250.0L1029.3,250.0L1029.3,252.0L1018.0,252.0L1018.0,262.7L1010.0,262.7L1010.0,296.0ZM1088.7,285.3L1093.3,285.3L1093.3,290.0L1095.3,290.0L1095.3,285.3L1104.0,285.3L1104.0,294.7L1100.7,294.7L1100.7,296.0L1115.3,296.0L1115.3,294.7L1106.0,294.7L1106.0,282.0L1103.3,282.0L1103.3,284.0L1095.3,284.0L1095.3,280.7L1093.3,280.7L1093.3,284.0L1088.7,284.0ZM1147.3,336.7L1142.0,336.7L1142.0,338.0L1148.7,338.0L1148.7,348.7L1170.0,348.7L1170.0,350.0L1180.7,350.0L1180.7,348.7L1202.0,348.7L1202.0,337.3L1192.7,337.3L1192.7,332.0L1191.3,332.0L1191.3,334.0L1180.7,334.0L1180.7,332.0L1170.0,332.0L1170.0,328.0L1164.7,328.0L1164.7,326.7L1159.3,326.7L1159.3,317.3L1160.7,317.3L1160.7,314.7L1147.3,314.7ZM1168.7,282.7L1182.0,282.7L1182.0,240.7L1168.7,240.7ZM1299.3,241.3L1299.3,240.0L1287.3,240.0L1287.3,252.0L1282.0,252.0L1282.0,284.0L1223.3,284.0L1223.3,292.0L1287.3,292.0L1287.3,296.0L1310.0,296.0L1310.0,241.3ZM1223.3,328.0L1234.0,328.0L1234.0,326.7L1224.7,326.7L1224.7,307.3L1234.0,307.3L1234.0,305.3L1223.3,305.3ZM1286.7,349.3L1303.3,349.3L1303.3,348.0L1298.7,348.0L1298.7,337.3L1286.7,337.3ZM1221.3,348.7L1223.3,348.7L1223.3,350.7L1224.7,350.7L1224.7,348.7L1230.0,348.7L1230.0,347.3L1224.7,347.3L1224.7,345.3L1223.3,345.3L1223.3,347.3L1221.3,347.3ZM503.3,356.7L512.7,356.7L512.7,360.7L556.7,360.7L556.7,369.3L554.0,369.3L554.0,372.0L570.7,372.0L570.7,354.0L503.3,354.0ZM568.0,386.7L570.0,386.7L570.0,382.7L568.0,382.7ZM804.0,458.7L806.7,458.7L806.7,439.3L804.0,439.3ZM789.3,444.4L789.3,446.3L810.0,446.3L810.0,444.4ZM800.0,455.1L800.0,456.9L810.0,456.9L810.0,455.1ZM793.7,447.3L795.6,447.3L795.6,442.0L793.7,442.0ZM889.7,381.6L898.0,381.6L898.0,380.0L891.6,380.0L891.6,374.0L889.7,374.0ZM814.0,446.3L814.0,444.4L810.0,444.4L810.0,446.3ZM1074.3,435.6L1074.3,424.9L1082.7,424.9L1082.7,432.0L1084.7,432.0L1084.7,424.9L1086.7,424.9L1086.7,423.1L1040.0,423.1L1040.0,433.5L1010.0,433.5L1010.0,435.6ZM1061.3,423.3L1063.3,423.3L1063.3,416.4L1061.3,416.4ZM1072.0,423.3L1074.0,423.3L1074.0,416.4L1072.0,416.4ZM1018.3,434.0L1020.4,434.0L1020.4,430.0L1018.3,430.0ZM1028.9,438.0L1031.1,438.0L1031.1,427.3L1028.9,427.3ZM1125.3,370.8L1145.3,370.8L1145.3,368.9L1125.3,368.9ZM1136.0,378.0L1138.0,378.0L1138.0,362.7L1136.0,362.7ZM1147.1,376.9L1148.7,376.9L1148.7,372.7L1147.1,372.7ZM1147.3,424.4L1192.0,424.4L1192.0,422.3L1147.3,422.3ZM1190.0,424.4L1192.0,424.4L1192.0,416.7L1190.0,416.7ZM1179.3,424.4L1181.2,424.4L1181.2,420.0L1179.3,420.0ZM1168.7,426.0L1170.5,426.0L1170.5,420.7L1168.7,420.7ZM1157.7,426.0L1159.6,426.0L1159.6,421.3L1157.7,421.3ZM1200.7,412.7L1200.7,422.0L1202.5,422.0L1202.5,414.3L1210.0,414.3L1210.0,412.7Z"/>
<use href="#coast" fill="none" stroke="#000" stroke-width="3.1" stroke-linejoin="round" stroke-linecap="round"/>
<use href="#china" fill="none" stroke="#000" stroke-width="3.6" stroke-linejoin="round" stroke-linecap="round"/>
</g>
<g clip-path="url(#cd)">
<rect x="414.4" y="620.6" width="889.8000000000001" height="445.1" fill="#e6f1f0"/>
<path fill="#e6f1f0" d="M410.0,618.0H610.0V768.0H410.0Z"/>
<path fill="#f5f1e6" d="M410.2,704.1L414.8,704.5L418.2,705.0L421.7,705.4L425.0,705.9L428.3,706.1L431.7,705.9L435.0,705.4L438.3,704.6L441.5,703.6L444.5,702.5L447.3,701.3L450.0,700.0L452.8,698.7L455.6,697.3L458.5,696.0L461.5,694.7L464.4,693.4L467.2,692.2L470.0,691.2L472.7,690.2L475.1,689.0L477.4,687.7L479.4,686.2L481.2,684.5L482.5,682.9L483.2,681.4L483.2,680.0L482.8,678.7L481.6,677.3L479.9,676.0L477.5,674.7L474.5,673.3L471.2,672.2L467.8,671.2L464.0,670.3L460.0,669.7L456.2,669.3L452.5,669.2L449.0,669.4L445.7,669.9L442.9,670.7L440.8,671.7L439.2,672.9L438.2,674.4L436.6,675.9L434.4,677.3L431.7,678.7L428.3,680.0L424.5,681.2L420.2,682.2L414.0,683.2L410.0,683.7L410.0,704.1Z"/>
<path fill="#f5f1e6" d="M506.5,667.0L506.2,667.5L507.3,668.1L510.0,668.6L513.0,669.0L516.3,669.2L520.0,669.3L524.0,669.3L527.8,669.2L531.5,669.1L535.0,668.8L538.3,668.5L540.0,668.1L540.0,667.6L538.3,667.0L535.0,666.3L531.7,665.8L528.3,665.4L525.0,665.1L521.7,664.9L518.3,665.0L515.0,665.2L511.7,665.7L508.3,666.3Z"/>
<path fill="#f5f1e6" d="M459.0,766.5L457.7,764.4L455.8,762.7L453.5,761.3L450.9,760.2L448.1,759.2L445.0,758.3L441.7,757.7L438.3,757.2L435.0,757.1L431.7,757.2L428.3,757.5L424.5,758.0L420.2,758.7L414.0,759.8L410.0,760.5L410.0,768.0L459.4,768.0Z"/>
<path fill="#f5f1e6" d="M533.9,718.7L533.8,720.0L534.2,721.3L535.2,722.7L536.3,723.7L537.7,724.3L539.2,724.7L540.8,724.7L542.4,725.1L543.9,725.9L545.3,727.2L546.7,728.8L548.0,730.2L549.3,731.4L550.7,732.3L552.0,733.0L553.6,733.2L555.4,733.1L557.5,732.5L559.8,731.5L562.4,730.7L565.2,730.0L568.3,729.5L571.7,729.2L575.2,729.2L579.1,729.5L583.2,730.2L587.5,731.2L591.3,731.8L594.7,732.2L597.5,732.2L599.8,731.8L601.4,731.2L602.2,730.4L602.3,729.3L601.7,728.0L600.3,726.8L598.3,725.6L595.7,724.5L592.3,723.5L588.8,722.7L584.9,722.0L580.8,721.5L576.5,721.2L572.4,720.7L568.6,720.0L565.0,719.2L561.7,718.2L558.3,717.1L555.0,715.9L551.7,714.7L548.3,713.3L545.5,712.5L543.2,712.2L541.3,712.3L540.0,713.0L538.7,713.8L537.3,714.8L536.0,716.0L534.7,717.3Z"/>
<path fill="#f5f1e6" d="M609.8,681.8L605.0,681.0L601.0,680.3L596.8,679.7L592.5,679.0L588.7,678.7L585.3,678.7L582.5,679.0L580.2,679.7L578.8,680.4L578.5,681.2L579.2,682.2L580.8,683.2L582.9,684.0L585.4,684.7L588.3,685.2L591.7,685.5L595.5,685.8L599.8,686.2L606.0,686.6L610.0,686.8L610.0,681.9Z"/>
<path fill="#f5f1e6" d="M607.5,703.2L602.2,702.6L598.8,702.4L595.8,702.5L593.5,702.8L592.3,703.4L592.3,704.2L593.5,705.3L595.8,706.7L598.8,707.8L602.2,708.6L607.5,709.2L610.0,709.4L610.0,703.5Z"/>
<path fill="#f5f1e6" d="M526.7,764.0L530.0,760.7L526.7,757.3L523.3,760.7Z"/>
<path fill="#f5f1e6" d="M571.8,767.4L570.3,763.6L569.0,761.9L567.5,761.2L565.8,761.5L564.4,762.6L563.2,764.5L562.2,768.0L571.9,768.0Z"/>
<path fill="#c9eae6" d="M417.5,732.3L416.5,733.9L416.3,736.3L417.0,739.7L418.2,742.2L420.1,744.0L422.5,744.9L425.5,745.1L428.6,745.1L431.8,744.9L435.0,744.6L438.3,744.1L441.0,743.4L443.0,742.5L444.3,741.3L445.0,740.0L444.9,738.8L444.1,737.6L442.5,736.5L440.2,735.5L437.8,734.6L435.2,733.9L432.7,733.2L430.0,732.8L427.3,732.3L424.7,732.0L422.0,731.8L419.3,731.6Z"/>
<path fill="#c9eae6" d="M474.8,744.2L473.8,745.4L473.7,746.7L474.3,748.0L475.4,749.2L476.9,750.2L478.8,751.0L481.2,751.7L483.6,752.1L486.1,752.2L488.7,752.2L491.3,751.8L493.8,751.2L495.9,750.4L497.8,749.3L499.5,748.0L500.8,746.7L501.8,745.3L502.5,744.0L502.8,742.7L502.7,741.5L502.0,740.5L500.8,739.7L499.2,739.0L497.1,738.7L494.6,738.7L491.7,739.0L488.3,739.7L485.2,740.4L482.2,741.2L479.3,742.2L476.7,743.2Z"/>
<path fill="#c9eae6" d="M485.0,760.9L485.0,762.1L485.8,763.0L487.5,763.7L489.1,763.8L490.6,763.2L492.0,762.2L493.3,760.5L494.3,758.8L495.0,757.2L495.3,755.5L495.3,753.8L495.0,752.8L494.3,752.5L493.3,752.8L492.0,753.8L490.6,755.0L489.1,756.3L487.5,757.8L485.8,759.5Z"/>
<path fill="#c9eae6" d="M496.0,692.8L495.3,693.6L495.5,694.7L496.5,696.0L498.0,697.1L500.0,697.9L502.5,698.5L505.5,698.8L508.2,699.0L510.5,699.0L512.5,698.8L514.2,698.5L515.1,698.0L515.2,697.3L514.7,696.5L513.3,695.5L511.8,694.6L510.2,693.8L508.3,693.0L506.3,692.3L504.2,691.9L502.1,691.8L499.8,691.8L497.5,692.2Z"/>
<path fill="#c9eae6" d="M609.0,753.2L604.5,753.1L601.5,753.2L599.0,753.7L597.0,754.3L595.7,755.2L595.0,756.4L595.0,757.8L595.7,759.5L596.3,761.6L597.0,764.2L597.8,768.0L610.0,768.0L610.0,753.3Z"/>
<path fill="#e6f1f0" d="M610.0,618.0H810.0V768.0H610.0Z"/>
<path fill="#f5f1e6" d="M752.9,641.8L752.1,642.8L752.5,644.0L754.2,645.3L756.2,646.6L758.8,647.8L761.7,648.8L765.0,649.8L768.3,650.8L771.7,651.6L775.0,652.3L778.3,653.0L781.7,653.6L785.0,654.1L788.3,654.5L791.7,654.8L794.7,654.9L797.3,654.8L799.7,654.3L801.7,653.7L802.8,652.7L803.2,651.3L802.7,649.7L801.3,647.7L799.3,645.9L796.7,644.4L793.3,643.2L789.3,642.2L785.1,641.3L780.6,640.7L775.8,640.2L770.8,639.8L766.2,639.8L762.1,639.9L758.3,640.3L755.0,641.0Z"/>
<path fill="#f5f1e6" d="M698.8,691.4L698.5,692.9L699.2,694.2L700.8,695.2L702.8,695.8L704.9,696.2L707.3,696.2L710.0,695.8L712.5,695.3L714.8,694.5L717.0,693.6L719.0,692.4L720.2,691.3L720.5,690.3L720.0,689.4L718.7,688.6L717.0,687.8L715.0,687.0L712.7,686.3L710.0,685.7L707.4,685.7L704.9,686.3L702.5,687.7L700.2,689.7Z"/>
<path fill="#f5f1e6" d="M675.8,698.1L674.2,698.9L673.0,700.0L672.3,701.3L672.3,702.4L673.0,703.2L674.3,703.8L676.3,704.2L678.5,704.3L680.8,704.3L683.3,704.2L686.0,703.8L688.2,703.2L689.8,702.4L691.0,701.3L691.7,700.0L691.7,698.9L691.0,698.1L689.7,697.5L687.7,697.2L685.5,697.0L683.2,697.0L680.7,697.2L678.0,697.5Z"/>
<path fill="#f5f1e6" d="M802.2,681.2L794.1,681.2L788.2,681.5L783.0,682.2L778.3,683.2L774.9,684.2L772.8,685.4L771.8,686.7L772.2,688.0L772.9,689.2L774.1,690.2L775.7,691.0L777.7,691.7L780.0,692.2L782.7,692.5L785.7,692.7L789.0,692.7L791.8,693.0L794.2,693.7L796.0,694.7L797.3,696.0L797.7,697.4L797.0,698.9L795.3,700.5L792.7,702.2L790.2,703.7L787.8,705.0L785.7,706.2L783.7,707.2L782.3,708.4L781.7,709.9L781.7,711.7L782.3,713.7L782.5,715.7L782.2,717.7L781.3,719.7L780.0,721.7L778.8,724.0L777.6,726.7L776.5,729.7L775.5,733.0L774.6,736.5L773.8,740.2L773.0,744.0L772.3,748.0L772.1,752.4L772.2,757.1L773.1,763.6L773.9,768.0L810.0,768.0L810.0,681.6Z"/>
<path fill="#e6f1f0" d="M809.0,691.2L804.5,690.7L801.5,690.7L799.0,691.0L797.0,691.7L795.8,693.0L795.5,695.0L796.0,697.7L797.3,701.0L798.6,704.0L799.8,706.7L800.8,709.0L801.8,711.0L803.5,712.3L805.8,713.0L809.8,712.8L810.0,712.8L810.0,691.3Z"/>
<path fill="#f5f1e6" d="M734.9,714.5L734.1,715.5L734.2,716.3L735.2,717.0L736.8,717.2L738.9,717.1L741.7,716.5L745.0,715.5L748.3,714.5L751.7,713.5L755.0,712.5L758.3,711.5L761.5,710.5L764.5,709.5L767.3,708.5L770.0,707.5L772.2,706.4L773.8,705.2L775.0,704.0L775.7,702.7L775.8,701.8L775.2,701.5L774.2,701.7L772.5,702.3L770.4,703.0L767.9,703.7L765.0,704.3L761.7,705.0L758.3,705.8L755.0,706.6L751.7,707.5L748.3,708.5L745.2,709.6L742.2,710.8L739.3,712.0L736.7,713.3Z"/>
<path fill="#f5f1e6" d="M674.2,741.5L673.8,742.5L674.2,743.5L675.2,744.5L676.8,745.2L678.9,745.5L681.7,745.5L685.0,745.2L688.3,745.0L691.7,745.0L695.0,745.2L698.3,745.5L701.7,745.7L705.0,745.7L708.3,745.5L711.7,745.2L714.4,744.7L716.6,744.0L718.2,743.2L719.2,742.2L719.2,741.2L718.4,740.4L716.7,739.7L714.0,739.0L711.2,738.4L708.2,737.9L705.0,737.5L701.7,737.2L698.1,737.0L694.2,737.0L690.2,737.2L685.8,737.5L682.2,738.0L679.2,738.7L676.8,739.5L675.2,740.5Z"/>
<path fill="#f5f1e6" d="M769.4,765.4L767.6,763.1L765.0,761.3L761.7,760.0L758.3,759.1L755.0,758.6L751.7,758.5L748.3,758.8L745.0,758.9L741.7,758.8L738.3,758.3L735.0,757.7L731.7,757.2L728.3,757.1L725.0,757.2L721.7,757.5L717.5,757.8L712.5,758.2L706.7,758.5L700.0,758.8L693.5,759.3L687.2,760.0L681.0,760.8L675.0,761.8L670.2,763.4L666.5,765.5L664.4,768.0L770.3,768.0Z"/>
<path fill="#f5f1e6" d="M611.0,686.0L615.5,685.8L618.5,685.5L621.0,685.0L623.0,684.3L624.0,683.7L624.0,683.0L623.0,682.3L621.0,681.7L618.5,681.2L615.5,681.1L611.0,681.2L610.0,681.3L610.0,686.0Z"/>
<path fill="#f5f1e6" d="M611.8,710.6L615.8,710.0L617.5,709.3L617.8,708.5L616.8,707.5L615.2,706.7L613.1,706.0L610.0,705.5L610.0,710.7Z"/>
<path fill="#c9eae6" d="M683.7,756.6L683.0,757.4L683.0,758.4L683.7,759.6L684.7,760.4L686.0,760.9L687.7,761.1L689.7,760.9L691.4,760.5L692.9,760.0L694.2,759.2L695.2,758.2L695.5,757.3L695.2,756.5L694.2,755.9L692.5,755.4L690.8,755.2L688.9,755.2L687.0,755.4L685.0,755.9Z"/>
<path fill="#c9eae6" d="M611.7,764.6L613.0,763.8L613.5,762.7L613.2,761.3L612.2,760.2L610.8,759.4L610.0,759.2L610.0,765.0Z"/>
<path fill="#e6f1f0" d="M810.0,618.0H1010.0V768.0H810.0Z"/>
<path fill="#f5f1e6" d="M991.0,630.2L977.3,629.8L968.0,629.6L960.0,629.6L953.3,629.8L946.7,629.9L940.0,630.0L933.3,630.0L926.7,630.0L919.6,630.0L912.1,630.1L904.2,630.2L895.8,630.4L889.2,630.9L884.2,631.8L880.8,632.9L879.2,634.4L877.1,636.0L874.6,637.8L871.7,639.7L868.3,641.7L865.0,643.6L861.7,645.4L858.3,647.2L855.0,648.8L851.7,650.5L848.3,652.2L845.0,653.8L841.7,655.5L838.3,656.9L835.0,658.1L831.7,659.0L828.3,659.7L824.5,660.3L820.2,661.0L814.0,661.8L810.0,662.3L810.0,674.8L814.0,674.6L820.2,674.4L824.5,674.6L828.3,675.0L831.7,675.7L835.0,676.3L838.3,677.0L841.7,677.7L845.0,678.3L848.3,678.9L851.7,679.4L855.0,679.8L858.3,680.2L861.7,680.2L865.0,680.1L868.3,679.7L871.7,679.0L875.0,678.2L878.3,677.4L881.7,676.5L885.0,675.5L888.3,674.4L891.7,673.2L895.0,672.0L898.3,670.7L901.7,669.6L905.0,668.8L908.3,668.2L911.7,667.8L915.0,667.5L918.3,667.2L921.7,666.8L925.0,666.5L928.3,666.5L931.7,666.8L935.0,667.5L938.3,668.5L941.7,669.3L945.0,670.0L948.3,670.5L951.7,670.8L954.6,670.5L957.1,669.5L959.2,667.8L960.8,665.5L962.5,663.5L964.2,661.8L965.8,660.5L967.5,659.5L969.6,658.7L972.1,658.0L975.0,657.5L978.3,657.2L981.7,656.8L985.0,656.2L988.3,655.7L991.7,655.0L995.5,654.4L999.8,653.9L1006.0,653.4L1010.0,653.2L1010.0,631.0Z"/>
<path fill="#e6f1f0" d="M998.5,634.4L988.6,633.5L981.8,633.2L975.8,633.2L970.8,633.5L967.3,634.0L965.3,634.7L964.8,635.5L965.8,636.5L967.6,637.3L970.1,638.0L973.3,638.5L977.3,638.8L982.5,639.2L988.8,639.8L998.5,640.5L1010.0,641.4L1010.0,635.7Z"/>
<path fill="#f5f1e6" d="M921.5,680.7L920.5,682.0L920.3,683.7L921.0,685.7L922.0,687.4L923.3,688.9L925.0,690.2L927.0,691.2L928.9,692.2L930.8,693.4L932.5,694.7L934.2,696.0L935.8,697.5L937.5,699.2L939.2,701.0L940.8,703.0L942.4,704.8L943.9,706.2L945.3,707.5L946.7,708.5L948.2,708.9L949.8,708.8L951.7,708.0L953.7,706.7L956.0,705.6L958.7,704.8L961.7,704.2L965.0,703.8L968.3,703.8L971.7,703.9L975.0,704.3L978.3,705.0L981.2,705.3L983.8,705.3L985.8,705.0L987.5,704.3L988.3,703.5L988.3,702.5L987.5,701.3L985.8,700.0L983.8,698.8L981.2,697.8L978.3,697.0L975.0,696.3L971.7,695.7L968.3,695.0L965.0,694.3L961.7,693.7L958.3,692.8L955.0,691.8L951.7,690.7L948.3,689.3L945.5,688.0L943.2,686.7L941.3,685.3L940.0,684.0L938.5,682.8L936.8,681.6L935.0,680.5L933.0,679.5L930.8,678.9L928.5,678.8L926.0,679.0L923.3,679.7Z"/>
<path fill="#f5f1e6" d="M1006.0,723.2L999.8,722.7L995.5,722.7L991.7,723.0L988.3,723.7L985.0,724.0L981.7,724.0L978.3,723.7L975.0,723.0L971.7,722.6L968.3,722.4L965.0,722.5L961.7,722.8L958.3,722.9L955.0,722.8L951.7,722.3L948.3,721.7L945.0,721.3L941.7,721.3L938.3,721.7L935.0,722.3L931.7,722.9L928.3,723.4L925.0,723.8L921.7,724.2L918.6,724.8L915.8,725.6L913.2,726.7L910.8,728.0L908.8,729.5L907.2,731.2L905.8,733.0L904.8,735.0L903.2,737.2L901.1,739.5L898.3,742.0L895.0,744.7L892.2,747.2L889.8,749.8L888.0,752.2L886.7,754.5L886.0,757.4L886.0,760.8L887.0,765.9L887.6,768.0L1010.0,768.0L1010.0,723.7Z"/>
<path fill="#e6f1f0" d="M932.9,733.4L932.1,734.9L932.5,736.5L934.2,738.2L936.2,739.5L938.8,740.5L941.7,741.2L945.0,741.5L948.2,741.5L951.2,741.2L954.0,740.5L956.7,739.5L958.4,738.2L959.2,736.8L959.2,735.0L958.2,733.0L956.6,731.4L954.4,730.2L951.7,729.5L948.3,729.2L945.0,729.2L941.7,729.8L938.3,730.7L935.0,732.0Z"/>
<path fill="#f5f1e6" d="M949.3,701.7L948.7,703.0L948.8,704.5L949.8,706.2L951.2,707.3L952.8,708.0L954.8,708.2L957.2,707.8L959.1,707.2L960.6,706.2L961.7,704.8L962.3,703.2L962.4,701.8L961.9,700.6L960.8,699.7L959.2,699.0L957.3,698.8L955.3,698.9L953.2,699.5L950.8,700.5Z"/>
<path fill="#f5f1e6" d="M810.9,727.2L812.8,726.4L814.2,725.3L815.2,724.0L815.8,722.5L815.9,720.8L815.7,719.0L815.0,717.0L813.8,715.3L811.9,714.0L810.0,713.3L810.0,727.5Z"/>
<path fill="#e6f1f0" d="M1010.0,618.0H1210.0V768.0H1010.0Z"/>
<path fill="#f5f1e6" d="M1068.4,680.7L1067.9,682.0L1068.5,683.0L1070.2,683.7L1072.1,684.0L1074.2,684.0L1076.7,683.7L1079.3,683.0L1082.2,682.4L1085.2,681.9L1088.3,681.5L1091.7,681.2L1095.0,681.0L1098.3,681.0L1101.7,681.2L1105.0,681.5L1108.3,681.8L1111.7,682.2L1115.0,682.5L1118.3,682.8L1121.4,682.8L1124.2,682.2L1126.8,681.3L1129.2,680.0L1131.2,678.6L1132.8,677.1L1134.2,675.5L1135.2,673.8L1135.5,672.3L1135.2,670.9L1134.2,669.6L1132.5,668.4L1130.0,667.6L1126.7,667.1L1122.5,666.9L1117.5,667.1L1112.5,667.4L1107.5,667.8L1102.5,668.3L1097.5,669.0L1092.9,669.8L1088.8,670.6L1085.0,671.5L1081.7,672.5L1078.5,673.8L1075.5,675.2L1072.7,677.0L1070.0,679.0Z"/>
<path fill="#f5f1e6" d="M1014.0,649.8L1020.2,649.1L1024.5,648.6L1028.3,648.2L1031.7,647.8L1034.3,647.2L1036.3,646.4L1037.7,645.3L1038.3,644.0L1037.8,642.8L1036.2,641.8L1033.3,641.0L1029.3,640.3L1025.0,639.8L1020.3,639.2L1014.0,638.8L1010.0,638.5L1010.0,650.3Z"/>
<path fill="#f5f1e6" d="M1075.8,713.8L1074.6,714.8L1074.0,716.0L1074.0,717.3L1074.6,718.5L1075.8,719.5L1077.5,720.3L1079.8,721.0L1082.4,721.6L1085.2,722.1L1088.3,722.5L1091.7,722.8L1095.0,723.4L1098.3,724.2L1101.7,725.3L1105.0,726.7L1108.3,727.8L1111.7,728.6L1115.0,729.2L1118.3,729.5L1121.7,729.7L1125.0,729.7L1128.3,729.5L1131.7,729.2L1134.6,728.7L1137.1,728.0L1139.2,727.2L1140.8,726.2L1141.2,725.1L1140.4,723.9L1138.3,722.7L1135.0,721.3L1131.7,720.0L1128.3,718.7L1125.0,717.3L1121.7,716.0L1118.3,714.8L1115.0,713.6L1111.7,712.5L1108.3,711.5L1104.6,710.8L1100.4,710.5L1095.8,710.5L1090.8,710.8L1086.5,711.2L1082.8,711.8L1079.8,712.3L1077.5,713.0Z"/>
<path fill="#f5f1e6" d="M1129.6,766.4L1132.1,764.1L1135.0,762.2L1138.3,760.5L1141.2,758.8L1143.8,757.2L1145.8,755.5L1147.5,753.8L1148.3,752.1L1148.3,750.2L1147.5,748.3L1145.8,746.3L1143.8,745.0L1141.2,744.3L1138.3,744.3L1135.0,745.0L1130.8,745.3L1125.8,745.3L1120.0,745.0L1113.3,744.3L1107.5,743.5L1102.5,742.5L1098.3,741.3L1095.0,740.0L1091.5,738.8L1087.8,737.6L1084.0,736.5L1080.0,735.5L1076.2,735.0L1072.5,735.0L1069.0,735.5L1065.7,736.5L1062.5,736.8L1059.5,736.5L1056.7,735.5L1054.0,733.8L1050.8,732.4L1046.9,731.2L1042.5,730.3L1037.5,729.7L1032.0,729.3L1026.0,729.3L1017.8,729.8L1010.0,730.6L1010.0,768.0L1128.3,768.0Z"/>
<path fill="#c9eae6" d="M1110.7,751.8L1108.7,752.6L1107.8,753.8L1108.2,755.5L1108.8,757.1L1109.6,758.6L1110.7,760.0L1112.0,761.3L1113.6,762.0L1115.4,762.0L1117.5,761.3L1119.8,760.0L1121.7,758.6L1123.0,757.1L1123.8,755.5L1124.2,753.8L1123.3,752.6L1121.3,751.8L1118.2,751.3L1113.8,751.3Z"/>
<path fill="#c9eae6" d="M1163.8,735.2L1162.2,736.2L1161.7,737.3L1162.3,738.7L1163.7,739.5L1165.7,739.8L1168.3,739.7L1171.7,739.0L1175.0,738.2L1178.3,737.4L1181.7,736.5L1185.0,735.5L1187.9,734.3L1190.4,733.0L1192.5,731.5L1194.2,729.8L1194.8,728.7L1194.5,728.0L1193.2,727.8L1190.8,728.2L1188.4,728.7L1185.9,729.3L1183.3,730.2L1180.7,731.2L1177.7,732.1L1174.3,732.9L1170.7,733.7L1166.7,734.3Z"/>
<path fill="#c9eae6" d="M1190.3,700.8L1189.0,701.6L1188.8,702.7L1189.8,704.0L1191.2,704.9L1193.1,705.4L1195.3,705.5L1198.0,705.2L1200.0,704.6L1201.3,703.8L1202.0,702.7L1202.0,701.3L1201.1,700.4L1199.2,699.9L1196.5,699.8L1192.8,700.2Z"/>
<path fill="#f5f1e6" d="M1209.8,684.5L1205.3,683.9L1202.0,683.8L1198.8,683.8L1195.8,684.2L1193.9,684.8L1193.1,685.6L1193.3,686.7L1194.7,688.0L1197.0,689.2L1200.3,690.2L1206.0,691.2L1210.0,691.7L1210.0,684.5Z"/>
<path fill="#e6f1f0" d="M1210.0,618.0H1310.0V768.0H1210.0Z"/>
<path fill="#f5f1e6" d="M1211.7,683.2L1215.0,684.0L1218.3,684.7L1221.7,685.2L1225.0,685.5L1228.2,685.5L1231.2,685.2L1234.0,684.5L1236.7,683.5L1238.4,682.4L1239.2,681.2L1239.2,680.0L1238.2,678.7L1236.6,677.3L1234.4,676.0L1231.7,674.7L1228.3,673.3L1225.0,672.2L1221.7,671.4L1218.3,670.8L1215.0,670.5L1211.8,670.4L1210.0,670.5L1210.0,682.7Z"/>
<path fill="#f5f1e6" d="M1309.8,690.0L1305.2,690.2L1301.8,690.5L1298.3,691.0L1295.0,691.7L1292.1,692.5L1289.6,693.5L1287.5,694.7L1285.8,696.0L1284.8,697.3L1284.5,698.7L1284.8,700.0L1285.8,701.3L1287.2,702.7L1288.8,704.0L1290.8,705.3L1293.2,706.7L1296.2,707.8L1300.1,708.8L1306.0,709.8L1310.0,710.3L1310.0,690.0Z"/>
<path fill="#f5f1e6" d="M1228.2,733.2L1227.4,734.4L1227.5,735.5L1228.5,736.5L1229.9,737.2L1231.8,737.8L1234.0,738.0L1236.7,738.0L1239.7,737.8L1243.0,737.2L1246.7,736.5L1250.7,735.5L1254.5,734.5L1258.2,733.5L1261.7,732.5L1265.0,731.5L1268.3,730.4L1271.7,729.2L1275.0,728.0L1278.3,726.7L1281.7,725.2L1285.0,723.8L1288.3,722.2L1291.7,720.5L1292.9,719.5L1292.1,719.2L1289.2,719.5L1284.2,720.5L1279.2,721.4L1274.2,722.2L1269.2,723.0L1264.2,723.7L1259.2,724.4L1254.2,725.2L1249.2,726.2L1244.2,727.2L1239.8,728.2L1235.9,729.4L1232.7,730.7L1230.0,732.0Z"/>
<path fill="#f5f1e6" d="M1271.2,764.5L1267.1,762.6L1262.5,761.5L1257.5,761.2L1252.5,760.7L1247.5,760.0L1242.5,759.2L1237.5,758.2L1232.1,757.5L1226.2,757.2L1220.0,757.2L1213.3,757.5L1210.0,758.4L1210.0,768.0L1275.7,768.0Z"/>
<path fill="#c9eae6" d="M1309.8,731.9L1305.2,731.9L1301.8,732.4L1298.3,733.3L1295.0,734.7L1291.7,735.9L1288.3,737.1L1285.0,738.2L1281.7,739.2L1278.3,740.0L1275.0,740.5L1271.7,740.9L1268.3,741.1L1265.0,741.2L1261.7,741.4L1258.3,741.6L1255.0,741.8L1252.1,742.1L1249.6,742.7L1247.5,743.5L1245.8,744.5L1244.8,745.6L1244.2,746.8L1244.3,748.0L1245.0,749.3L1246.2,750.4L1247.8,751.2L1250.0,751.8L1252.7,752.2L1255.5,752.2L1258.5,752.1L1261.7,751.7L1265.0,751.0L1268.3,750.2L1271.7,749.4L1275.0,748.5L1278.3,747.5L1281.7,746.7L1285.0,746.0L1288.3,745.5L1291.7,745.2L1295.5,744.8L1299.8,744.2L1306.0,743.5L1310.0,743.0L1310.0,731.9Z"/>
<path fill="#e6f1f0" d="M410.0,768.0H610.0V918.0H410.0Z"/>
<path fill="#c9eae6" d="M417.8,812.6L426.0,812.1L432.0,811.6L437.5,811.0L442.5,810.3L446.8,809.7L450.2,809.0L453.0,808.3L455.0,807.7L455.6,806.7L454.8,805.3L452.5,803.7L448.8,801.7L444.8,799.8L440.5,798.2L435.8,796.7L430.8,795.3L425.8,794.2L420.6,793.2L414.0,792.2L410.0,791.7L410.0,813.0Z"/>
<path fill="#c9eae6" d="M460.8,802.1L460.5,803.2L460.8,804.1L461.8,804.6L463.4,805.0L465.6,805.3L468.3,805.6L471.7,805.8L475.4,805.9L479.6,806.1L484.2,806.2L489.2,806.4L494.2,806.5L499.2,806.4L504.2,806.2L509.2,805.8L513.8,805.5L517.9,805.2L521.7,804.8L525.0,804.5L528.3,804.0L531.7,803.3L535.0,802.5L538.3,801.5L541.7,800.4L545.0,799.2L548.3,798.0L551.7,796.7L553.3,795.5L553.3,794.5L551.7,793.7L548.3,793.0L545.0,792.6L541.7,792.5L538.3,792.8L535.0,793.2L531.7,793.8L528.3,794.4L525.0,795.0L521.7,795.7L518.3,796.0L515.0,796.1L511.7,795.9L508.3,795.4L505.0,794.8L501.7,794.2L498.3,793.4L495.0,792.6L491.7,792.0L488.3,791.7L485.0,791.6L481.7,791.8L478.5,792.1L475.5,792.7L472.7,793.5L470.0,794.5L467.6,795.7L465.4,797.1L463.5,798.8L461.8,800.6Z"/>
<path fill="#c9eae6" d="M417.8,843.2L426.0,842.8L432.0,842.4L437.5,841.9L442.5,841.4L447.5,840.9L452.5,840.4L457.5,839.9L462.5,839.4L467.5,838.8L472.5,838.0L477.5,837.2L482.5,836.2L487.5,835.2L492.5,834.4L497.5,833.7L502.5,833.0L507.5,832.4L512.5,831.9L517.5,831.5L522.5,831.2L527.4,830.7L532.2,830.0L537.0,829.2L541.7,828.2L544.4,827.2L545.2,826.4L544.2,825.7L541.2,825.0L537.7,824.5L533.7,824.0L529.2,823.8L524.2,823.6L518.8,823.4L512.9,823.1L506.7,822.8L500.0,822.5L493.3,822.2L486.7,822.0L480.0,821.8L473.3,821.6L466.7,821.5L460.0,821.6L453.3,821.8L446.7,822.2L439.5,822.5L431.8,822.8L421.5,823.2L410.0,823.7L410.0,843.6Z"/>
<path fill="#9dd9d0" d="M414.0,837.0L420.6,836.7L425.8,836.5L430.8,836.2L435.8,835.8L440.8,835.5L445.8,835.0L450.8,834.6L455.8,834.1L460.8,833.5L465.6,833.0L470.3,832.3L475.0,831.7L479.0,830.9L482.3,830.1L485.0,829.2L487.0,828.2L488.2,827.3L488.5,826.5L488.0,825.9L486.7,825.4L484.3,825.0L481.0,824.7L476.7,824.4L471.3,824.2L465.7,824.2L459.7,824.3L453.3,824.5L446.7,824.8L439.5,825.2L431.8,825.5L421.5,825.9L410.0,826.4L410.0,837.1Z"/>
<path fill="#70c1b6" d="M410.2,834.1L415.2,834.0L419.5,833.8L424.2,833.5L429.2,833.2L434.2,832.8L439.2,832.4L444.2,831.9L449.2,831.4L454.0,830.9L458.7,830.4L463.2,829.9L467.5,829.4L470.9,828.9L473.4,828.3L475.0,827.7L475.7,827.0L474.9,826.5L472.8,826.2L469.2,826.0L464.2,826.0L458.8,826.1L452.9,826.3L446.7,826.7L440.0,827.1L433.2,827.5L426.4,827.8L417.8,828.1L410.0,828.4L410.0,834.1Z"/>
<path fill="#419f97" d="M412.5,832.8L418.2,832.6L422.5,832.4L426.7,832.0L430.7,831.6L434.1,831.1L436.9,830.6L439.2,830.1L440.8,829.5L440.8,829.2L439.2,829.1L435.8,829.2L430.8,829.5L425.8,829.8L420.6,830.0L414.0,830.3L410.0,830.4L410.0,832.9Z"/>
<path fill="#c9eae6" d="M561.2,821.9L560.4,822.4L561.7,823.0L565.0,823.7L568.8,824.2L572.9,824.5L577.5,824.7L582.5,824.7L587.0,824.5L591.0,824.3L594.5,823.9L597.5,823.4L599.4,823.0L600.2,822.5L600.0,822.2L598.7,821.8L596.4,821.5L593.2,821.3L589.2,821.1L584.2,820.9L579.2,820.9L574.2,821.0L569.2,821.2L564.2,821.5Z"/>
<path fill="#f5f1e6" d="M483.4,810.5L482.9,811.5L484.3,812.7L487.7,814.0L491.2,815.2L495.1,816.3L499.2,817.2L503.5,818.1L508.0,818.8L512.7,819.2L517.5,819.6L522.5,819.8L527.9,819.7L533.8,819.5L540.0,819.0L546.7,818.3L553.3,817.7L560.0,817.0L566.7,816.3L573.3,815.7L579.2,815.0L584.2,814.3L588.3,813.7L591.7,813.0L592.5,812.3L590.8,811.7L586.7,811.0L580.0,810.3L573.3,809.8L566.7,809.2L560.0,808.8L553.3,808.5L546.7,808.3L540.0,808.2L533.3,808.2L526.7,808.4L520.4,808.5L514.6,808.5L509.2,808.4L504.2,808.2L499.3,808.3L494.7,808.5L490.2,809.0L485.8,809.7Z"/>
<path fill="#f6e9c7" d="M511.4,815.6L511.6,816.2L512.5,816.8L514.2,817.2L516.1,817.6L518.2,817.8L520.7,817.8L523.3,817.6L525.1,817.3L525.9,817.0L525.8,816.6L524.8,816.1L523.6,815.6L522.1,815.1L520.3,814.6L518.3,814.1L516.5,813.9L514.8,814.0L513.3,814.3L512.0,815.0Z"/>
<path fill="#f5f1e6" d="M606.0,829.9L599.0,829.7L593.0,829.7L586.7,829.8L580.0,830.2L573.3,830.7L566.7,831.3L560.0,832.2L553.3,833.2L546.7,834.4L540.0,835.9L533.3,837.7L526.7,839.7L520.4,841.0L514.6,841.7L509.2,841.7L504.2,841.0L499.2,840.7L494.2,840.7L489.2,841.0L484.2,841.7L478.8,842.2L472.9,842.8L466.7,843.2L460.0,843.5L453.5,843.9L447.2,844.4L441.0,845.0L435.0,845.7L431.6,846.5L430.8,847.5L432.5,848.7L436.8,850.0L441.3,851.5L446.0,853.2L450.8,855.0L455.8,857.0L460.8,859.0L465.8,861.0L470.8,863.0L475.8,865.0L480.8,866.8L485.8,868.5L490.8,870.0L495.8,871.3L500.8,872.7L505.8,874.0L510.8,875.3L515.8,876.7L520.4,878.0L524.6,879.3L528.3,880.7L531.7,882.0L535.0,883.6L538.3,885.4L541.7,887.5L545.0,889.8L548.3,892.2L551.7,894.8L555.0,897.3L558.3,900.0L561.7,902.6L565.0,905.1L568.3,907.5L571.7,909.8L574.8,912.4L577.6,915.1L580.0,918.0L610.0,918.0L610.0,830.2Z"/>
<path fill="#e6f1f0" d="M534.9,853.0L534.1,853.7L534.2,854.3L535.2,855.0L536.8,855.6L538.9,856.1L541.7,856.5L545.0,856.8L548.8,857.0L552.9,857.0L557.5,856.8L562.5,856.5L567.4,856.1L572.2,855.6L577.0,855.0L581.7,854.3L584.8,853.7L586.5,853.0L586.7,852.3L585.3,851.7L583.1,851.1L579.9,850.6L575.8,850.2L570.8,849.8L565.8,849.7L560.8,849.7L555.8,849.8L550.8,850.2L546.4,850.6L542.6,851.1L539.3,851.7L536.7,852.3Z"/>
<path fill="#f6e9c7" d="M598.5,858.1L588.2,858.5L580.5,858.8L573.3,859.2L566.7,859.5L560.0,859.8L553.3,860.2L546.7,860.5L540.0,860.8L534.2,861.0L529.2,861.0L525.0,860.8L521.7,860.5L519.0,860.0L517.0,859.3L515.7,858.5L515.0,857.5L514.0,856.5L512.7,855.5L511.0,854.5L509.0,853.5L506.7,852.7L504.0,852.0L501.0,851.5L497.7,851.2L494.7,851.2L492.0,851.5L489.7,852.2L487.7,853.2L486.3,854.3L485.7,855.7L485.7,857.2L486.3,858.8L487.4,860.2L488.9,861.4L490.8,862.3L493.2,863.0L496.0,863.8L499.3,864.8L503.2,866.0L507.5,867.3L511.8,868.6L515.9,869.8L520.0,870.8L524.0,871.8L528.2,872.7L532.8,873.3L537.5,873.8L542.5,874.2L547.5,874.4L552.5,874.6L557.5,874.7L562.5,874.7L567.5,874.6L572.5,874.4L577.5,874.2L582.5,873.8L588.0,873.7L594.0,873.7L602.2,873.9L610.0,874.3L610.0,857.6Z"/>
<path fill="#e9d39d" d="M594.8,861.7L583.2,861.9L575.5,862.1L569.2,862.2L564.2,862.4L559.2,862.6L554.2,862.8L549.2,862.9L544.2,863.1L539.4,863.2L534.9,863.4L530.7,863.6L526.7,863.8L523.4,864.0L520.9,864.5L519.2,865.0L518.2,865.7L517.6,866.3L517.4,867.0L517.7,867.7L518.3,868.3L519.5,869.0L521.2,869.5L523.3,870.1L526.0,870.6L529.2,871.0L533.1,871.5L537.5,871.8L542.5,872.2L547.5,872.4L552.5,872.5L557.5,872.4L562.5,872.2L567.5,872.0L572.5,871.8L577.5,871.5L582.5,871.2L588.0,870.9L594.0,870.8L602.2,870.7L610.0,870.7L610.0,861.5Z"/>
<path fill="#d9b76f" d="M606.0,862.4L599.8,862.6L595.5,862.8L591.7,862.9L588.3,863.1L585.2,863.3L582.4,863.5L579.8,863.8L577.5,864.2L576.3,864.6L576.3,865.1L577.5,865.7L579.8,866.3L582.4,866.8L585.2,867.2L588.3,867.3L591.7,867.3L595.5,867.3L599.8,867.3L606.0,867.3L610.0,867.3L610.0,862.2Z"/>
<path fill="#c9eae6" d="M577.1,916.2L574.6,913.6L571.7,911.2L568.3,908.8L565.0,906.4L561.7,903.9L558.3,901.3L555.0,898.7L551.7,896.1L548.3,893.6L545.0,891.2L541.7,888.8L538.3,886.8L535.0,884.9L531.7,883.3L528.3,882.0L524.6,880.7L520.4,879.3L515.8,878.0L510.8,876.7L505.8,875.3L500.8,874.0L495.8,872.7L490.8,871.3L485.8,869.8L480.8,868.2L475.8,866.3L470.8,864.3L465.8,862.3L460.8,860.3L455.8,858.3L450.8,856.3L446.0,854.5L441.3,852.8L436.8,851.3L432.5,850.0L427.8,848.9L422.6,848.0L415.5,847.1L410.0,846.7L410.0,880.3L414.0,879.8L420.2,879.3L424.5,879.3L428.3,879.7L431.7,880.3L435.0,881.0L438.3,881.7L441.7,882.3L445.0,883.0L448.3,883.6L451.7,884.1L455.0,884.5L458.3,884.8L461.7,885.2L465.0,885.5L468.3,885.8L471.7,886.2L474.8,886.7L477.8,887.3L480.7,888.2L483.3,889.2L485.9,890.2L488.4,891.2L490.8,892.2L493.2,893.2L495.8,894.0L498.6,894.7L501.7,895.2L505.0,895.5L508.3,895.9L511.7,896.3L515.0,896.8L518.3,897.2L521.7,897.9L525.0,898.8L528.3,899.8L531.7,900.9L534.8,902.2L537.8,903.6L540.7,905.2L543.3,906.8L545.9,909.1L548.4,912.0L551.4,916.6L552.2,918.0L578.4,918.0Z"/>
<path fill="#9dd9d0" d="M436.3,873.1L436.3,874.6L437.5,876.3L439.8,878.3L442.4,879.9L445.2,881.1L448.3,881.8L451.7,882.2L455.0,882.4L458.3,882.6L461.7,882.7L465.0,882.7L468.3,882.6L471.7,882.4L475.0,882.2L478.3,881.8L481.7,881.7L485.0,881.7L488.3,881.8L491.7,882.2L495.4,882.5L499.6,882.8L504.2,883.2L509.2,883.5L513.4,883.6L516.9,883.4L519.7,883.0L521.7,882.3L522.2,881.5L521.4,880.5L519.2,879.3L515.5,878.0L511.7,876.9L507.7,876.1L503.5,875.5L499.2,875.2L495.1,874.8L491.2,874.5L487.7,874.2L484.3,873.8L481.2,873.2L478.4,872.4L475.8,871.3L473.5,870.0L470.9,868.8L468.1,867.8L465.0,867.0L461.7,866.3L458.3,866.1L455.0,866.2L451.7,866.8L448.3,867.8L445.2,868.8L442.4,869.8L439.8,870.8L437.5,871.8Z"/>
<path fill="#70c1b6" d="M455.1,872.7L454.6,874.0L454.5,875.3L454.8,876.7L455.6,877.7L456.8,878.3L458.3,878.7L460.3,878.7L461.9,878.2L463.1,877.4L463.8,876.2L464.2,874.5L464.1,873.0L463.6,871.7L462.7,870.5L461.3,869.5L460.0,869.1L458.7,869.2L457.3,870.0L456.0,871.3Z"/>
<path fill="#9dd9d0" d="M411.0,861.9L415.4,861.5L418.2,861.2L420.5,860.8L422.2,860.5L423.0,859.9L423.0,859.1L422.2,858.0L420.5,856.7L418.2,855.5L415.4,854.5L411.0,853.5L410.0,853.3L410.0,862.0Z"/>
<path fill="#9dd9d0" d="M597.1,916.6L594.6,914.9L591.7,913.7L588.3,913.0L585.0,912.4L581.7,911.9L578.3,911.5L575.0,911.2L572.8,911.9L571.6,913.6L571.8,917.4L571.9,918.0L598.2,918.0Z"/>
<path fill="#c9eae6" d="M609.8,781.2L605.5,780.6L602.5,780.4L599.8,780.5L597.5,780.8L596.1,781.6L595.6,782.8L596.0,784.3L597.3,786.3L599.5,788.0L602.5,789.3L607.5,790.5L610.0,790.9L610.0,781.2Z"/>
<path fill="#c9eae6" d="M602.8,771.4L604.9,773.2L609.0,774.3L610.0,774.3L610.0,768.0L601.5,768.0Z"/>
<path fill="#f5f1e6" d="M550.8,917.4L548.2,913.1L545.8,910.4L543.3,908.2L540.7,906.5L537.9,905.0L535.1,903.5L532.2,902.2L529.2,901.1L526.1,900.1L522.9,899.2L519.7,898.6L516.3,898.1L512.9,897.6L509.4,897.2L505.8,896.8L502.2,896.5L498.8,896.0L495.8,895.3L493.2,894.5L490.8,893.5L488.4,892.5L485.9,891.5L483.3,890.5L480.7,889.5L477.8,888.7L474.8,888.0L471.7,887.5L468.3,887.2L465.0,886.8L461.7,886.5L458.3,886.2L455.0,885.8L451.7,885.4L448.3,884.9L445.0,884.3L441.7,883.7L438.3,883.0L435.0,882.3L431.7,881.7L428.3,881.0L424.5,880.7L420.2,880.7L414.0,881.2L410.0,881.7L410.0,918.0L551.2,918.0Z"/>
<path fill="#f6e9c7" d="M538.1,915.9L535.1,911.0L532.6,907.9L530.0,905.5L527.3,903.8L524.4,902.4L521.2,901.2L517.8,900.3L514.2,899.7L510.6,898.9L507.1,898.1L503.7,897.2L500.3,896.2L497.2,895.5L494.2,895.2L491.3,895.2L488.7,895.5L486.0,895.7L483.3,895.7L480.7,895.5L478.0,895.2L475.2,894.8L472.2,894.4L469.0,893.9L465.7,893.4L462.5,893.2L459.5,893.2L456.7,893.4L454.0,893.9L451.2,894.1L448.2,894.0L445.0,893.7L441.7,893.0L438.3,892.2L435.0,891.4L431.7,890.5L428.3,889.5L424.5,888.6L420.2,887.8L414.0,886.8L410.0,886.3L410.0,894.3L414.0,894.8L420.2,895.8L424.5,896.8L428.3,898.0L431.7,899.3L435.0,900.7L438.3,902.0L441.7,903.3L445.0,904.7L448.3,905.5L451.7,905.8L455.0,905.7L458.3,905.0L461.7,904.4L465.0,903.9L468.3,903.5L471.7,903.2L475.0,903.2L478.3,903.5L481.7,904.2L485.0,905.2L488.3,906.2L491.7,907.4L495.0,908.7L498.3,910.0L501.7,911.9L505.0,914.3L509.0,918.0L539.2,918.0Z"/>
<path fill="#e9d39d" d="M510.0,906.5L512.7,907.5L515.3,907.7L518.0,907.0L518.0,906.0L515.3,904.7L512.7,904.5L510.0,905.5Z"/>
<path fill="#e6f1f0" d="M424.5,914.5L420.2,912.4L414.0,910.8L410.0,910.3L410.0,918.0L429.0,918.0Z"/>
<path fill="#f5f1e6" d="M414.0,777.2L420.2,776.6L424.5,776.4L428.3,776.5L431.7,776.8L435.0,776.8L438.3,776.5L441.7,775.8L445.0,774.8L447.9,773.2L450.4,771.1L452.6,768.0L410.0,768.0L410.0,777.7Z"/>
<path fill="#f5f1e6" d="M530.7,772.7L532.0,774.0L534.7,773.7L538.7,771.7L540.0,770.3L538.7,769.7L536.0,770.0L532.0,771.3Z"/>
<path fill="#f5f1e6" d="M568.6,787.3L567.8,788.7L567.3,790.0L567.3,791.3L567.7,792.5L568.3,793.5L569.3,794.3L570.7,795.0L572.2,795.2L573.8,795.1L575.7,794.5L577.7,793.5L579.2,792.2L580.4,790.8L581.2,789.0L581.5,787.0L581.2,785.4L580.4,784.2L579.0,783.5L577.0,783.2L575.1,783.2L573.2,783.8L571.5,784.7L569.8,786.0Z"/>
<path fill="#f5f1e6" d="M556.3,770.8L558.3,772.2L560.7,772.8L563.3,772.5L565.5,771.5L567.2,769.8L568.0,768.0L554.6,768.0Z"/>
<path fill="#f5f1e6" d="M610.0,768.0H810.0V918.0H610.0Z"/>
<path fill="#e6f1f0" d="M806.0,795.8L799.4,794.8L794.2,793.8L789.2,792.7L784.2,791.3L780.0,790.0L776.7,788.7L774.2,787.3L772.5,786.0L770.4,784.8L767.9,783.8L765.0,783.0L761.7,782.3L758.3,781.9L755.0,781.8L751.7,781.8L748.3,782.2L745.4,782.8L742.9,783.6L740.8,784.7L739.2,786.0L736.7,787.2L733.3,788.4L729.2,789.5L724.2,790.5L719.6,791.4L715.4,792.2L711.7,793.0L708.3,793.7L705.4,794.3L702.9,795.0L700.8,795.7L699.2,796.3L698.0,797.5L697.3,799.2L697.2,801.3L697.5,804.0L698.1,806.5L698.9,808.8L700.0,811.0L701.3,813.0L702.8,814.8L704.5,816.5L706.3,818.0L708.3,819.3L710.4,820.7L712.6,822.0L714.8,823.3L717.2,824.7L719.5,825.9L721.8,827.1L724.2,828.2L726.5,829.2L728.7,830.5L730.7,832.2L732.5,834.2L734.2,836.5L735.8,838.7L737.5,840.7L739.2,842.5L740.8,844.2L742.9,845.5L745.4,846.5L748.3,847.2L751.7,847.5L755.0,847.4L758.3,846.9L761.7,846.0L765.0,844.7L768.3,843.5L771.7,842.5L775.0,841.7L778.3,841.0L781.7,840.6L785.0,840.4L788.3,840.5L791.7,840.8L795.5,841.2L799.8,841.5L806.0,841.9L810.0,842.2L810.0,796.3Z"/>
<path fill="#f5f1e6" d="M806.0,801.2L799.4,800.0L794.2,798.7L789.2,797.0L784.2,795.0L779.6,793.4L775.4,792.2L771.7,791.5L768.3,791.2L765.9,791.4L764.4,792.2L763.8,793.7L764.2,795.7L765.2,797.4L766.8,798.9L769.2,800.2L772.2,801.2L775.7,802.2L779.7,803.2L784.2,804.2L789.2,805.2L794.2,806.0L799.4,806.7L806.0,807.2L810.0,807.5L810.0,801.7Z"/>
<path fill="#f5f1e6" d="M806.0,827.4L799.8,827.7L795.5,827.7L791.7,827.5L788.3,827.2L785.2,827.1L782.2,827.2L779.3,827.7L776.7,828.3L775.3,829.2L775.3,830.2L776.7,831.3L779.3,832.7L782.2,833.6L785.2,834.1L788.3,834.2L791.7,833.8L795.5,833.7L799.8,833.7L806.0,833.9L810.0,834.2L810.0,827.2Z"/>
<path fill="#c9eae6" d="M798.5,814.4L788.6,814.6L781.8,814.8L775.8,814.9L770.8,815.1L766.0,815.3L761.3,815.5L756.8,815.8L752.5,816.2L749.5,816.6L747.8,817.1L747.5,817.7L748.5,818.3L750.1,819.0L752.2,819.5L755.0,820.1L758.3,820.6L761.7,821.0L765.0,821.5L768.3,821.8L771.7,822.2L775.4,822.4L779.6,822.5L784.2,822.4L789.2,822.2L794.2,822.1L799.4,821.9L806.0,821.7L810.0,821.6L810.0,814.2Z"/>
<path fill="#c9eae6" d="M757.3,837.2L761.3,839.5L765.0,840.2L768.3,839.2L768.3,837.8L765.0,836.2L761.3,835.5L757.3,835.8Z"/>
<path fill="#e6f1f0" d="M806.0,772.8L799.8,773.2L795.5,773.5L791.7,773.8L788.3,774.2L785.2,774.7L782.4,775.3L779.8,776.2L777.5,777.2L775.9,778.2L775.1,779.4L775.0,780.7L775.7,782.0L776.6,783.2L777.8,784.2L779.2,785.0L780.8,785.7L782.9,786.2L785.4,786.8L788.3,787.2L791.7,787.5L795.5,787.6L799.8,787.4L806.0,786.8L810.0,786.3L810.0,772.5Z"/>
<path fill="#e6f1f0" d="M617.8,831.2L625.6,831.0L630.8,831.0L635.0,831.2L638.3,831.5L641.2,832.1L643.8,832.9L645.8,834.0L647.5,835.3L649.1,836.7L650.6,838.0L652.0,839.3L653.3,840.7L654.8,841.5L656.5,841.8L658.3,841.7L660.3,841.0L662.0,840.2L663.3,839.2L664.3,838.0L665.0,836.7L665.2,835.2L664.8,833.5L664.0,831.7L662.7,829.7L661.2,827.8L659.8,826.2L658.2,824.7L656.5,823.3L654.8,821.8L653.2,820.2L651.5,818.3L649.8,816.3L647.9,814.5L645.8,812.8L643.3,811.3L640.7,810.0L637.8,808.7L634.8,807.3L631.7,806.0L628.3,804.7L624.5,803.6L620.2,802.8L614.0,802.1L610.0,801.8L610.0,831.6Z"/>
<path fill="#c9eae6" d="M614.0,828.0L620.2,828.1L624.5,828.2L628.3,828.5L631.7,828.8L635.0,829.2L638.3,829.5L641.7,829.8L645.0,830.2L647.1,830.2L647.9,829.8L647.5,829.2L645.8,828.2L643.8,827.3L641.2,826.5L638.3,825.9L635.0,825.4L630.8,825.1L625.6,824.9L617.8,825.0L610.0,825.1L610.0,828.0Z"/>
<path fill="#9dd9d0" d="M648.0,822.9L648.0,824.1L649.0,825.7L651.0,827.7L652.8,829.6L654.2,831.4L655.5,833.2L656.5,834.8L657.6,836.2L658.8,837.2L660.0,837.8L661.3,838.2L662.7,838.2L664.0,837.8L665.3,837.2L666.7,836.2L667.6,834.9L668.1,833.4L668.2,831.7L667.8,829.7L667.2,828.0L666.2,826.7L664.8,825.7L663.2,825.0L661.5,824.3L659.8,823.7L658.2,823.0L656.5,822.3L654.8,821.9L652.9,821.8L651.0,821.8L649.0,822.2Z"/>
<path fill="#70c1b6" d="M658.0,828.2L657.3,829.0L657.2,830.0L657.5,831.3L658.0,832.5L658.7,833.5L659.5,834.3L660.5,835.0L661.5,835.2L662.5,835.1L663.5,834.5L664.5,833.5L665.1,832.5L665.2,831.4L665.0,830.2L664.3,829.1L663.4,828.2L662.2,827.8L660.8,827.6L659.2,827.8Z"/>
<path fill="#c9eae6" d="M670.2,823.2L669.2,824.8L668.7,827.2L668.7,830.2L669.0,832.7L669.7,834.7L670.7,836.2L672.0,837.2L673.5,838.0L675.2,838.7L677.0,839.2L679.0,839.5L680.3,839.0L681.0,837.7L681.0,835.5L680.3,832.5L679.7,829.8L679.0,827.5L678.3,825.5L677.7,823.8L676.7,822.7L675.3,822.0L673.7,821.8L671.7,822.2Z"/>
<path fill="#c9eae6" d="M614.0,793.2L620.2,792.0L624.5,790.7L628.3,789.0L631.7,787.0L634.8,785.0L637.6,783.0L640.2,781.0L642.5,779.0L644.1,777.2L644.9,775.5L645.0,774.0L644.3,772.7L642.6,771.8L639.8,771.2L635.8,771.2L630.8,771.5L625.8,771.8L620.6,772.2L614.0,772.6L610.0,772.8L610.0,793.7Z"/>
<path fill="#e6f1f0" d="M650.2,798.8L649.2,800.2L648.7,802.2L648.7,804.5L649.0,806.6L649.7,808.4L650.7,810.0L652.0,811.3L653.4,811.9L654.9,811.8L656.5,810.8L658.2,809.2L659.6,807.5L660.8,805.8L661.7,804.2L662.3,802.5L662.4,801.0L661.9,799.7L660.8,798.5L659.2,797.5L657.4,796.9L655.6,796.8L653.7,797.0L651.7,797.7Z"/>
<path fill="#e6f1f0" d="M715.1,841.8L714.6,843.2L714.5,844.7L714.8,846.0L715.3,847.2L716.0,848.4L716.8,849.5L717.8,850.5L719.1,851.3L720.6,852.0L722.3,852.5L724.3,852.8L726.3,852.8L728.3,852.2L730.3,851.3L732.3,850.0L733.9,848.5L735.1,846.8L735.8,845.0L736.2,843.0L736.0,841.1L735.3,839.2L734.2,837.5L732.5,835.8L730.6,834.8L728.4,834.2L726.0,834.3L723.3,835.0L721.0,835.9L719.0,837.1L717.3,838.5L716.0,840.2Z"/>
<path fill="#e6f1f0" d="M670.4,846.8L669.9,848.2L670.2,850.2L671.2,852.5L672.3,854.2L673.7,855.2L675.2,855.5L676.8,855.2L678.2,854.5L679.4,853.5L680.3,852.2L681.0,850.5L681.2,849.0L680.8,847.7L680.0,846.5L678.7,845.5L677.2,844.9L675.5,844.8L673.7,845.0L671.7,845.7Z"/>
<path fill="#e6f1f0" d="M686.4,872.1L685.9,873.6L686.2,875.5L687.2,877.8L688.4,879.8L689.9,881.5L691.7,882.8L693.7,883.8L695.6,884.4L697.4,884.6L699.2,884.3L700.8,883.7L701.9,882.7L702.4,881.3L702.3,879.7L701.7,877.7L700.7,875.8L699.3,874.2L697.7,872.7L695.7,871.3L693.7,870.5L691.7,870.2L689.7,870.3L687.7,871.0Z"/>
<path fill="#e6f1f0" d="M710.3,871.8L709.7,872.8L709.7,874.0L710.3,875.3L711.3,876.6L712.7,877.8L714.3,878.8L716.3,879.8L718.5,880.4L720.8,880.6L723.3,880.3L726.0,879.7L728.5,878.8L730.8,877.6L733.0,876.2L735.0,874.5L736.0,873.0L736.0,871.7L735.0,870.5L733.0,869.5L730.7,868.8L728.0,868.5L725.0,868.5L721.7,868.8L718.7,869.2L716.0,869.8L713.7,870.3L711.7,871.0Z"/>
<path fill="#e6f1f0" d="M719.6,885.2L718.8,887.1L719.2,889.3L720.8,892.0L722.9,894.2L725.4,896.1L728.3,897.5L731.7,898.5L735.0,899.0L738.3,899.0L741.7,898.5L745.0,897.5L747.8,896.2L749.9,894.8L751.5,893.0L752.5,891.0L752.6,889.2L751.8,887.5L750.0,886.0L747.3,884.7L744.5,883.6L741.5,882.8L738.3,882.2L735.0,881.8L731.7,881.8L728.3,882.2L725.0,882.8L721.7,883.8Z"/>
<path fill="#e6f1f0" d="M806.0,891.2L799.4,891.0L794.2,891.0L789.2,891.2L784.2,891.5L779.6,892.0L775.4,892.7L771.7,893.5L768.3,894.5L765.4,895.6L762.9,896.8L760.8,898.0L759.2,899.3L757.5,900.8L755.8,902.2L754.2,903.8L752.5,905.5L750.8,907.9L749.2,911.0L747.1,915.9L746.3,918.0L810.0,918.0L810.0,891.5Z"/>
<path fill="#e6f1f0" d="M655.0,916.4L655.0,914.1L654.2,912.2L652.5,910.5L650.4,909.0L647.9,907.7L645.0,906.5L641.7,905.5L638.3,904.5L635.0,903.5L631.7,902.5L628.3,901.5L624.5,900.8L620.2,900.5L614.0,900.6L610.0,900.8L610.0,918.0L654.4,918.0Z"/>
<path fill="#e6f1f0" d="M610.2,772.6L614.0,771.5L616.0,769.8L616.7,768.0L610.0,768.0L610.0,772.6Z"/>
<path fill="#f6e9c7" d="M614.0,868.9L620.2,868.2L624.5,867.6L628.3,867.0L631.7,866.3L634.8,865.6L637.6,864.8L640.2,863.8L642.5,862.8L644.7,861.8L646.7,860.6L648.5,859.3L650.2,858.0L651.5,856.7L652.5,855.3L653.2,854.0L653.5,852.7L653.5,851.4L653.2,850.2L652.5,849.2L651.5,848.2L649.9,847.5L647.8,847.2L645.0,847.2L641.7,847.5L638.3,847.9L635.0,848.4L631.7,849.0L628.3,849.7L624.5,850.3L620.2,851.0L614.0,851.8L610.0,852.3L610.0,869.2Z"/>
<path fill="#e9d39d" d="M614.0,864.6L620.0,864.1L624.0,863.6L627.3,863.0L630.0,862.3L632.4,861.6L634.6,860.8L636.5,859.8L638.2,858.8L639.2,857.9L639.5,857.1L639.2,856.3L638.2,855.7L636.6,855.2L634.4,855.0L631.7,854.9L628.3,855.1L624.5,855.3L620.2,855.7L614.0,856.2L610.0,856.6L610.0,864.8Z"/>
<path fill="#d9b76f" d="M613.0,863.3L615.0,862.8L616.3,862.1L617.0,861.2L616.5,860.7L614.8,860.5L611.0,860.6L610.0,860.7L610.0,863.7Z"/>
<path fill="#f6e9c7" d="M798.5,857.0L789.0,857.0L783.0,856.8L778.3,856.3L775.0,855.7L771.7,854.9L768.3,854.1L765.0,853.2L761.7,852.2L758.8,851.6L756.2,851.4L754.2,851.7L752.5,852.3L751.4,853.3L750.9,854.7L751.0,856.3L751.7,858.3L752.4,860.3L753.2,862.3L754.2,864.3L755.2,866.3L756.3,868.1L757.7,869.6L759.2,870.8L760.8,871.8L762.7,872.3L764.7,872.3L766.8,871.8L769.2,870.8L771.6,870.2L774.1,869.8L776.7,869.8L779.3,870.2L782.2,870.4L785.2,870.5L788.3,870.4L791.7,870.2L795.5,870.2L799.8,870.2L806.0,870.3L810.0,870.4L810.0,856.8Z"/>
<path fill="#e9d39d" d="M798.5,859.0L789.2,859.2L783.8,859.4L779.8,859.6L777.5,859.8L775.8,860.3L774.8,861.2L774.5,862.5L774.8,864.2L775.6,865.5L776.8,866.5L778.3,867.2L780.3,867.5L782.7,867.8L785.3,867.9L788.3,868.0L791.7,868.0L795.5,868.0L799.8,868.0L806.0,868.0L810.0,868.0L810.0,858.8Z"/>
<path fill="#f6e9c7" d="M678.3,784.8L677.7,785.8L677.7,786.8L678.3,787.8L679.5,788.4L681.2,788.6L683.3,788.3L686.0,787.7L688.6,786.8L691.1,785.8L693.5,784.7L695.8,783.3L697.3,782.2L698.0,781.2L697.8,780.3L696.8,779.7L695.4,779.3L693.6,779.3L691.3,779.7L688.7,780.3L686.2,781.1L683.8,781.9L681.7,782.8L679.7,783.8Z"/>
<path fill="#e6f1f0" d="M810.0,768.0H1010.0V918.0H810.0Z"/>
<path fill="#f5f1e6" d="M1006.0,898.3L1000.0,896.5L996.0,894.8L992.7,893.0L990.0,891.0L987.8,888.7L986.2,886.0L985.0,883.0L984.3,879.7L983.4,877.1L982.2,875.2L980.8,874.2L979.2,873.8L977.1,873.9L974.6,874.4L971.7,875.3L968.3,876.7L965.6,877.0L963.4,876.3L961.8,874.7L960.8,872.0L959.9,869.2L959.1,866.2L958.3,863.0L957.7,859.7L957.4,856.4L957.6,853.2L958.2,850.2L959.2,847.2L959.2,844.8L958.4,842.9L956.7,841.7L954.0,841.0L951.2,840.8L948.2,840.9L945.0,841.5L941.7,842.5L938.3,843.5L935.0,844.5L931.7,845.5L928.3,846.5L925.0,847.4L921.7,848.2L918.3,849.0L915.0,849.7L911.7,850.0L908.3,850.0L905.0,849.7L901.7,849.0L898.4,848.0L895.2,846.7L892.2,845.0L889.2,843.0L886.4,841.0L883.9,839.0L881.7,837.0L879.7,835.0L877.3,833.2L874.7,831.8L871.7,830.5L868.3,829.5L865.0,828.8L861.7,828.5L858.3,828.5L855.0,828.8L851.7,829.2L848.3,829.5L845.0,829.8L841.7,830.2L838.3,830.0L835.0,829.3L831.7,828.2L828.3,826.5L824.5,825.1L820.2,823.9L814.0,822.8L810.0,822.3L810.0,918.0L1010.0,918.0L1010.0,899.3Z"/>
<path fill="#e6f1f0" d="M814.0,848.0L820.2,847.9L824.5,847.8L828.3,847.5L831.7,847.2L834.6,846.6L837.1,845.8L839.2,844.7L840.8,843.3L841.7,841.9L841.7,840.4L840.8,838.8L839.2,837.2L837.1,835.7L834.6,834.3L831.7,833.2L828.3,832.2L824.5,831.5L820.2,831.2L814.0,831.2L810.0,831.5L810.0,848.0Z"/>
<path fill="#e6f1f0" d="M921.3,896.0L922.7,898.7L924.7,899.3L927.3,898.0L928.3,896.0L927.7,893.3L925.7,892.7L922.3,894.0Z"/>
<path fill="#e6f1f0" d="M857.9,894.8L857.1,895.8L856.7,897.2L856.7,898.8L856.9,900.4L857.4,901.9L858.2,903.3L859.2,904.7L860.2,905.3L861.4,905.3L862.7,904.7L864.0,903.3L864.8,901.8L865.2,900.2L865.0,898.3L864.3,896.3L863.4,894.9L862.2,894.1L860.8,893.8L859.2,894.2Z"/>
<path fill="#e6f1f0" d="M855.0,914.3L855.0,911.9L854.2,910.0L852.5,908.7L850.0,907.8L846.7,907.2L842.5,907.2L837.5,907.5L833.8,908.9L831.2,911.3L830.0,915.9L830.0,918.0L853.8,918.0Z"/>
<path fill="#f5f1e6" d="M830.8,773.0L829.6,774.3L829.8,776.5L831.5,779.5L832.9,782.2L834.1,784.8L835.0,787.0L835.7,789.0L836.6,790.7L837.8,792.0L839.2,793.0L840.8,793.7L842.3,793.8L843.7,793.2L844.8,792.2L845.8,790.5L847.2,789.0L848.8,787.7L850.8,786.5L853.2,785.5L855.5,784.5L857.8,783.5L860.2,782.5L862.5,781.5L863.7,780.5L863.7,779.5L862.5,778.5L860.2,777.5L857.6,776.6L854.8,775.8L851.7,775.0L848.3,774.3L844.8,773.8L841.2,773.2L837.3,772.8L833.3,772.5Z"/>
<path fill="#f5f1e6" d="M837.2,808.0L835.5,808.7L835.0,809.5L835.7,810.5L836.8,811.4L838.5,812.2L840.7,813.0L843.3,813.7L846.2,814.4L849.2,815.2L852.3,816.2L855.7,817.2L858.8,817.8L861.6,817.9L864.2,817.7L866.5,817.0L867.8,816.2L868.2,815.2L867.5,814.0L865.8,812.7L863.8,811.4L861.2,810.2L858.3,809.2L855.0,808.2L851.5,807.5L847.8,807.2L844.0,807.2L840.0,807.5Z"/>
<path fill="#f5f1e6" d="M1008.2,810.8L1004.1,811.8L1002.2,812.8L1001.7,814.0L1002.3,815.3L1003.8,816.4L1005.9,817.2L1009.8,817.9L1010.0,817.9L1010.0,810.6Z"/>
<path fill="#f6e9c7" d="M810.2,867.0L814.8,866.6L818.2,866.2L821.7,865.7L825.0,865.0L828.3,864.2L831.7,863.4L835.0,862.5L838.3,861.5L841.7,860.7L845.0,860.0L848.3,859.5L851.7,859.2L855.0,859.1L858.3,859.2L861.7,859.7L865.0,860.3L868.4,861.0L871.9,861.7L875.5,862.3L879.2,863.0L882.2,863.3L884.8,863.3L886.7,863.0L888.0,862.3L889.2,861.3L890.2,860.0L891.0,858.3L891.7,856.3L892.0,854.2L892.0,851.8L891.7,849.3L891.0,846.7L890.0,844.2L888.7,841.8L887.0,839.7L885.0,837.7L882.8,835.9L880.5,834.4L878.0,833.2L875.3,832.2L872.8,831.5L870.5,831.2L868.3,831.2L866.3,831.5L865.2,832.0L864.8,832.7L865.3,833.5L866.7,834.5L867.8,835.7L868.6,837.0L869.2,838.5L869.5,840.2L869.2,841.8L868.2,843.2L866.5,844.7L864.2,846.0L861.8,847.2L859.2,848.2L856.7,849.0L854.0,849.7L851.2,850.3L848.2,851.0L845.0,851.7L841.7,852.3L838.3,853.0L835.0,853.7L831.7,854.3L828.3,855.0L824.5,855.8L820.2,856.6L814.0,857.8L810.0,858.5L810.0,867.0Z"/>
<path fill="#f6e9c7" d="M905.0,860.8L904.3,861.8L904.3,863.5L905.0,865.8L905.0,868.1L904.3,870.2L903.0,872.3L901.0,874.3L899.8,876.0L899.5,877.3L900.0,878.3L901.3,879.0L903.0,879.3L905.0,879.3L907.3,879.0L910.0,878.3L912.7,877.9L915.3,877.8L918.0,877.8L920.7,878.2L923.0,878.2L925.0,877.8L926.7,877.2L928.0,876.2L928.8,875.1L929.2,873.9L929.0,872.7L928.3,871.3L927.2,870.2L925.5,869.2L923.3,868.3L920.7,867.7L918.3,866.8L916.3,865.8L914.7,864.7L913.3,863.3L911.8,862.2L910.2,861.4L908.3,860.8L906.3,860.5Z"/>
<path fill="#f6e9c7" d="M944.0,828.3L945.3,831.7L947.7,832.0L951.0,829.3L952.3,827.0L951.7,825.0L949.3,824.7L945.3,826.0Z"/>
<path fill="#f6e9c7" d="M934.3,911.0L935.0,914.3L936.7,915.3L939.3,914.0L940.3,912.0L939.7,909.3L938.0,908.3L935.3,909.0Z"/>
<path fill="#c9eae6" d="M814.0,823.0L819.8,822.7L823.5,822.3L826.3,821.9L828.3,821.4L829.6,820.8L830.1,819.9L829.8,818.9L828.8,817.8L827.5,816.7L825.8,815.8L823.8,815.0L821.5,814.3L818.8,813.9L815.6,813.6L811.0,813.6L810.0,813.7L810.0,823.1Z"/>
<path fill="#c9eae6" d="M915.3,833.7L915.3,835.0L916.0,836.2L917.3,837.2L919.0,837.8L921.0,837.9L923.3,837.7L926.0,837.0L928.6,836.2L931.1,835.2L933.5,834.0L935.8,832.7L937.5,831.3L938.5,830.0L938.8,828.7L938.5,827.3L937.8,826.2L936.6,825.4L935.0,824.8L933.0,824.5L930.8,824.5L928.5,824.8L926.0,825.5L923.3,826.5L921.0,827.7L919.0,829.0L917.3,830.5L916.0,832.2Z"/>
<path fill="#c9eae6" d="M1007.5,824.6L1002.1,824.4L998.2,824.6L994.8,825.0L991.8,825.7L988.9,826.7L986.1,828.0L983.3,829.7L980.7,831.7L978.2,834.0L976.1,836.7L974.2,839.7L972.5,843.0L971.4,846.3L970.9,849.7L971.0,853.0L971.7,856.3L972.8,859.2L974.5,861.5L976.7,863.3L979.3,864.7L982.2,866.0L985.2,867.3L988.3,868.7L991.7,870.0L994.3,871.6L996.3,873.4L997.7,875.5L998.3,877.8L998.5,880.0L998.2,882.0L997.3,883.8L996.0,885.5L995.1,887.2L994.6,889.1L994.5,891.0L994.8,893.0L995.6,894.4L996.8,895.2L998.3,895.5L1000.3,895.2L1002.8,894.5L1005.6,893.5L1009.8,891.8L1010.0,891.6L1010.0,824.8Z"/>
<path fill="#9dd9d0" d="M1008.7,842.5L1006.0,841.5L1003.3,840.8L1000.7,840.5L998.2,840.5L995.8,840.8L993.7,841.5L991.7,842.5L989.8,843.7L988.2,845.0L986.7,846.5L985.3,848.2L984.8,850.1L984.9,852.2L985.8,854.7L987.5,857.3L989.3,859.7L991.3,861.7L993.5,863.3L995.8,864.7L997.8,866.3L999.2,868.3L1000.3,870.7L1001.0,873.3L1001.7,875.8L1002.3,878.2L1003.0,880.3L1003.7,882.3L1005.0,884.0L1007.0,885.3L1010.0,886.3L1010.0,843.2Z"/>
<path fill="#70c1b6" d="M984.3,851.3L984.3,852.5L984.8,853.8L985.8,854.9L987.1,855.9L988.6,856.6L990.3,857.2L992.3,857.5L994.2,857.5L996.1,857.3L997.8,856.8L999.5,855.9L1000.8,854.8L1001.8,853.4L1002.5,851.7L1002.8,849.7L1002.6,847.9L1001.8,846.3L1000.3,844.9L998.3,843.8L996.3,843.2L994.3,843.2L992.3,843.8L990.3,844.9L988.6,846.1L987.1,847.4L985.8,848.7L984.8,850.0Z"/>
<path fill="#f5f1e6" d="M1010.0,768.0H1210.0V918.0H1010.0Z"/>
<path fill="#e6f1f0" d="M1012.5,889.2L1017.8,888.2L1021.2,887.2L1024.2,886.0L1026.5,884.7L1028.7,883.0L1030.7,881.0L1032.5,878.7L1034.2,876.0L1035.8,873.3L1037.5,870.7L1039.2,868.0L1040.8,865.3L1042.8,862.8L1044.9,860.5L1047.3,858.3L1050.0,856.3L1052.8,854.5L1055.6,852.8L1058.5,851.3L1061.5,850.0L1064.4,848.7L1067.2,847.3L1070.0,846.0L1072.7,844.7L1074.0,843.2L1074.0,841.5L1072.7,839.7L1070.0,837.7L1067.4,835.8L1064.9,833.9L1062.5,832.2L1060.2,830.5L1057.6,828.8L1054.8,827.2L1051.7,825.5L1048.3,823.8L1045.0,822.0L1041.7,820.0L1038.3,817.8L1035.0,815.5L1032.9,813.2L1032.1,810.8L1032.5,808.5L1034.2,806.2L1035.8,803.9L1037.5,801.8L1039.2,799.7L1040.8,797.7L1041.7,795.6L1041.7,793.4L1040.8,791.2L1039.2,788.8L1037.1,786.8L1034.6,784.9L1031.7,783.3L1028.3,782.0L1024.5,781.1L1020.2,780.6L1014.0,780.6L1010.0,780.8L1010.0,889.5Z"/>
<path fill="#c9eae6" d="M1012.5,874.7L1017.8,874.6L1021.2,874.4L1024.2,874.2L1026.5,873.8L1028.5,873.0L1030.2,871.7L1031.5,869.8L1032.5,867.5L1033.4,865.2L1034.2,863.1L1035.0,861.0L1035.7,859.0L1037.0,857.3L1039.0,856.0L1041.7,855.0L1045.0,854.3L1047.9,853.3L1050.4,852.0L1052.5,850.3L1054.2,848.3L1055.2,846.3L1055.8,844.3L1055.7,842.3L1055.0,840.3L1053.8,838.7L1052.2,837.3L1050.0,836.3L1047.3,835.7L1044.5,835.0L1041.5,834.3L1038.3,833.7L1035.0,833.0L1031.9,832.2L1029.1,831.2L1026.5,830.0L1024.2,828.7L1021.2,827.6L1017.8,826.8L1012.5,826.1L1010.0,825.9L1010.0,874.7Z"/>
<path fill="#9dd9d0" d="M1012.5,869.9L1017.5,869.2L1020.5,868.4L1022.7,867.3L1024.0,866.0L1025.5,864.7L1027.2,863.3L1029.0,862.0L1031.0,860.7L1032.6,859.3L1033.8,858.0L1034.5,856.7L1034.8,855.3L1034.8,854.0L1034.2,852.7L1033.3,851.3L1032.0,850.0L1030.4,849.1L1028.6,848.6L1026.5,848.5L1024.2,848.8L1021.2,849.0L1017.8,849.0L1012.5,848.8L1010.0,848.6L1010.0,870.1Z"/>
<path fill="#70c1b6" d="M1011.8,869.6L1016.1,868.9L1018.2,867.6L1019.3,865.8L1019.3,863.5L1018.2,861.8L1016.1,860.6L1011.8,860.0L1010.0,860.0L1010.0,869.7Z"/>
<path fill="#e6f1f0" d="M1015.5,774.5L1021.8,773.0L1025.2,771.0L1027.4,768.0L1010.0,768.0L1010.0,775.1Z"/>
<path fill="#e6f1f0" d="M1028.2,916.5L1030.5,914.4L1032.5,912.7L1034.2,911.3L1034.6,909.9L1033.8,908.4L1031.7,906.8L1028.3,905.2L1024.5,903.8L1020.2,902.8L1014.0,902.1L1010.0,901.8L1010.0,918.0L1026.5,918.0Z"/>
<path fill="#e6f1f0" d="M1086.3,798.3L1085.7,799.7L1085.7,801.2L1086.3,802.8L1087.3,804.2L1088.7,805.4L1090.3,806.3L1092.3,807.0L1094.3,807.8L1096.3,808.6L1098.3,809.5L1100.3,810.5L1102.2,811.7L1103.8,813.0L1105.3,814.5L1106.7,816.2L1108.2,817.6L1109.8,818.8L1111.7,819.7L1113.7,820.3L1115.6,820.5L1117.4,820.2L1119.2,819.3L1120.8,818.0L1122.3,816.5L1123.7,814.8L1124.8,813.0L1125.8,811.0L1126.8,808.9L1127.6,806.8L1128.3,804.5L1129.0,802.2L1129.1,800.0L1128.6,798.0L1127.5,796.2L1125.8,794.5L1124.2,793.4L1122.5,792.9L1120.8,793.0L1119.2,793.7L1117.1,794.1L1114.6,794.2L1111.7,794.2L1108.3,793.8L1105.2,793.7L1102.2,793.7L1099.3,793.8L1096.7,794.2L1094.2,794.7L1091.8,795.3L1089.7,796.2L1087.7,797.2Z"/>
<path fill="#c9eae6" d="M1094.7,802.3L1094.7,803.7L1095.7,805.2L1097.7,806.8L1099.7,808.3L1101.7,809.7L1103.7,810.8L1105.7,811.8L1107.7,812.4L1109.7,812.6L1111.7,812.3L1113.7,811.7L1115.3,810.7L1116.7,809.3L1117.7,807.7L1118.3,805.7L1118.3,803.9L1117.7,802.4L1116.3,801.2L1114.3,800.2L1112.2,799.4L1109.8,798.9L1107.3,798.7L1104.7,798.7L1102.2,798.9L1099.8,799.4L1097.7,800.2L1095.7,801.2Z"/>
<path fill="#e6f1f0" d="M1123.6,823.6L1122.8,825.4L1122.5,827.5L1122.8,829.8L1123.3,832.2L1124.0,834.5L1124.8,836.8L1125.8,839.2L1127.1,841.2L1128.6,843.1L1130.3,844.7L1132.3,846.0L1134.3,846.7L1136.3,846.7L1138.3,846.0L1140.3,844.7L1142.3,843.3L1144.3,842.0L1146.3,840.7L1148.3,839.3L1150.0,837.8L1151.3,835.9L1152.3,833.8L1153.0,831.5L1153.2,829.2L1153.1,826.8L1152.5,824.5L1151.5,822.2L1150.3,820.1L1149.0,818.2L1147.5,816.7L1145.8,815.3L1143.8,814.7L1141.2,814.7L1138.3,815.3L1135.0,816.7L1132.0,818.0L1129.3,819.3L1127.0,820.7L1125.0,822.0Z"/>
<path fill="#e6f1f0" d="M1206.0,776.6L1199.4,776.2L1194.2,775.8L1189.2,775.5L1184.2,775.2L1179.4,775.0L1174.9,775.0L1170.7,775.2L1166.7,775.5L1163.8,776.2L1162.2,777.4L1161.7,779.0L1162.3,781.0L1164.1,782.7L1166.9,784.0L1170.8,785.0L1175.8,785.7L1181.8,786.1L1188.6,786.2L1198.5,786.1L1210.0,785.6L1210.0,776.8Z"/>
<path fill="#c9eae6" d="M1206.0,786.1L1199.4,786.5L1194.2,786.8L1189.2,787.2L1184.2,787.5L1179.4,788.0L1174.9,788.7L1170.7,789.5L1166.7,790.5L1163.0,791.7L1159.7,793.0L1156.7,794.5L1154.0,796.2L1151.6,798.0L1149.4,800.0L1147.5,802.2L1145.8,804.5L1145.0,806.9L1145.0,809.4L1145.8,812.0L1147.5,814.7L1149.2,817.2L1150.8,819.5L1152.5,821.7L1154.2,823.7L1155.8,825.7L1157.5,827.7L1159.2,829.7L1160.8,831.7L1162.7,833.7L1164.7,835.7L1166.8,837.7L1169.2,839.7L1171.6,841.5L1174.1,843.2L1176.7,844.7L1179.3,846.0L1182.2,847.1L1185.2,847.9L1188.3,848.5L1191.7,848.8L1195.5,849.3L1199.8,850.0L1206.0,851.1L1210.0,851.8L1210.0,785.8Z"/>
<path fill="#9dd9d0" d="M1198.5,790.1L1188.8,790.6L1182.5,791.1L1177.3,791.7L1173.3,792.3L1169.7,793.1L1166.3,793.9L1163.3,794.8L1160.7,795.8L1158.2,797.2L1155.8,798.8L1153.7,800.8L1151.7,803.2L1150.5,805.3L1150.2,807.3L1150.7,809.2L1152.0,810.8L1153.4,812.6L1154.9,814.4L1156.5,816.3L1158.2,818.3L1159.9,820.3L1161.8,822.3L1163.7,824.3L1165.7,826.3L1167.7,828.3L1169.7,830.3L1171.7,832.3L1173.7,834.3L1175.8,836.2L1177.9,838.1L1180.2,839.8L1182.5,841.5L1184.9,842.9L1187.4,844.1L1190.0,845.0L1192.7,845.7L1196.0,846.3L1200.0,847.0L1206.0,847.8L1210.0,848.3L1210.0,789.6Z"/>
<path fill="#70c1b6" d="M1207.5,825.9L1202.7,825.2L1200.0,824.2L1198.3,822.8L1197.7,821.2L1197.7,819.5L1198.3,817.8L1199.7,816.2L1201.7,814.5L1203.1,812.7L1203.9,810.7L1204.2,808.5L1203.8,806.2L1203.2,803.9L1202.2,801.8L1200.8,799.7L1199.2,797.7L1197.1,796.1L1194.6,795.0L1191.7,794.4L1188.3,794.2L1185.0,794.3L1181.7,794.5L1178.3,795.0L1175.0,795.7L1171.9,796.5L1169.1,797.6L1166.5,798.9L1164.2,800.4L1162.5,802.0L1161.5,803.8L1161.2,805.7L1161.5,807.7L1162.0,809.7L1162.7,811.7L1163.5,813.7L1164.5,815.7L1165.7,817.8L1167.0,819.9L1168.5,822.2L1170.2,824.5L1171.9,826.8L1173.8,828.9L1175.7,831.0L1177.7,833.0L1179.7,834.9L1181.7,836.6L1183.7,838.2L1185.7,839.8L1187.8,841.1L1190.2,842.2L1192.7,843.2L1195.3,844.1L1198.5,844.9L1202.2,845.6L1207.5,846.5L1210.0,846.9L1210.0,826.1Z"/>
<path fill="#419f97" d="M1166.4,803.5L1165.9,805.0L1166.2,806.5L1167.2,808.2L1168.2,809.6L1169.4,810.9L1170.7,811.9L1172.0,812.8L1173.4,813.3L1174.9,813.7L1176.5,813.8L1178.2,813.6L1179.6,813.0L1180.8,812.1L1181.7,810.8L1182.3,809.2L1182.7,807.5L1182.7,805.8L1182.3,804.2L1181.7,802.5L1180.7,801.2L1179.3,800.3L1177.7,799.8L1175.7,799.6L1173.7,799.8L1171.7,800.2L1169.7,801.1L1167.7,802.2Z"/>
<path fill="#1d8078" d="M1171.3,805.2L1170.7,806.1L1170.5,807.1L1170.8,808.2L1171.4,809.2L1172.2,810.1L1173.3,810.8L1174.7,811.2L1175.9,811.4L1177.1,811.1L1178.2,810.5L1179.2,809.5L1179.7,808.5L1179.7,807.4L1179.2,806.2L1178.2,805.1L1177.0,804.3L1175.7,804.0L1174.2,804.1L1172.5,804.6Z"/>
<path fill="#f6e9c7" d="M1055.3,804.6L1054.7,806.4L1054.5,808.3L1054.8,810.3L1055.6,812.2L1056.8,813.8L1058.3,815.3L1060.3,816.7L1062.3,818.0L1064.3,819.3L1066.3,820.7L1068.3,822.0L1070.5,823.2L1072.8,824.2L1075.3,825.0L1078.0,825.7L1080.7,826.5L1083.3,827.5L1086.0,828.7L1088.7,830.0L1091.3,831.3L1094.0,832.7L1096.7,834.0L1099.3,835.3L1102.0,836.3L1104.7,837.0L1107.3,837.3L1110.0,837.3L1112.3,837.0L1114.3,836.3L1116.0,835.3L1117.3,834.0L1118.2,832.7L1118.5,831.3L1118.3,830.0L1117.7,828.7L1116.8,827.9L1115.8,827.8L1114.7,828.2L1113.3,829.2L1111.8,829.8L1110.2,829.9L1108.3,829.7L1106.3,829.0L1104.3,828.1L1102.3,826.9L1100.3,825.5L1098.3,823.8L1096.3,822.1L1094.3,820.2L1092.3,818.3L1090.3,816.3L1088.5,814.5L1086.8,812.8L1085.3,811.3L1084.0,810.0L1083.2,808.5L1082.8,806.8L1083.0,805.0L1083.7,803.0L1084.5,801.1L1085.5,799.2L1086.7,797.5L1088.0,795.8L1088.3,794.4L1087.7,793.2L1086.0,792.3L1083.3,791.7L1080.8,791.3L1078.2,791.3L1075.8,791.7L1073.5,792.3L1071.2,793.2L1068.8,794.2L1066.5,795.3L1064.2,796.7L1062.0,798.1L1060.0,799.6L1058.2,801.2L1056.5,802.8Z"/>
<path fill="#e9d39d" d="M1062.2,806.4L1062.1,807.9L1062.7,809.7L1064.0,811.7L1065.5,813.4L1067.2,814.9L1069.0,816.2L1071.0,817.2L1073.2,818.2L1075.5,819.4L1078.0,820.7L1080.7,822.0L1083.3,823.3L1086.0,824.7L1088.7,826.0L1091.3,827.3L1093.7,828.2L1095.7,828.5L1097.3,828.3L1098.7,827.7L1099.2,826.8L1098.8,825.6L1097.7,824.2L1095.7,822.5L1093.7,820.8L1091.7,818.9L1089.7,817.0L1087.7,815.0L1085.7,813.0L1083.7,811.0L1081.7,809.0L1079.7,807.0L1077.6,805.4L1075.4,804.2L1073.2,803.5L1070.8,803.2L1068.7,803.2L1066.7,803.5L1064.8,804.2L1063.2,805.2Z"/>
<path fill="#f6e9c7" d="M1064.4,781.6L1064.6,782.8L1065.3,783.7L1066.7,784.3L1068.2,784.6L1069.8,784.4L1071.7,783.8L1073.7,782.8L1076.0,782.1L1078.7,781.6L1081.7,781.3L1085.0,781.3L1088.2,781.7L1091.2,782.3L1094.0,783.3L1096.7,784.7L1099.3,785.8L1102.0,786.6L1104.7,787.2L1107.3,787.5L1109.5,787.4L1111.2,786.9L1112.3,786.0L1113.0,784.7L1112.8,783.5L1111.8,782.5L1110.0,781.7L1107.3,781.0L1105.2,780.2L1103.5,779.2L1102.3,778.0L1101.7,776.7L1100.7,775.5L1099.3,774.5L1097.7,773.7L1095.7,773.0L1093.3,772.6L1090.7,772.4L1087.7,772.5L1084.3,772.8L1081.1,773.2L1077.9,773.8L1074.8,774.3L1071.8,775.0L1069.3,775.9L1067.3,777.1L1065.8,778.5L1064.8,780.2Z"/>
<path fill="#e9d39d" d="M1076.2,776.0L1075.2,776.5L1075.0,777.2L1075.7,778.1L1076.8,778.7L1078.5,779.1L1080.7,779.3L1083.3,779.3L1086.0,779.3L1088.7,779.2L1091.3,779.1L1094.0,778.9L1095.8,778.6L1096.8,778.1L1097.0,777.4L1096.3,776.6L1095.2,775.9L1093.5,775.4L1091.3,775.1L1088.7,774.9L1086.0,774.9L1083.3,775.0L1080.7,775.2L1078.0,775.5Z"/>
<path fill="#f6e9c7" d="M1202.2,856.2L1194.0,854.8L1188.0,854.2L1182.5,854.3L1177.5,855.0L1172.5,855.4L1167.5,855.6L1162.5,855.5L1157.5,855.2L1152.5,854.8L1147.5,854.5L1142.5,854.2L1137.5,853.8L1132.5,853.6L1127.5,853.4L1122.5,853.3L1117.5,853.3L1112.5,853.3L1107.5,853.3L1102.5,853.3L1097.5,853.3L1092.8,853.4L1088.2,853.6L1084.0,853.8L1080.0,854.2L1076.2,854.7L1072.5,855.3L1069.0,856.2L1065.7,857.2L1062.5,858.2L1059.5,859.4L1056.7,860.7L1054.0,862.0L1051.4,863.4L1048.9,864.9L1046.5,866.5L1044.2,868.2L1042.1,869.9L1040.2,871.8L1038.7,873.7L1037.3,875.7L1036.6,877.5L1036.4,879.2L1036.8,880.7L1037.8,882.0L1039.2,883.1L1041.1,883.9L1043.3,884.5L1046.0,884.8L1048.8,885.2L1051.8,885.5L1055.0,885.8L1058.3,886.2L1061.7,886.5L1065.0,886.8L1068.3,887.2L1071.7,887.5L1075.0,887.9L1078.3,888.4L1081.7,889.0L1085.0,889.7L1088.5,890.4L1092.2,891.2L1096.0,892.2L1100.0,893.2L1103.7,894.3L1107.0,895.7L1110.0,897.2L1112.7,898.8L1115.1,901.6L1117.2,905.5L1119.6,912.1L1121.2,918.0L1140.5,918.0L1142.9,914.4L1145.4,912.1L1148.3,910.5L1151.7,909.5L1155.0,908.4L1158.3,907.2L1161.7,906.0L1165.0,904.7L1168.3,903.2L1171.7,901.8L1175.0,900.2L1178.3,898.5L1181.7,896.8L1185.0,894.9L1188.3,893.0L1191.7,891.0L1195.5,889.2L1199.8,887.5L1206.0,885.7L1210.0,884.7L1210.0,858.1Z"/>
<path fill="#e9d39d" d="M1047.2,875.1L1047.5,876.6L1048.5,878.0L1050.2,879.3L1052.1,880.4L1054.2,881.2L1056.7,881.8L1059.3,882.2L1062.2,882.4L1065.2,882.6L1068.3,882.7L1071.7,882.7L1075.2,882.6L1078.8,882.4L1082.7,882.2L1086.7,881.8L1090.8,881.5L1094.9,881.2L1099.2,880.8L1103.5,880.5L1107.6,880.2L1111.4,879.8L1115.0,879.5L1118.3,879.2L1121.7,879.1L1125.0,879.2L1128.3,879.7L1131.7,880.3L1135.0,880.9L1138.3,881.4L1141.7,881.8L1145.0,882.2L1148.3,882.3L1151.7,882.3L1155.0,882.2L1158.3,881.8L1161.7,881.4L1165.0,880.9L1168.3,880.3L1171.7,879.7L1175.0,879.2L1178.3,879.1L1181.7,879.2L1185.0,879.5L1188.3,879.4L1191.7,878.9L1195.0,878.0L1198.3,876.7L1200.4,875.2L1201.2,873.5L1200.8,871.7L1199.2,869.7L1196.7,868.0L1193.3,866.7L1189.2,865.7L1184.2,865.0L1179.2,864.3L1174.2,863.7L1169.2,863.0L1164.2,862.3L1159.2,861.7L1154.2,861.0L1149.2,860.3L1144.2,859.7L1139.2,859.0L1134.2,858.5L1129.2,857.9L1124.2,857.4L1118.9,857.1L1113.4,856.9L1107.7,856.9L1101.7,857.1L1096.0,857.4L1090.7,857.8L1085.7,858.3L1081.0,859.0L1076.7,859.8L1072.7,860.6L1069.0,861.5L1065.7,862.5L1062.5,863.6L1059.5,864.8L1056.7,866.0L1054.0,867.3L1051.8,868.8L1049.9,870.2L1048.5,871.8L1047.5,873.5Z"/>
<path fill="#d9b76f" d="M1052.9,872.7L1053.4,874.0L1054.8,875.3L1057.2,876.7L1059.6,877.8L1062.1,878.6L1064.7,879.2L1067.3,879.5L1070.3,879.7L1073.7,879.8L1077.3,879.8L1081.3,879.6L1085.3,879.3L1089.3,879.0L1093.3,878.6L1097.3,878.1L1101.2,877.5L1104.8,877.0L1108.3,876.3L1111.7,875.7L1115.0,875.1L1118.3,874.6L1121.7,874.2L1125.0,873.8L1128.3,873.7L1131.7,873.7L1135.0,873.8L1138.3,874.2L1141.7,874.5L1145.0,874.8L1148.3,875.2L1151.7,875.5L1154.6,875.5L1157.1,875.2L1159.2,874.5L1160.8,873.5L1161.2,872.4L1160.4,871.2L1158.3,870.0L1155.0,868.7L1151.5,867.4L1147.8,866.2L1144.0,865.2L1140.0,864.2L1135.9,863.2L1131.8,862.4L1127.5,861.7L1123.2,861.0L1118.7,860.5L1114.0,860.0L1109.2,859.8L1104.2,859.6L1099.3,859.5L1094.7,859.6L1090.2,859.8L1085.8,860.2L1081.8,860.6L1077.9,861.1L1074.3,861.7L1071.0,862.3L1067.9,863.1L1065.1,864.0L1062.5,865.1L1060.2,866.2L1058.1,867.5L1056.2,868.7L1054.7,870.0L1053.3,871.3Z"/>
<path fill="#c58e3d" d="M1058.3,871.2L1058.3,872.4L1059.2,873.5L1060.8,874.5L1062.7,875.3L1064.7,876.0L1066.8,876.5L1069.2,876.8L1071.8,877.0L1074.8,877.0L1078.2,876.8L1081.8,876.5L1085.6,876.1L1089.4,875.6L1093.3,875.0L1097.3,874.3L1101.2,873.7L1104.8,873.0L1108.3,872.3L1111.7,871.7L1115.0,871.1L1118.3,870.7L1121.7,870.4L1125.0,870.2L1128.0,870.0L1130.7,869.5L1133.0,869.0L1135.0,868.3L1135.8,867.6L1135.5,866.8L1134.0,865.8L1131.3,864.8L1128.2,864.0L1124.8,863.2L1120.8,862.6L1116.5,862.1L1112.0,861.7L1107.3,861.5L1102.5,861.3L1097.5,861.3L1092.8,861.4L1088.2,861.6L1084.0,861.9L1080.0,862.3L1076.3,862.9L1073.0,863.5L1070.0,864.3L1067.3,865.3L1064.9,866.3L1062.8,867.4L1060.8,868.7L1059.2,870.0Z"/>
<path fill="#a96c1e" d="M1063.8,870.0L1064.2,871.1L1065.5,872.2L1067.8,873.2L1070.4,873.8L1073.2,874.2L1076.3,874.2L1079.7,873.8L1083.2,873.4L1086.8,872.9L1090.7,872.3L1094.7,871.7L1098.5,871.0L1102.2,870.3L1105.7,869.7L1109.0,869.0L1112.1,868.4L1114.9,867.8L1117.5,867.2L1119.8,866.8L1121.0,866.2L1121.0,865.6L1119.8,865.0L1117.5,864.3L1114.8,863.8L1111.6,863.4L1108.0,863.1L1104.0,862.9L1100.0,862.8L1096.0,862.8L1092.0,862.9L1088.0,863.1L1084.2,863.4L1080.5,863.8L1077.0,864.3L1073.7,865.0L1070.8,865.8L1068.2,866.7L1066.2,867.8L1064.5,868.9Z"/>
<path fill="#894f0a" d="M1067.9,868.9L1067.8,869.8L1068.5,870.6L1070.2,871.4L1072.2,872.0L1074.5,872.2L1077.2,872.2L1080.2,871.8L1083.2,871.4L1086.4,870.9L1089.7,870.3L1093.0,869.7L1096.2,869.0L1099.2,868.3L1102.0,867.7L1104.7,867.0L1106.2,866.4L1106.5,865.9L1105.7,865.5L1103.7,865.2L1101.3,864.9L1098.7,864.7L1095.7,864.5L1092.3,864.4L1089.0,864.5L1085.7,864.6L1082.3,864.9L1079.0,865.3L1076.0,865.9L1073.3,866.5L1071.0,867.2L1069.0,868.1Z"/>
<path fill="#663a07" d="M1074.2,869.7L1073.8,870.2L1074.2,870.7L1075.2,871.1L1076.4,871.3L1077.9,871.3L1079.7,871.1L1081.7,870.7L1083.5,870.1L1085.2,869.5L1086.7,868.8L1088.0,868.1L1088.3,867.6L1087.7,867.3L1086.0,867.2L1083.3,867.4L1080.9,867.7L1078.8,868.1L1076.8,868.6L1075.2,869.2Z"/>
<path fill="#f5f1e6" d="M1160.0,768.0H1310.0V918.0H1160.0Z"/>
<path fill="#e6f1f0" d="M1309.8,790.7L1304.8,790.8L1300.5,790.9L1295.8,791.2L1290.8,791.5L1285.8,791.9L1280.8,792.4L1275.8,793.0L1270.8,793.7L1265.8,794.2L1260.8,794.5L1255.8,794.7L1250.8,794.7L1246.2,794.2L1242.1,793.4L1238.3,792.2L1235.0,790.5L1232.1,788.7L1229.6,786.7L1227.5,784.5L1225.8,782.2L1223.8,780.1L1221.5,778.2L1218.8,776.7L1215.8,775.3L1213.1,773.5L1210.6,771.2L1208.2,768.0L1160.0,768.0L1160.0,833.7L1163.7,834.5L1167.0,835.5L1170.0,836.7L1172.7,838.0L1175.5,839.2L1178.5,840.4L1181.7,841.5L1185.0,842.5L1188.3,843.5L1191.7,844.5L1195.0,845.5L1198.3,846.5L1201.7,847.7L1205.0,849.0L1208.3,850.5L1211.7,852.2L1215.0,853.8L1218.3,855.5L1221.7,857.2L1225.0,858.8L1228.3,860.4L1231.7,861.9L1235.0,863.3L1238.3,864.7L1241.7,865.9L1245.0,867.1L1248.3,868.2L1251.7,869.2L1255.0,870.1L1258.3,870.9L1261.7,871.7L1265.0,872.3L1268.3,873.0L1271.7,873.7L1275.0,874.3L1278.3,875.0L1281.7,875.4L1285.0,875.6L1288.3,875.5L1291.7,875.2L1295.5,874.9L1299.8,874.8L1306.0,874.7L1310.0,874.7L1310.0,790.7Z"/>
<path fill="#c9eae6" d="M1306.0,801.3L1299.4,801.4L1294.2,801.6L1289.2,801.8L1284.2,802.2L1279.6,802.8L1275.4,803.6L1271.7,804.7L1268.3,806.0L1265.4,807.3L1262.9,808.7L1260.8,810.0L1259.2,811.3L1257.1,812.2L1254.6,812.8L1251.7,812.8L1248.3,812.5L1245.0,812.0L1241.7,811.3L1238.3,810.5L1235.0,809.5L1231.9,808.4L1229.1,807.2L1226.5,806.0L1224.2,804.7L1222.0,803.0L1220.0,801.0L1218.2,798.7L1216.5,796.0L1214.6,793.8L1212.4,791.9L1210.0,790.5L1207.3,789.5L1204.5,788.8L1201.5,788.5L1198.3,788.5L1195.0,788.8L1191.2,789.2L1187.1,789.5L1182.5,789.8L1177.5,790.2L1172.5,790.6L1167.5,791.1L1162.5,791.7L1160.0,792.0L1160.0,831.5L1163.5,832.1L1166.5,832.9L1169.0,834.0L1171.0,835.3L1173.2,836.6L1175.5,837.8L1178.0,838.8L1180.7,839.8L1183.4,840.8L1186.2,841.8L1189.2,842.8L1192.2,843.8L1195.2,844.8L1198.4,845.8L1201.7,846.8L1205.0,847.8L1208.3,848.9L1211.7,850.1L1215.0,851.3L1218.3,852.7L1221.7,854.0L1225.0,855.3L1228.3,856.7L1231.7,858.0L1235.0,859.2L1238.3,860.4L1241.7,861.5L1245.0,862.5L1248.1,863.6L1250.9,864.8L1253.5,866.0L1255.8,867.3L1258.2,868.4L1260.8,869.2L1263.3,869.8L1266.0,870.2L1268.8,870.6L1271.8,871.1L1275.0,871.7L1278.3,872.3L1281.7,872.8L1285.0,872.9L1288.3,872.8L1291.7,872.5L1295.5,872.3L1299.8,872.3L1306.0,872.6L1310.0,872.8L1310.0,801.3Z"/>
<path fill="#e6f1f0" d="M1294.8,817.9L1282.8,817.7L1274.2,817.8L1266.7,818.1L1260.0,818.6L1253.3,819.1L1246.7,819.6L1240.0,820.1L1233.3,820.6L1227.1,821.1L1221.2,821.7L1215.8,822.3L1210.8,823.0L1206.4,823.8L1202.6,824.6L1199.3,825.5L1196.7,826.5L1195.3,827.5L1195.3,828.4L1196.7,829.2L1199.3,830.1L1203.0,830.6L1207.7,830.9L1213.3,830.8L1220.0,830.5L1226.7,830.2L1233.3,830.0L1240.0,829.8L1246.7,829.6L1253.3,829.4L1260.0,829.2L1266.7,829.1L1273.3,828.9L1280.5,828.8L1288.2,828.6L1298.5,828.4L1310.0,828.2L1310.0,818.4Z"/>
<path fill="#9dd9d0" d="M1165.3,798.8L1164.7,800.9L1164.8,803.7L1165.8,807.0L1167.2,809.9L1168.8,812.4L1170.8,814.5L1173.2,816.2L1175.8,817.6L1178.6,818.8L1181.7,819.7L1185.0,820.3L1188.3,820.8L1191.7,820.9L1195.0,820.8L1198.3,820.5L1201.7,820.0L1205.0,819.3L1208.3,818.5L1211.7,817.5L1214.3,816.3L1216.3,815.0L1217.7,813.5L1218.3,811.8L1218.3,810.0L1217.7,808.0L1216.3,805.8L1214.3,803.5L1212.3,801.4L1210.3,799.6L1208.3,798.0L1206.3,796.7L1204.0,795.6L1201.3,794.8L1198.3,794.2L1195.0,793.8L1191.4,793.7L1187.6,793.7L1183.5,793.8L1179.2,794.2L1175.3,794.7L1172.0,795.3L1169.2,796.2L1166.8,797.2Z"/>
<path fill="#9dd9d0" d="M1291.0,830.2L1277.3,830.3L1268.0,830.4L1260.0,830.5L1253.3,830.6L1246.7,830.7L1240.0,830.8L1233.3,830.9L1226.7,831.1L1220.0,831.2L1213.3,831.4L1206.7,831.6L1200.0,831.8L1194.3,832.0L1189.7,832.5L1186.0,833.0L1183.3,833.7L1181.7,834.4L1181.0,835.2L1181.3,836.2L1182.7,837.2L1184.3,838.2L1186.3,839.2L1188.7,840.2L1191.3,841.2L1194.2,842.2L1197.2,843.2L1200.3,844.2L1203.7,845.2L1207.1,846.2L1210.6,847.2L1214.2,848.2L1217.8,849.2L1221.5,850.2L1225.2,851.4L1228.8,852.7L1232.5,854.0L1236.1,855.2L1239.6,856.4L1243.0,857.5L1246.3,858.5L1249.4,859.5L1252.2,860.5L1254.8,861.5L1257.2,862.5L1259.5,863.4L1261.8,864.2L1264.2,865.0L1266.5,865.7L1269.1,866.2L1271.9,866.8L1275.0,867.2L1278.3,867.5L1281.7,867.7L1285.0,867.7L1288.3,867.5L1291.7,867.2L1295.5,866.9L1299.8,866.8L1306.0,866.7L1310.0,866.7L1310.0,830.1Z"/>
<path fill="#70c1b6" d="M1167.6,802.1L1166.8,803.4L1166.5,804.7L1166.8,806.0L1167.5,807.3L1168.5,808.7L1169.8,810.0L1171.5,811.3L1173.4,812.4L1175.6,813.2L1178.0,813.8L1180.7,814.2L1183.1,814.1L1185.2,813.6L1187.2,812.7L1188.8,811.3L1190.2,809.8L1191.2,808.2L1191.8,806.3L1192.2,804.3L1192.1,802.5L1191.6,801.0L1190.7,799.6L1189.3,798.4L1187.5,797.6L1185.2,797.2L1182.3,797.2L1179.0,797.5L1176.0,798.0L1173.3,798.8L1171.0,799.8L1169.0,800.9Z"/>
<path fill="#70c1b6" d="M1298.5,833.9L1288.2,833.5L1280.5,833.2L1273.3,832.8L1266.7,832.5L1260.0,832.3L1253.3,832.2L1246.7,832.2L1240.0,832.4L1233.3,832.6L1226.7,832.8L1220.0,832.9L1213.3,833.1L1207.2,833.3L1201.5,833.7L1196.3,834.1L1191.7,834.6L1188.5,835.4L1186.8,836.6L1186.7,838.1L1188.0,839.9L1189.7,841.5L1191.7,842.8L1194.0,843.9L1196.7,844.8L1199.5,845.6L1202.5,846.4L1205.7,847.2L1209.0,848.1L1212.3,849.0L1215.7,849.9L1219.0,850.8L1222.3,851.8L1225.7,852.8L1229.0,853.8L1232.3,854.8L1235.7,855.8L1239.0,856.8L1242.3,857.6L1245.7,858.3L1249.0,859.0L1252.1,859.6L1254.9,860.2L1257.5,860.8L1259.8,861.2L1262.2,861.7L1264.5,862.1L1266.8,862.5L1269.2,862.8L1271.6,863.2L1274.1,863.5L1276.7,863.8L1279.3,864.2L1282.2,864.4L1285.2,864.5L1288.3,864.4L1291.7,864.2L1295.5,864.1L1299.8,864.0L1306.0,864.0L1310.0,864.0L1310.0,834.4Z"/>
<path fill="#419f97" d="M1171.4,805.2L1170.9,806.3L1171.0,807.6L1171.7,809.1L1172.6,810.2L1173.8,811.1L1175.2,811.6L1176.8,811.8L1178.2,811.5L1179.4,811.0L1180.3,810.0L1181.0,808.7L1181.2,807.4L1180.8,806.2L1180.0,805.2L1178.7,804.2L1177.2,803.6L1175.8,803.4L1174.2,803.7L1172.5,804.3Z"/>
<path fill="#419f97" d="M1201.5,836.6L1193.2,838.1L1189.2,840.1L1189.5,842.6L1190.6,844.7L1192.4,846.4L1195.0,847.7L1198.3,848.7L1202.1,849.6L1206.2,850.7L1210.8,851.8L1215.8,853.1L1220.8,854.4L1225.8,855.8L1230.8,857.3L1235.8,858.9L1240.8,860.2L1245.8,861.1L1250.8,861.6L1255.8,861.8L1260.4,861.7L1264.6,861.5L1268.3,861.0L1271.7,860.3L1274.3,859.1L1276.2,857.4L1277.4,855.1L1277.9,852.2L1277.8,849.4L1276.9,846.7L1275.4,843.9L1273.2,841.2L1270.8,838.9L1268.0,837.2L1265.0,836.1L1261.7,835.4L1254.9,835.0L1244.8,834.9L1231.2,835.1L1214.2,835.6Z"/>
<path fill="#1d8078" d="M1201.6,837.0L1194.2,838.3L1190.8,840.1L1191.2,842.3L1192.3,844.1L1194.0,845.6L1196.2,846.8L1199.1,847.5L1202.0,848.3L1205.1,849.0L1208.3,849.7L1211.7,850.3L1215.0,851.1L1218.3,851.9L1221.7,852.8L1225.0,853.8L1228.5,854.9L1232.2,856.0L1236.0,857.1L1240.0,858.2L1243.9,859.0L1247.8,859.5L1251.5,859.5L1255.2,859.2L1258.1,858.4L1260.2,857.2L1261.7,855.7L1262.3,853.7L1262.6,851.5L1262.4,849.2L1261.8,846.7L1260.8,844.0L1259.6,841.7L1258.1,839.7L1256.3,838.2L1254.3,836.9L1249.0,836.1L1240.3,835.7L1228.3,835.7L1213.0,836.1Z"/>
<path fill="#016259" d="M1193.7,837.8L1192.4,838.9L1191.9,840.4L1192.3,842.3L1193.3,843.8L1194.8,845.1L1196.8,846.2L1199.4,846.9L1202.2,847.6L1205.2,848.3L1208.3,849.0L1211.7,849.7L1215.0,850.4L1218.3,851.2L1221.7,852.1L1225.0,853.0L1228.3,853.9L1231.7,854.9L1235.0,855.9L1238.3,856.9L1241.5,857.6L1244.5,857.9L1247.3,857.9L1250.0,857.6L1252.1,856.9L1253.6,855.9L1254.6,854.7L1255.0,853.1L1255.2,851.4L1255.1,849.6L1254.9,847.7L1254.4,845.7L1253.8,843.8L1252.9,842.0L1251.8,840.3L1250.6,838.7L1248.5,837.4L1245.5,836.5L1241.7,836.0L1237.0,835.9L1231.8,835.8L1226.2,835.8L1220.0,835.9L1213.3,836.0L1207.6,836.2L1202.8,836.5L1198.8,836.8L1195.8,837.1Z"/>
<path fill="#00483d" d="M1203.2,840.6L1201.8,841.4L1201.2,842.4L1201.5,843.6L1202.3,844.6L1203.7,845.5L1205.5,846.3L1207.8,847.0L1210.4,847.6L1213.2,848.2L1216.3,848.8L1219.7,849.2L1222.8,849.6L1225.8,849.8L1228.7,849.8L1231.3,849.6L1233.5,849.0L1235.2,848.1L1236.3,846.8L1237.0,845.2L1237.0,843.7L1236.3,842.3L1235.0,841.2L1233.0,840.2L1230.5,839.4L1227.5,838.9L1224.0,838.7L1220.0,838.7L1216.2,838.8L1212.5,839.0L1209.0,839.4L1205.7,839.9Z"/>
<path fill="#003c30" d="M1205.8,843.7L1205.8,844.5L1206.8,845.2L1208.6,846.1L1210.6,846.7L1212.9,847.2L1215.3,847.5L1218.0,847.6L1220.3,847.5L1222.3,847.1L1224.0,846.6L1225.3,845.8L1226.1,845.0L1226.2,844.2L1225.8,843.3L1224.8,842.4L1223.3,841.8L1221.3,841.3L1218.8,841.2L1215.8,841.2L1213.1,841.5L1210.7,841.8L1208.6,842.3L1206.8,843.0Z"/>
<path fill="#f6e9c7" d="M1162.5,901.8L1166.8,901.2L1170.5,900.4L1173.5,899.3L1175.8,898.0L1178.4,896.8L1181.2,895.6L1184.3,894.5L1187.7,893.5L1190.8,893.0L1193.8,893.0L1196.7,893.5L1199.3,894.5L1201.8,895.7L1204.2,897.0L1206.3,898.5L1208.3,900.2L1210.6,901.3L1213.1,902.0L1215.8,902.2L1218.8,901.8L1221.5,901.2L1223.8,900.4L1225.8,899.3L1227.5,898.0L1229.2,896.5L1230.8,894.8L1232.5,893.0L1234.2,891.0L1235.8,889.1L1237.5,887.2L1239.2,885.5L1240.8,883.8L1242.9,882.8L1245.4,882.2L1248.3,882.3L1251.7,883.0L1255.4,883.7L1259.6,884.3L1264.2,885.0L1269.2,885.7L1273.7,886.1L1277.7,886.2L1281.2,886.2L1284.2,885.8L1286.3,885.3L1287.7,884.5L1288.2,883.6L1287.8,882.4L1286.5,881.3L1284.2,880.2L1280.8,879.2L1276.5,878.2L1272.0,877.2L1267.3,876.3L1262.5,875.4L1257.5,874.6L1252.9,873.8L1248.8,873.2L1245.0,872.6L1241.7,872.1L1238.3,871.5L1235.0,871.0L1231.7,870.3L1228.3,869.7L1225.0,868.9L1221.7,868.0L1218.3,866.9L1215.0,865.8L1211.7,864.5L1208.3,863.3L1205.0,862.0L1201.7,860.7L1198.1,859.5L1194.2,858.4L1190.2,857.4L1185.8,856.6L1180.8,855.8L1174.9,855.2L1168.3,854.6L1161.0,854.1L1160.0,854.6L1160.0,902.0Z"/>
<path fill="#e9d39d" d="M1161.7,869.4L1165.0,869.6L1168.3,869.8L1171.7,870.2L1175.0,870.6L1178.3,871.1L1181.7,871.7L1185.0,872.3L1188.3,873.0L1191.7,873.7L1195.0,874.3L1198.3,875.0L1201.7,875.6L1205.0,876.1L1208.3,876.5L1211.7,876.8L1215.0,877.1L1218.3,877.2L1221.7,877.3L1225.0,877.3L1228.3,877.5L1231.7,877.8L1235.0,878.3L1238.3,879.0L1242.1,879.7L1246.2,880.3L1250.8,881.0L1255.8,881.7L1260.4,882.2L1264.6,882.5L1268.3,882.7L1271.7,882.7L1273.8,882.5L1274.6,882.0L1274.2,881.4L1272.5,880.6L1270.0,879.8L1266.7,878.9L1262.5,878.1L1257.5,877.2L1252.5,876.5L1247.5,875.7L1242.5,875.0L1237.5,874.3L1232.6,873.7L1227.8,873.0L1223.0,872.3L1218.3,871.7L1213.9,870.9L1209.8,870.1L1205.8,869.2L1202.2,868.2L1198.6,867.2L1195.1,866.4L1191.7,865.7L1188.3,865.0L1185.0,864.2L1181.7,863.4L1178.3,862.5L1175.0,861.5L1171.2,860.7L1167.1,860.0L1162.5,859.5L1160.0,859.3L1160.0,869.4Z"/>
<path fill="#f6e9c7" d="M1260.7,787.3L1263.3,788.7L1266.0,788.0L1268.7,785.3L1269.0,783.3L1267.0,782.0L1264.3,782.7L1261.0,785.3Z"/>
<path fill="#e6f1f0" d="M1309.8,895.2L1305.2,895.0L1301.8,895.0L1298.3,895.2L1295.0,895.5L1291.7,896.1L1288.3,896.9L1285.0,898.0L1281.7,899.3L1279.3,900.8L1278.0,902.5L1277.7,904.3L1278.3,906.3L1279.1,908.9L1279.9,912.0L1281.1,916.6L1281.4,918.0L1310.0,918.0L1310.0,895.3Z"/>
<path fill="#e6f1f0" d="M410.0,918.0H610.0V1068.0H410.0Z"/>
<path fill="#f5f1e6" d="M606.0,949.7L599.8,947.6L595.5,945.4L591.7,942.8L588.3,939.8L585.0,937.2L581.7,935.1L578.3,933.3L575.0,932.0L570.8,931.1L565.8,930.6L560.0,930.5L553.3,930.8L547.1,931.2L541.2,931.5L535.8,931.8L530.8,932.2L525.8,932.6L520.8,933.1L515.8,933.7L510.8,934.3L506.2,934.6L502.1,934.4L498.3,933.8L495.0,932.8L492.2,931.6L489.8,930.1L488.0,928.3L486.7,926.3L485.2,924.0L483.5,921.3L481.5,918.0L438.0,918.0L438.2,919.0L439.5,923.6L441.2,926.8L443.3,929.5L446.0,931.8L448.4,934.2L450.6,936.5L452.5,938.8L454.2,941.2L455.0,943.6L455.0,946.1L454.2,948.7L452.5,951.3L451.7,953.8L451.7,955.9L452.5,957.8L454.2,959.5L456.2,961.2L458.8,962.8L461.7,964.5L465.0,966.2L468.3,967.8L471.7,969.2L475.0,970.7L478.3,972.0L481.7,973.2L485.0,974.2L488.3,975.0L491.7,975.7L495.0,976.4L498.3,977.2L501.7,978.2L505.0,979.2L507.9,980.3L510.4,981.7L512.5,983.2L514.2,984.8L516.2,986.4L518.8,987.9L521.7,989.3L525.0,990.7L528.3,991.9L531.7,993.1L535.0,994.2L538.3,995.2L541.7,996.0L545.0,996.7L548.3,997.2L551.7,997.5L555.0,997.9L558.3,998.4L561.7,999.0L565.0,999.7L568.3,1000.3L571.7,1001.0L575.0,1001.7L578.3,1002.3L581.7,1002.5L585.0,1002.2L588.3,1001.3L591.7,1000.0L595.5,999.2L599.8,998.8L606.0,999.2L610.0,999.7L610.0,950.7Z"/>
<path fill="#f5f1e6" d="M471.2,990.7L470.8,991.3L471.7,992.5L473.7,994.2L476.0,995.5L478.7,996.6L481.7,997.4L485.0,997.9L488.0,998.1L490.7,997.9L493.0,997.4L495.0,996.6L496.0,995.8L496.0,995.0L495.0,994.3L493.0,993.7L490.8,993.1L488.5,992.6L486.0,992.2L483.3,991.8L480.7,991.5L478.0,991.2L475.3,990.8L472.7,990.5Z"/>
<path fill="#f5f1e6" d="M484.4,1009.8L481.9,1011.5L480.0,1013.5L478.7,1015.8L478.5,1017.9L479.5,1019.8L481.7,1021.3L485.0,1022.7L488.8,1023.7L492.9,1024.3L497.5,1024.7L502.5,1024.7L507.5,1024.5L512.5,1024.2L517.5,1023.7L522.5,1023.0L527.1,1022.2L531.2,1021.4L535.0,1020.5L538.3,1019.5L540.2,1018.3L540.5,1017.0L539.3,1015.5L536.7,1013.8L534.3,1012.1L532.3,1010.2L530.7,1008.3L529.3,1006.3L527.7,1004.9L525.7,1004.1L523.3,1003.8L520.7,1004.2L517.4,1004.5L513.6,1004.8L509.2,1005.2L504.2,1005.5L499.5,1006.0L495.2,1006.7L491.2,1007.5L487.5,1008.5Z"/>
<path fill="#f5f1e6" d="M414.0,957.2L419.8,956.6L423.5,955.8L426.3,954.7L428.3,953.3L429.2,951.9L428.8,950.4L427.3,948.8L424.7,947.2L421.5,945.7L417.8,944.3L412.5,942.9L410.0,942.4L410.0,957.5Z"/>
<path fill="#f5f1e6" d="M415.5,986.2L422.2,986.2L426.8,985.2L430.5,983.3L433.5,980.7L434.8,978.2L434.5,976.1L432.5,974.2L428.8,972.5L424.8,971.2L420.2,970.2L414.0,969.4L410.0,969.2L410.0,985.6Z"/>
<path fill="#f5f1e6" d="M413.2,1019.9L418.0,1019.2L420.0,1018.4L420.5,1017.3L419.5,1016.0L417.8,1014.8L415.2,1013.8L411.0,1012.8L410.0,1012.7L410.0,1020.1Z"/>
<path fill="#f5f1e6" d="M591.0,1050.2L575.7,1051.1L563.0,1051.9L550.0,1052.8L536.7,1053.8L523.3,1054.8L510.0,1055.6L496.7,1056.3L483.3,1057.0L469.5,1057.6L455.2,1058.1L436.5,1058.6L410.0,1059.2L410.0,1068.0L610.0,1068.0L610.0,1049.1Z"/>
<path fill="#f5f1e6" d="M453.2,1033.5L452.8,1035.2L454.0,1036.3L456.7,1037.0L459.2,1037.1L461.8,1036.6L464.2,1035.5L466.5,1033.8L469.2,1032.3L472.2,1031.0L475.5,1029.8L479.2,1028.8L481.4,1027.7L482.2,1026.3L481.7,1024.8L479.7,1023.2L477.3,1022.2L474.7,1021.8L471.7,1022.2L468.3,1023.2L465.0,1024.6L461.7,1026.4L458.3,1028.7L455.0,1031.3Z"/>
<path fill="#f6e9c7" d="M529.2,919.9L533.1,921.8L537.5,923.0L542.5,923.7L546.8,924.0L550.5,924.0L553.5,923.7L555.8,923.0L557.4,921.8L558.2,919.9L558.2,918.0L526.9,918.0Z"/>
<path fill="#c9eae6" d="M581.7,920.0L585.0,922.0L588.3,923.5L591.7,924.5L595.5,925.4L599.8,926.2L606.0,927.2L610.0,927.7L610.0,918.0L579.1,918.0Z"/>
<path fill="#9dd9d0" d="M594.5,920.4L599.5,922.2L606.0,923.5L610.0,923.9L610.0,918.0L590.1,918.0Z"/>
<path fill="#e6f1f0" d="M610.0,918.0H810.0V1068.0H610.0Z"/>
<path fill="#f5f1e6" d="M617.8,1010.2L626.0,1011.2L632.0,1012.2L637.5,1013.3L642.5,1014.7L647.1,1015.8L651.2,1016.6L655.0,1017.2L658.3,1017.5L661.7,1017.5L665.0,1017.2L668.3,1016.5L671.7,1015.5L675.0,1014.4L678.3,1013.2L681.7,1012.0L685.0,1010.7L688.3,1009.3L691.7,1008.0L695.0,1006.7L698.3,1005.3L701.5,1004.0L704.5,1002.7L707.3,1001.3L710.0,1000.0L710.9,998.7L710.1,997.3L707.5,996.0L703.2,994.7L698.7,993.5L694.0,992.5L689.2,991.7L684.2,991.0L679.6,990.2L675.4,989.2L671.7,988.0L668.3,986.7L664.6,985.2L660.4,983.5L655.8,981.7L650.8,979.7L645.8,977.8L640.8,976.2L635.8,974.7L630.8,973.3L625.8,972.5L620.6,972.2L614.0,972.5L610.0,973.0L610.0,1009.4Z"/>
<path fill="#f5f1e6" d="M798.5,978.4L789.0,977.1L783.0,975.9L778.3,974.7L775.0,973.3L771.7,971.8L768.3,969.9L765.0,967.8L761.7,965.5L758.3,963.3L755.0,961.3L751.7,959.5L748.3,957.8L745.0,956.2L741.7,954.8L738.3,953.3L735.0,952.0L731.7,950.8L728.3,949.6L725.0,948.5L721.7,947.5L718.3,947.0L715.0,947.0L711.7,947.5L708.3,948.5L705.0,949.7L701.7,951.0L698.3,952.5L695.0,954.2L691.8,954.9L688.8,954.8L686.0,953.7L683.3,951.7L680.8,949.9L678.2,948.4L675.8,947.2L673.5,946.2L671.2,945.7L668.8,945.7L666.5,946.2L664.2,947.2L662.8,948.8L662.2,951.2L662.7,954.2L664.0,957.8L665.7,961.1L667.7,963.9L670.0,966.3L672.7,968.3L675.5,970.2L678.5,971.8L681.7,973.3L685.0,974.7L688.3,975.5L691.7,975.8L695.0,975.7L698.3,975.0L701.7,974.2L705.0,973.2L708.3,972.0L711.7,970.7L715.0,969.8L718.3,969.5L721.7,969.7L725.0,970.3L728.0,971.2L730.7,972.2L733.0,973.3L735.0,974.7L736.2,976.2L736.5,977.8L736.0,979.7L734.7,981.7L734.3,983.3L735.0,984.7L736.7,985.7L739.3,986.3L742.2,987.2L745.2,988.2L748.3,989.3L751.7,990.7L755.0,991.8L758.3,992.8L761.7,993.7L765.0,994.3L768.3,995.2L771.7,996.2L775.0,997.3L778.3,998.7L781.7,999.4L785.0,999.6L788.3,999.2L791.7,998.2L795.5,997.5L799.8,997.2L806.0,997.2L810.0,997.5L810.0,979.7Z"/>
<path fill="#f5f1e6" d="M626.0,959.2L624.7,960.4L624.3,961.8L625.0,963.5L626.2,964.9L627.8,966.1L630.0,967.0L632.7,967.7L635.2,967.8L637.5,967.2L639.7,966.2L641.7,964.5L642.7,962.9L642.7,961.4L641.7,960.0L639.7,958.7L637.3,957.8L634.7,957.5L631.7,957.7L628.3,958.3Z"/>
<path fill="#f5f1e6" d="M699.6,1010.8L698.8,1012.5L699.2,1014.3L700.8,1016.3L701.4,1018.2L700.9,1019.8L699.3,1021.3L696.7,1022.7L693.7,1024.0L690.3,1025.3L686.7,1026.7L682.7,1028.0L679.2,1029.5L676.4,1031.2L674.2,1033.0L672.5,1035.0L672.5,1037.0L674.2,1039.0L677.5,1041.0L682.5,1043.0L687.9,1044.8L693.8,1046.2L700.0,1047.5L706.7,1048.5L712.5,1049.0L717.5,1049.0L721.7,1048.5L725.0,1047.5L729.2,1046.7L734.2,1046.0L740.0,1045.5L746.7,1045.2L752.5,1044.5L757.5,1043.5L761.7,1042.2L765.0,1040.5L767.1,1038.7L767.9,1036.7L767.5,1034.5L765.8,1032.2L763.3,1030.6L760.0,1029.8L755.8,1029.7L750.8,1030.3L746.2,1030.4L742.1,1029.9L738.3,1028.8L735.0,1027.2L732.8,1025.4L731.8,1023.6L732.0,1021.7L733.3,1019.7L734.8,1017.8L736.5,1015.9L738.3,1014.2L740.3,1012.5L742.2,1010.8L744.1,1008.9L745.8,1007.0L747.5,1005.0L747.5,1003.4L745.8,1002.2L742.5,1001.5L737.5,1001.2L732.5,1001.2L727.5,1001.8L722.5,1002.7L717.5,1004.0L712.9,1005.3L708.8,1006.7L705.0,1008.0L701.7,1009.3Z"/>
<path fill="#f5f1e6" d="M798.5,1056.1L787.3,1056.2L778.0,1055.8L768.3,1055.2L758.3,1054.2L748.3,1053.5L738.3,1053.2L728.3,1053.2L718.3,1053.5L709.2,1053.6L700.8,1053.4L693.3,1053.0L686.7,1052.3L680.8,1051.2L675.8,1049.5L671.7,1047.3L668.3,1044.7L664.2,1042.3L659.2,1040.3L653.3,1038.7L646.7,1037.3L639.5,1036.5L631.8,1036.2L621.5,1036.5L610.0,1037.4L610.0,1068.0L810.0,1068.0L810.0,1055.6Z"/>
<path fill="#f5f1e6" d="M656.5,919.8L659.5,921.5L663.2,922.5L667.5,922.8L670.9,922.2L673.4,920.8L674.9,918.0L654.9,918.0Z"/>
<path fill="#c9eae6" d="M688.7,928.7L688.7,931.3L689.7,933.0L691.7,933.7L693.0,932.7L693.7,930.0L692.7,928.3L690.0,927.7Z"/>
<path fill="#c9eae6" d="M756.7,924.3L756.7,926.3L758.7,928.0L762.7,929.3L765.3,929.0L766.7,927.0L764.7,925.3L759.3,924.0Z"/>
<path fill="#e6f1f0" d="M810.0,918.0H1010.0V1068.0H810.0Z"/>
<path fill="#f5f1e6" d="M821.0,957.7L819.7,959.7L820.2,962.0L822.5,964.7L825.3,967.0L828.7,969.0L832.5,970.7L836.8,972.0L841.2,973.4L845.5,974.9L849.8,976.5L854.2,978.2L858.0,979.7L861.3,981.0L864.2,982.2L866.5,983.2L867.7,984.2L867.7,985.4L866.5,986.7L864.2,988.0L863.0,989.2L863.0,990.2L864.2,991.0L866.5,991.7L869.5,992.3L873.2,993.0L877.5,993.7L882.5,994.3L887.5,994.8L892.5,994.9L897.5,994.8L902.5,994.5L907.3,994.0L912.0,993.3L916.5,992.5L920.8,991.5L923.8,990.2L925.5,988.8L925.8,987.0L924.8,985.0L924.5,983.1L924.8,981.2L925.8,979.5L927.5,977.8L927.9,976.2L927.1,974.5L925.0,972.8L921.7,971.2L917.9,969.6L913.8,968.1L909.2,966.7L904.2,965.3L899.2,963.9L894.2,962.4L889.2,960.8L884.2,959.2L879.2,957.5L874.2,955.8L869.2,954.2L864.2,952.5L859.4,951.1L854.9,949.9L850.7,949.0L846.7,948.3L843.4,948.2L840.9,948.5L839.2,949.3L838.2,950.7L836.2,952.0L833.2,953.3L829.2,954.7L824.2,956.0Z"/>
<path fill="#f5f1e6" d="M871.2,922.8L869.5,923.8L870.0,925.5L872.7,927.8L875.5,930.1L878.5,932.2L881.7,934.3L885.0,936.3L887.9,938.4L890.4,940.6L892.5,942.8L894.2,945.2L896.2,947.1L898.8,948.6L901.7,949.7L905.0,950.3L908.3,951.2L911.7,952.4L915.0,953.8L918.3,955.5L921.7,957.2L925.0,959.1L928.3,961.0L931.7,963.0L935.0,965.0L938.3,967.0L941.7,969.0L945.0,971.0L948.3,972.9L951.7,974.8L955.0,976.5L958.3,978.2L961.8,979.2L965.2,979.8L968.8,979.7L972.5,979.0L975.2,978.1L976.8,976.9L977.5,975.5L977.2,973.8L975.7,972.1L973.0,970.2L969.2,968.3L964.2,966.3L959.6,964.2L955.4,961.8L951.7,959.3L948.3,956.7L945.4,954.2L942.9,951.8L940.8,949.7L939.2,947.7L936.7,945.8L933.3,944.2L929.2,942.7L924.2,941.3L919.6,939.8L915.4,938.2L911.7,936.3L908.3,934.3L905.0,932.3L901.7,930.3L898.3,928.3L895.0,926.3L891.0,924.8L886.3,923.6L881.0,922.8L875.0,922.5Z"/>
<path fill="#f5f1e6" d="M938.4,921.3L935.9,922.0L935.0,923.2L935.7,924.8L936.6,926.5L937.8,928.2L939.2,929.8L940.8,931.5L943.3,933.1L946.7,934.6L950.8,936.0L955.8,937.3L960.8,938.8L965.8,940.5L970.8,942.3L975.8,944.3L980.0,945.2L983.3,945.1L985.8,943.8L987.5,941.5L987.9,939.2L987.1,936.8L985.0,934.5L981.7,932.2L977.9,930.0L973.8,928.0L969.2,926.2L964.2,924.5L959.0,923.2L953.7,922.2L948.2,921.5L942.5,921.2Z"/>
<path fill="#f5f1e6" d="M999.5,921.0L1002.5,923.0L1007.5,924.5L1010.0,924.9L1010.0,918.0L997.4,918.0Z"/>
<path fill="#f5f1e6" d="M813.0,930.8L815.0,930.2L816.3,929.3L817.0,928.0L816.5,926.8L814.8,925.8L811.0,924.8L810.0,924.7L810.0,930.8Z"/>
<path fill="#f5f1e6" d="M998.5,994.2L988.2,995.2L980.5,996.2L973.3,997.3L966.7,998.7L960.0,999.9L953.3,1001.1L946.7,1002.2L940.0,1003.2L933.3,1003.8L926.7,1004.2L920.0,1004.2L913.3,1003.8L907.1,1003.9L901.2,1004.4L895.8,1005.3L890.8,1006.7L886.2,1008.1L882.1,1009.6L878.3,1011.2L875.0,1012.8L871.2,1014.3L867.1,1015.7L862.5,1016.8L857.5,1017.8L852.1,1018.8L846.2,1019.8L840.0,1020.8L833.3,1021.8L828.2,1022.9L824.5,1024.1L822.3,1025.3L821.7,1026.7L821.8,1028.0L822.6,1029.3L824.2,1030.7L826.5,1032.0L829.5,1033.2L833.2,1034.2L837.5,1035.0L842.5,1035.7L847.5,1036.2L852.5,1036.8L857.5,1037.2L862.5,1037.5L867.5,1037.6L872.5,1037.4L877.5,1037.0L882.5,1036.3L887.5,1035.6L892.5,1034.8L897.5,1033.8L902.5,1032.8L907.5,1032.2L912.5,1032.1L917.5,1032.3L922.5,1033.0L927.9,1033.6L933.8,1034.1L940.0,1034.5L946.7,1034.8L952.9,1035.2L958.8,1035.8L964.2,1036.3L969.2,1037.0L974.2,1037.8L979.2,1038.6L984.2,1039.5L989.2,1040.5L994.2,1041.3L999.4,1042.0L1006.0,1042.6L1010.0,1042.8L1010.0,993.3Z"/>
<path fill="#f5f1e6" d="M810.0,1062.0L810.0,1068.0L1010.0,1068.0L1010.0,1060.7Z"/>
<path fill="#e6f1f0" d="M1010.0,918.0H1210.0V1068.0H1010.0Z"/>
<path fill="#f5f1e6" d="M1029.2,920.5L1026.7,925.7L1026.7,929.0L1028.3,931.7L1031.7,933.7L1035.4,935.5L1039.6,937.2L1044.2,938.7L1049.2,940.0L1054.2,941.2L1059.2,942.4L1064.2,943.5L1069.2,944.5L1074.2,945.1L1079.2,945.2L1084.2,945.0L1089.2,944.3L1094.2,943.8L1099.2,943.2L1104.2,942.8L1109.2,942.5L1114.2,942.6L1119.2,943.1L1124.2,944.0L1129.2,945.3L1134.2,946.5L1139.2,947.5L1144.2,948.3L1149.2,949.0L1154.2,949.7L1159.2,950.3L1164.2,951.0L1169.2,951.7L1174.2,952.4L1179.2,953.2L1184.2,954.2L1189.2,955.2L1194.2,956.0L1199.4,956.7L1206.0,957.2L1210.0,957.5L1210.0,918.0L1031.0,918.0Z"/>
<path fill="#f5f1e6" d="M1027.9,976.8L1027.1,977.6L1028.3,978.7L1031.7,980.0L1035.4,981.5L1039.6,983.2L1044.2,985.0L1049.2,987.0L1054.2,988.8L1059.2,990.5L1064.2,992.0L1069.2,993.3L1073.8,994.2L1077.9,994.5L1081.7,994.3L1085.0,993.7L1087.7,992.8L1089.7,991.6L1091.0,990.2L1091.7,988.5L1092.7,986.9L1094.0,985.4L1095.7,984.0L1097.7,982.7L1097.8,981.4L1096.2,980.2L1092.7,979.2L1087.3,978.2L1082.3,977.5L1077.7,977.2L1073.3,977.2L1069.3,977.5L1065.1,977.6L1060.6,977.4L1055.8,977.0L1050.8,976.3L1045.8,975.9L1040.8,975.8L1035.8,975.8L1030.8,976.2Z"/>
<path fill="#f5f1e6" d="M1198.5,982.8L1188.6,980.3L1181.8,978.3L1175.8,976.3L1170.8,974.3L1165.8,972.7L1160.8,971.3L1155.8,970.3L1150.8,969.7L1146.1,969.3L1141.6,969.3L1137.3,969.7L1133.3,970.3L1130.9,971.2L1130.1,972.2L1130.8,973.3L1133.2,974.7L1135.8,975.9L1138.6,977.1L1141.7,978.2L1145.0,979.2L1148.8,980.2L1152.9,981.2L1157.5,982.2L1162.5,983.2L1167.5,984.2L1172.5,985.4L1177.5,986.7L1182.5,988.0L1188.0,989.2L1194.0,990.2L1202.2,991.2L1210.0,991.9L1210.0,985.5Z"/>
<path fill="#f5f1e6" d="M1014.0,1009.2L1020.0,1008.6L1024.0,1007.8L1027.3,1006.7L1030.0,1005.3L1032.2,1003.8L1033.8,1002.2L1035.0,1000.3L1035.7,998.3L1035.3,996.5L1034.0,994.8L1031.7,993.3L1028.3,992.0L1024.5,991.0L1020.2,990.3L1014.0,990.0L1010.0,990.0L1010.0,1009.5Z"/>
<path fill="#f5f1e6" d="M1206.0,999.9L1199.4,999.7L1194.2,999.7L1189.2,999.8L1184.2,1000.2L1179.2,1000.2L1174.2,1000.1L1169.2,999.7L1164.2,999.0L1159.2,998.2L1154.2,997.4L1149.2,996.5L1144.2,995.5L1139.6,995.0L1135.4,995.0L1131.7,995.5L1128.3,996.5L1125.0,997.6L1121.7,998.8L1118.3,1000.0L1115.0,1001.3L1111.2,1002.4L1107.1,1003.2L1102.5,1003.8L1097.5,1004.2L1092.1,1004.8L1086.2,1005.6L1080.0,1006.7L1073.3,1008.0L1067.5,1009.2L1062.5,1010.4L1058.3,1011.5L1055.0,1012.5L1052.1,1013.6L1049.6,1014.8L1047.5,1016.0L1045.8,1017.3L1045.8,1018.5L1047.5,1019.5L1050.8,1020.3L1055.8,1021.0L1060.4,1022.0L1064.6,1023.3L1068.3,1025.0L1071.7,1027.0L1072.9,1028.6L1072.1,1029.8L1069.2,1030.5L1064.2,1030.8L1059.6,1030.7L1055.4,1030.0L1051.7,1028.8L1048.3,1027.2L1044.6,1025.8L1040.4,1024.6L1035.8,1023.7L1030.8,1023.0L1025.8,1022.7L1020.6,1022.7L1014.0,1023.2L1010.0,1023.7L1010.0,1035.5L1014.0,1036.2L1021.0,1037.6L1027.0,1038.8L1033.3,1040.0L1040.0,1041.3L1046.7,1042.0L1053.3,1042.0L1060.0,1041.3L1066.7,1040.0L1073.3,1038.8L1080.0,1037.8L1086.7,1037.0L1093.3,1036.3L1100.0,1035.8L1106.7,1035.2L1113.3,1034.8L1120.0,1034.5L1126.7,1034.1L1133.3,1033.6L1140.0,1033.0L1146.7,1032.3L1153.3,1031.9L1160.0,1031.8L1166.7,1031.8L1173.3,1032.2L1180.5,1032.6L1188.2,1033.1L1198.5,1033.8L1210.0,1034.7L1210.0,1000.2Z"/>
<path fill="#f5f1e6" d="M1010.0,1063.3L1010.0,1068.0L1210.0,1068.0L1210.0,1062.0Z"/>
<path fill="#e6f1f0" d="M1210.0,918.0H1310.0V1068.0H1210.0Z"/>
<path fill="#f5f1e6" d="M1212.1,951.8L1215.0,952.3L1218.3,953.0L1221.7,953.7L1225.0,954.3L1228.3,955.0L1231.7,955.7L1235.0,956.1L1238.3,956.2L1241.7,956.2L1245.0,955.8L1247.5,954.1L1249.2,950.9L1250.0,946.3L1250.0,940.3L1249.6,934.5L1248.8,928.8L1247.1,922.0L1245.8,918.0L1210.0,918.0L1210.0,951.3Z"/>
<path fill="#f5f1e6" d="M1309.8,960.9L1305.7,958.4L1303.0,955.9L1300.8,953.0L1299.2,949.7L1297.5,946.3L1295.8,943.0L1294.2,939.7L1292.5,936.3L1290.4,933.3L1287.9,930.7L1285.0,928.3L1281.7,926.3L1278.3,925.0L1275.0,924.3L1271.7,924.3L1268.3,925.0L1266.2,926.3L1265.4,928.3L1265.8,931.0L1267.5,934.3L1269.6,937.7L1272.1,941.0L1275.0,944.3L1278.3,947.7L1281.7,950.9L1285.0,954.1L1288.3,957.2L1291.7,960.2L1295.5,962.8L1299.8,965.2L1306.0,967.6L1310.0,968.8L1310.0,961.0Z"/>
<path fill="#f5f1e6" d="M1215.8,996.0L1220.8,997.3L1225.8,998.7L1230.8,1000.0L1235.8,1001.3L1240.8,1002.8L1245.8,1004.5L1250.8,1006.3L1255.8,1008.3L1260.8,1010.2L1265.8,1011.8L1270.8,1013.3L1275.8,1014.7L1280.8,1015.8L1285.8,1016.8L1290.8,1017.7L1295.8,1018.3L1300.5,1018.9L1304.8,1019.3L1309.8,1019.6L1310.0,1019.6L1310.0,1009.8L1302.2,1008.3L1294.0,1006.5L1288.0,1004.8L1282.5,1003.0L1277.5,1001.0L1272.5,999.2L1267.5,997.5L1262.5,996.0L1257.5,994.7L1252.5,993.3L1247.5,992.0L1242.5,990.7L1237.5,989.3L1232.1,988.2L1226.2,987.2L1220.0,986.3L1213.3,985.7L1210.0,985.7L1210.0,994.3L1210.8,994.7Z"/>
<path fill="#f5f1e6" d="M1210.8,1030.8L1215.8,1030.5L1220.8,1030.4L1225.8,1030.6L1230.8,1031.0L1235.8,1031.7L1240.8,1032.5L1245.8,1033.5L1250.8,1034.7L1255.8,1036.0L1260.0,1036.4L1263.3,1035.9L1265.8,1034.5L1267.5,1032.2L1269.5,1029.8L1271.8,1027.5L1274.5,1025.2L1277.5,1022.8L1278.6,1021.1L1277.8,1019.9L1275.0,1019.3L1270.3,1019.3L1265.6,1019.1L1260.8,1018.6L1255.8,1017.8L1250.8,1016.8L1245.8,1015.8L1240.8,1014.8L1235.8,1013.8L1230.8,1012.8L1225.8,1012.0L1220.8,1011.3L1215.8,1010.8L1210.8,1010.5L1210.0,1010.7L1210.0,1030.6Z"/>
<path fill="#f5f1e6" d="M1306.0,1034.6L1299.6,1034.5L1294.8,1034.8L1290.2,1035.5L1285.8,1036.5L1282.8,1037.6L1281.2,1038.8L1280.8,1040.0L1281.8,1041.3L1283.4,1042.4L1285.6,1043.2L1288.3,1043.8L1291.7,1044.2L1295.5,1044.5L1299.8,1044.8L1306.0,1045.2L1310.0,1045.5L1310.0,1034.8Z"/>
<path fill="#f5f1e6" d="M1253.5,1062.8L1224.8,1063.9L1210.5,1065.6L1210.0,1065.9L1210.0,1068.0L1310.0,1068.0L1310.0,1062.1Z"/>
<path fill="#f6e9c7" d="M1218.7,928.2L1218.0,929.2L1218.2,930.2L1219.2,931.2L1220.3,931.9L1221.7,932.4L1223.2,932.7L1224.8,932.7L1226.3,932.2L1227.7,931.4L1228.8,930.2L1229.8,928.5L1230.2,927.2L1230.1,926.2L1229.3,925.5L1228.0,925.2L1226.4,925.2L1224.6,925.5L1222.5,926.2L1220.2,927.2Z"/>
<path fill="url(#hd)" d="M488.0,646.7L493.3,646.7L493.3,657.3L522.0,657.3L522.0,652.0L538.0,652.0L538.0,646.0L570.0,646.0L570.0,633.3L488.0,633.3ZM569.3,629.3L569.3,636.7L610.0,636.7L610.0,629.3ZM490.0,688.7L503.3,688.7L503.3,699.3L516.7,699.3L516.7,683.3L530.0,683.3L530.0,676.7L495.3,676.7L495.3,687.3L490.0,687.3ZM498.7,721.3L503.3,721.3L503.3,744.0L507.3,744.0L507.3,734.0L516.7,734.0L516.7,731.3L507.3,731.3L507.3,721.3L518.0,721.3L518.0,705.3L498.7,705.3ZM463.3,728.7L463.3,721.3L474.0,721.3L474.0,716.0L484.0,716.0L484.0,710.0L472.0,710.0L472.0,720.0L460.7,720.0L460.7,728.7ZM417.3,748.0L482.0,748.0L482.0,750.0L498.0,750.0L498.0,744.0L508.7,744.0L508.7,741.3L498.0,741.3L498.0,734.0L467.3,734.0L467.3,729.3L446.0,729.3L446.0,732.7L417.3,732.7ZM595.3,746.0L595.3,742.0L579.3,742.0L579.3,753.3L587.3,753.3L587.3,768.0L610.0,768.0L610.0,746.0ZM752.7,672.7L767.3,672.7L767.3,662.7L752.7,662.7ZM647.3,764.0L656.0,764.0L656.0,754.0L659.3,754.0L659.3,752.0L654.0,752.0L654.0,762.0L635.3,762.0L635.3,764.0L642.0,764.0L642.0,768.0L647.3,768.0ZM616.7,636.0L616.7,631.3L610.0,631.3L610.0,636.0ZM760.7,729.3L759.3,729.3L759.3,730.7L763.3,730.7L763.3,722.0L760.7,722.0ZM723.3,744.0L729.3,744.0L729.3,748.0L730.7,748.0L730.7,742.0L723.3,742.0ZM900.7,666.7L898.0,666.7L898.0,668.0L916.7,668.0L916.7,666.7L913.3,666.7L913.3,660.7L911.3,660.7L911.3,665.3L903.3,665.3L903.3,658.0L900.7,658.0ZM856.7,730.7L852.7,730.7L852.7,732.0L863.3,732.0L863.3,730.7L859.3,730.7L859.3,722.0L868.7,722.0L868.7,728.7L870.0,728.7L870.0,721.3L878.7,721.3L878.7,727.3L880.7,727.3L880.7,720.0L870.0,720.0L870.0,715.3L868.7,715.3L868.7,720.7L859.3,720.7L859.3,711.3L866.0,711.3L866.0,709.3L859.3,709.3L859.3,704.7L856.7,704.7ZM970.7,710.7L975.3,710.7L975.3,714.0L977.3,714.0L977.3,710.7L982.0,710.7L982.0,709.3L970.7,709.3ZM1103.3,704.0L1105.3,704.0L1105.3,700.0L1115.3,700.0L1115.3,706.0L1116.7,706.0L1116.7,698.7L1103.3,698.7ZM1158.0,682.0L1160.0,682.0L1160.0,678.0L1170.0,678.0L1170.0,672.0L1168.0,672.0L1168.0,676.7L1158.0,676.7ZM1180.7,699.3L1189.3,699.3L1189.3,706.7L1192.0,706.7L1192.0,699.3L1204.0,699.3L1204.0,695.3L1202.7,695.3L1202.7,698.0L1192.0,698.0L1192.0,694.0L1189.3,694.0L1189.3,698.0L1180.7,698.0ZM1158.0,740.0L1160.0,740.0L1160.0,732.7L1167.3,732.7L1167.3,740.0L1169.3,740.0L1169.3,731.3L1158.0,731.3ZM1111.3,753.3L1115.3,753.3L1115.3,762.7L1117.3,762.7L1117.3,753.3L1124.7,753.3L1124.7,752.0L1111.3,752.0ZM1125.3,646.7L1125.3,654.0L1127.3,654.0L1127.3,646.7ZM1127.3,654.0L1127.3,658.0L1130.0,658.0L1130.0,654.0ZM1104.0,658.7L1105.3,658.7L1105.3,656.0L1114.7,656.0L1114.7,658.7L1116.7,658.7L1116.7,656.0L1125.3,656.0L1125.3,654.0L1094.0,654.0L1094.0,656.0L1104.0,656.0ZM1275.3,677.3L1286.0,677.3L1286.0,681.3L1288.0,681.3L1288.0,677.3L1295.3,677.3L1295.3,676.0L1288.0,676.0L1288.0,671.3L1286.0,671.3L1286.0,676.0L1275.3,676.0ZM1244.0,742.7L1254.0,742.7L1254.0,750.0L1244.0,750.0L1244.0,751.3L1255.3,751.3L1255.3,742.7L1265.3,742.7L1265.3,741.3L1244.0,741.3ZM482.7,790.7L484.7,790.7L484.7,786.0L488.0,786.0L488.0,796.7L492.7,796.7L492.7,804.0L503.3,804.0L503.3,800.7L514.0,800.7L514.0,794.0L495.3,794.0L495.3,784.0L482.7,784.0ZM526.0,796.7L535.3,796.7L535.3,800.7L548.7,800.7L548.7,796.7L557.3,796.7L557.3,794.0L549.3,794.0L549.3,786.0L554.0,786.0L554.0,784.0L547.3,784.0L547.3,794.0L526.0,794.0ZM418.0,844.7L418.0,842.7L431.3,842.7L431.3,839.3L442.0,839.3L442.0,837.3L452.7,837.3L452.7,834.7L463.3,834.7L463.3,832.0L474.0,832.0L474.0,828.7L463.3,828.7L463.3,829.3L450.0,829.3L450.0,832.0L439.3,832.0L439.3,834.7L410.0,834.7L410.0,844.7ZM439.3,880.0L448.7,880.0L448.7,882.7L467.3,882.7L467.3,878.7L474.0,878.7L474.0,871.3L479.3,871.3L479.3,869.3L466.0,869.3L466.0,863.3L455.3,863.3L455.3,869.3L444.7,869.3L444.7,872.0L439.3,872.0ZM482.7,880.0L484.7,880.0L484.7,872.0L482.7,872.0ZM490.0,882.7L503.3,882.7L503.3,884.7L514.0,884.7L514.0,882.7L524.7,882.7L524.7,880.0L516.7,880.0L516.7,876.7L500.7,876.7L500.7,878.7L495.3,878.7L495.3,874.7L490.0,874.7ZM436.7,904.0L450.0,904.0L450.0,913.3L463.3,913.3L463.3,908.0L474.0,908.0L474.0,904.0L478.0,904.0L478.0,900.0L442.0,900.0L442.0,896.0L436.7,896.0ZM538.0,912.0L527.3,912.0L527.3,902.7L524.7,902.7L524.7,900.0L496.7,900.0L496.7,896.0L492.7,896.0L492.7,900.0L488.0,900.0L488.0,904.0L503.3,904.0L503.3,910.7L514.0,910.7L514.0,918.0L538.0,918.0ZM584.7,858.7L584.7,861.3L588.7,861.3L588.7,869.3L610.0,869.3L610.0,858.7ZM591.3,910.7L576.7,910.7L576.7,918.0L591.3,918.0ZM422.0,861.3L422.0,858.0L410.0,858.0L410.0,861.3ZM623.3,796.0L623.3,776.0L646.0,776.0L646.0,770.7L610.0,770.7L610.0,796.0ZM667.3,785.3L676.0,785.3L676.0,788.7L678.0,788.7L678.0,785.3L688.7,785.3L688.7,788.7L690.0,788.7L690.0,785.3L699.3,785.3L699.3,776.0L696.7,776.0L696.7,784.0L667.3,784.0ZM703.3,775.3L707.3,775.3L707.3,778.7L709.3,778.7L709.3,775.3L727.3,775.3L727.3,773.3L720.7,773.3L720.7,769.3L718.0,769.3L718.0,773.3L703.3,773.3ZM643.3,829.3L654.0,829.3L654.0,832.0L666.0,832.0L666.0,838.7L679.3,838.7L679.3,828.0L684.7,828.0L684.7,826.7L679.3,826.7L679.3,821.3L666.0,821.3L666.0,824.0L654.0,824.0L654.0,826.7L646.0,826.7L646.0,820.7L643.3,820.7ZM636.7,866.0L636.7,861.3L646.0,861.3L646.0,858.7L610.0,858.7L610.0,866.0ZM760.7,860.0L760.7,869.3L755.3,869.3L755.3,872.0L766.0,872.0L766.0,882.7L770.0,882.7L770.0,889.3L796.7,889.3L796.7,882.7L810.0,882.7L810.0,860.0ZM792.7,817.3L792.7,822.7L795.3,822.7L795.3,818.7L804.0,818.7L804.0,822.7L810.0,822.7L810.0,817.3ZM878.0,870.7L878.0,881.3L890.0,881.3L890.0,870.7L884.7,870.7L884.7,860.0L880.7,860.0L880.7,849.3L890.0,849.3L890.0,848.0L880.7,848.0L880.7,838.7L868.7,838.7L868.7,848.0L858.0,848.0L858.0,849.3L847.3,849.3L847.3,854.7L836.7,854.7L836.7,858.7L815.3,858.7L815.3,860.0L810.0,860.0L810.0,870.7ZM868.7,804.0L870.0,804.0L870.0,796.7L879.3,796.7L879.3,795.3L868.7,795.3ZM879.3,796.7L879.3,806.0L880.7,806.0L880.7,796.7ZM891.3,798.7L891.3,806.0L880.7,806.0L880.7,808.0L892.7,808.0L892.7,798.7ZM900.7,861.3L907.3,861.3L907.3,871.3L911.3,871.3L911.3,880.0L900.7,880.0L900.7,882.0L914.0,882.0L914.0,878.7L924.7,878.7L924.7,872.0L933.3,872.0L933.3,870.0L912.7,870.0L912.7,861.3L916.7,861.3L916.7,859.3L900.7,859.3ZM922.7,836.7L915.3,836.7L915.3,838.0L924.7,838.0L924.7,829.3L934.0,829.3L934.0,834.7L935.3,834.7L935.3,827.3L922.0,827.3ZM815.3,818.0L815.3,821.3L827.3,821.3L827.3,818.0L834.0,818.0L834.0,815.3L810.0,815.3L810.0,818.0ZM999.3,860.0L999.3,861.3L1007.3,861.3L1007.3,870.0L999.3,870.0L999.3,871.3L1010.0,871.3L1010.0,860.0ZM1087.3,858.7L1087.3,860.0L1063.3,860.0L1063.3,870.7L1058.0,870.7L1058.0,873.3L1064.7,873.3L1064.7,881.3L1082.0,881.3L1082.0,892.0L1103.3,892.0L1103.3,902.7L1114.0,902.7L1114.0,912.7L1132.7,912.7L1132.7,918.0L1210.0,918.0L1210.0,858.7ZM1061.3,818.0L1083.3,818.0L1083.3,829.3L1103.3,829.3L1103.3,828.0L1096.7,828.0L1096.7,821.3L1095.3,821.3L1095.3,826.7L1084.7,826.7L1084.7,816.7L1075.3,816.7L1075.3,810.7L1074.0,810.7L1074.0,815.3L1063.3,815.3L1063.3,810.7L1061.3,810.7ZM1020.7,870.0L1020.7,859.3L1010.0,859.3L1010.0,870.0ZM1037.3,818.0L1040.0,818.0L1040.0,822.7L1041.3,822.7L1041.3,818.0L1042.7,818.0L1042.7,816.7L1037.3,816.7ZM1188.7,834.0L1188.7,850.0L1254.7,850.0L1254.7,864.0L1310.0,864.0L1310.0,834.0ZM1168.7,806.7L1181.3,806.7L1181.3,796.7L1190.0,796.7L1190.0,794.0L1168.7,794.0ZM1168.7,835.3L1184.7,835.3L1184.7,826.7L1181.3,826.7L1181.3,819.3L1170.7,819.3L1170.7,806.7L1168.7,806.7ZM1202.0,912.0L1190.0,912.0L1190.0,888.0L1202.0,888.0L1202.0,882.7L1211.3,882.7L1211.3,874.7L1223.3,874.7L1223.3,882.7L1232.8,882.7L1232.8,885.3L1277.9,886.3L1277.9,883.6L1288.3,883.6L1288.3,881.1L1277.1,881.1L1277.1,877.6L1265.7,877.6L1265.7,875.9L1255.3,875.9L1255.3,870.3L1211.3,870.3L1211.3,860.0L1192.7,860.0L1192.7,853.3L1160.0,853.3L1160.0,918.0L1202.0,918.0ZM1206.7,786.7L1218.0,786.7L1218.0,780.0L1206.7,780.0ZM1303.3,911.3L1292.7,911.3L1292.7,918.0L1303.3,918.0ZM512.7,946.7L514.7,946.7L514.7,950.0L516.7,950.0L516.7,946.7L524.7,946.7L524.7,945.3L516.7,945.3L516.7,943.3L512.7,943.3ZM568.7,954.0L570.0,954.0L570.0,948.0L568.7,948.0ZM575.3,957.3L578.7,957.3L578.7,959.3L580.7,959.3L580.7,957.3L592.0,957.3L592.0,959.3L593.3,959.3L593.3,953.3L592.7,953.3L592.7,956.0L580.7,956.0L580.7,949.3L578.7,949.3L578.7,956.0L575.3,956.0ZM546.7,988.7L553.3,988.7L553.3,987.3L548.7,987.3L548.7,981.3L546.7,981.3ZM561.3,1010.0L568.7,1010.0L568.7,1012.7L570.0,1012.7L570.0,1010.0L580.7,1010.0L580.7,1008.7L570.0,1008.7L570.0,1006.0L568.7,1006.0L568.7,1008.7L561.3,1008.7ZM676.7,923.3L671.3,923.3L671.3,925.3L676.7,925.3L676.7,931.3L678.7,931.3L678.7,925.3L686.7,925.3L686.7,938.0L688.7,938.0L688.7,935.3L695.3,935.3L695.3,934.0L688.7,934.0L688.7,925.3L692.7,925.3L692.7,923.3L678.7,923.3L678.7,918.0L676.7,918.0ZM692.0,948.0L699.3,948.0L699.3,938.0L697.3,938.0L697.3,945.3L692.0,945.3ZM712.7,957.3L718.7,957.3L718.7,962.0L720.7,962.0L720.7,957.3L729.3,957.3L729.3,960.7L730.7,960.7L730.7,956.0L720.7,956.0L720.7,954.0L718.7,954.0L718.7,956.0L712.7,956.0ZM740.0,925.3L761.3,925.3L761.3,930.7L763.3,930.7L763.3,924.0L752.7,924.0L752.7,922.0L751.3,922.0L751.3,923.3L742.0,923.3L742.0,918.0L740.0,918.0ZM791.3,936.0L804.0,936.0L804.0,942.7L806.0,942.7L806.0,934.0L796.7,934.0L796.7,930.0L795.3,930.0L795.3,934.0L791.3,934.0ZM765.3,957.3L782.7,957.3L782.7,959.3L784.7,959.3L784.7,957.3L792.0,957.3L792.0,956.0L765.3,956.0ZM796.0,1031.3L796.0,1027.3L793.3,1027.3L793.3,1038.0L796.0,1038.0L796.0,1032.7L806.7,1032.7L806.7,1043.3L804.7,1043.3L804.7,1051.3L795.3,1051.3L795.3,1043.3L793.3,1043.3L793.3,1052.7L810.0,1052.7L810.0,1031.3ZM954.7,1031.3L988.7,1031.3L988.7,1021.3L995.3,1021.3L995.3,1020.0L988.7,1020.0L988.7,1016.7L967.3,1016.7L967.3,1014.0L954.7,1014.0ZM932.7,1032.0L954.7,1032.0L954.7,1030.7L932.7,1030.7ZM850.0,1052.7L850.0,1044.7L810.0,1044.7L810.0,1052.7ZM956.7,1050.0L956.7,1046.7L907.3,1046.7L907.3,1056.0L1010.0,1056.0L1010.0,1050.0ZM885.3,968.0L890.0,968.0L890.0,970.0L892.0,970.0L892.0,968.0L896.7,968.0L896.7,966.7L885.3,966.7ZM965.3,988.7L975.3,988.7L975.3,991.3L977.3,991.3L977.3,988.7L982.7,988.7L982.7,987.3L977.3,987.3L977.3,984.7L975.3,984.7L975.3,986.0L965.3,986.0ZM1136.7,923.3L1127.3,923.3L1127.3,934.0L1116.7,934.0L1116.7,926.0L1120.7,926.0L1120.7,924.0L1104.7,924.0L1104.7,925.3L1115.3,925.3L1115.3,935.3L1126.0,935.3L1126.0,939.3L1136.7,939.3L1136.7,944.7L1159.3,944.7L1159.3,939.3L1170.0,939.3L1170.0,944.7L1179.3,944.7L1179.3,950.0L1210.0,950.0L1210.0,918.0L1136.7,918.0ZM1169.3,1020.0L1169.3,1028.7L1180.7,1028.7L1180.7,1024.7L1202.0,1024.7L1202.0,1026.0L1210.0,1026.0L1210.0,1020.0ZM1135.3,1048.7L1147.3,1048.7L1147.3,1051.3L1170.0,1051.3L1170.0,1048.7L1182.0,1048.7L1182.0,1043.3L1195.3,1043.3L1195.3,1040.7L1191.3,1040.7L1191.3,1042.0L1135.3,1042.0ZM1028.7,954.0L1031.3,954.0L1031.3,946.0L1028.7,946.0ZM1040.0,954.7L1042.0,954.7L1042.0,948.0L1040.0,948.0ZM1050.7,954.7L1052.7,954.7L1052.7,949.3L1050.7,949.3ZM1237.3,988.7L1254.0,988.7L1254.0,995.3L1255.3,995.3L1255.3,989.3L1266.0,989.3L1266.0,998.0L1263.3,998.0L1263.3,999.3L1268.0,999.3L1268.0,986.7L1244.7,986.7L1244.7,984.7L1237.3,984.7ZM1212.7,950.0L1212.7,918.0L1210.0,918.0L1210.0,950.0ZM1222.0,1021.3L1222.0,1024.7L1223.3,1024.7L1223.3,1020.0L1210.0,1020.0L1210.0,1021.3Z"/>
<use href="#coast" y="564.6" fill="none" stroke="#000" stroke-width="3.1" stroke-linejoin="round" stroke-linecap="round"/>
<use href="#china" y="564.6" fill="none" stroke="#000" stroke-width="3.6" stroke-linejoin="round" stroke-linecap="round"/>
</g>
<rect x="459.8" y="204.9" width="101.59999999999997" height="77.49999999999997" fill="#fff" stroke="#000" stroke-width="2.8"/>
<text class="bx" x="510.6" y="237.3">NA:</text>
<text class="bx" x="510.6" y="268.2">0.15</text>
<rect x="863.7" y="204.9" width="101.29999999999995" height="77.6" fill="#fff" stroke="#000" stroke-width="2.8"/>
<text class="bx" x="914.35" y="237.3">EU:</text>
<text class="bx" x="914.35" y="268.2">0.14</text>
<rect x="1180.3" y="204.9" width="100.70000000000005" height="77.49999999999997" fill="#fff" stroke="#000" stroke-width="2.8"/>
<text class="bx" x="1230.65" y="237.3">CN:</text>
<text class="bx" x="1230.65" y="268.2">0.20</text>
<g clip-path="url(#ca)">
<path fill="#d4e0ed" d="M156.9,56.1L176.3,68.4L174.3,80.7L174.3,88.9L181.4,99.1L193.7,105.3L208,115.5L224.4,123.7L238.7,129.8L244.9,138L243.8,152.3L234.6,164.6L231.6,172.8L229.5,187.1L227.5,197.3L225.4,207.6L227.5,215.8L220.3,226L212.1,234.2L209.1,244.4L205,256.7L202.9,266.9L208,266.9L212.1,250.5L218.3,240.3L226.5,230.1L236.7,219.8L244.9,211.7L254.1,201.4L257.1,189.2L261.2,174.8L264.3,164.6L261.2,156.4L261.2,148.2L265.3,138L275.6,131.9L289.9,123.7L304.2,117.5L318.5,111.4L318.5,56.1Z"/>
<path fill="#d4e0ed" d="M203.9,283.2L199.8,301.6L187.6,320L182.5,328.2L179.4,322.1L185.5,305.7L193.7,293.4Z"/>
<path fill="#d4e0ed" d="M180.4,340.5L171.2,352.8L164,363L161,373.2L163,385.5L167.1,397.8L169.2,410.1L167.1,422.3L165.1,430.5L163,438.7L152.8,444.8L138.5,450L135.4,454.1L138.5,463.3L137.4,471.5L141.5,476.6L137.4,481.7L146.6,489.9L142.6,496L156.9,501.1L228.5,501.1L233.6,491.9L234.6,483.7L246.9,477.6L247.9,467.4L231.6,460.2L229.5,453L214.2,446.9L193.7,440.8L180.4,436.7L176.3,430.5L175.3,422.3L176.3,410.1L176.3,397.8L177.3,385.5L179.4,373.2L183.5,365L188.6,354.8L186.5,342.5Z"/>
<line x1="178.3" x2="178.3" y1="56.0" y2="501.1" stroke="#000" stroke-width="2.3"/>
<path fill="none" stroke="#000" stroke-width="3.6" stroke-linejoin="round" stroke-linecap="round" d="M289.9,56.1L297.1,65.3L293,71.5L281.7,78.6L273.5,88.9L267.4,96L263.3,99.1L265.3,103.2L263.3,111.4L259.2,117.5L255.1,121.6L258.2,130.8L254.1,142.1L251,158.5L246.9,172.8L242.8,187.1L242.8,193.2L240.8,201.4L236.7,209.6L233.6,215.8L226.5,225L218.3,232.1L212.1,244.4L206,256.7L203.9,266.9L206,274.1L207,275L203.9,285.2L195.8,297.5L187.6,309.8L181.4,320L180.4,328.2L182.5,336.4L180.4,344.6L178.4,352.8L173.2,363L170.2,373.2L170.2,385.5L171.2,397.8L172.2,410.1L170.2,420.3L169.2,428.5L172.2,435.6L178.4,440.8L181.4,448.9L183.5,457.1L189.6,463.3L194.7,468.4L192.7,473.5L194.7,477.6L188.6,482.7L190.6,489.9L186.5,496L191.7,498.5L197.8,500.1"/>
</g>
<g clip-path="url(#cc)">
<path fill="#d4e0ed" d="M180.4,622.2L173.2,635.5L174.3,655.9L177.3,672.3L185.5,672.3L189.6,653.9L189.6,635.5L187.6,622.2Z"/>
<path fill="#d4e0ed" d="M182.5,713.2L185.5,709.1L191.7,727.6L193.7,746L191.7,756.2L187.6,758.2L186.5,737.8L183.5,725.5Z"/>
<path fill="#d4e0ed" d="M191.7,797.1L201.9,795.1L206,802.2L197.8,811.5L191.7,807.4Z"/>
<path fill="#d4e0ed" d="M167.1,825.8L185.5,819.6L214.2,824.8L230.5,830.9L220.3,836L214.2,845L197.8,845L206,836L193.7,829.9L177.3,828.8Z"/>
<path fill="#d4e0ed" d="M128.2,867.6L140.5,862.5L152.8,859.4L185.5,850.2L214.2,844.1L216.2,840L206,840L201.9,847.2L173.2,856.4L156.9,862.5L150.7,867.6L161,872.7L167.1,878.9L163,880.9L152.8,875.8L136.4,871.7Z"/>
<path fill="#d4e0ed" d="M171.2,923.9L178.4,917.8L186.5,929L180.4,936.2L174.3,934.1Z"/>
<path fill="#d4e0ed" d="M176.3,958.7L183.5,962.8L182.5,981.2L176.3,981.2L175.3,971Z"/>
<path fill="#d4e0ed" d="M171.2,1009.8L176.3,1001.7L178.4,1013.9L174.3,1016Z"/>
<line x1="178.3" x2="178.3" y1="620.6" y2="1065.7" stroke="#000" stroke-width="2.3"/>
<path fill="none" stroke="#000" stroke-width="3.6" stroke-linejoin="round" stroke-linecap="round" d="M184.5,622.2L182.5,639.6L181.4,655.9L181.8,672.3L182.5,684.6L186.5,691.7L186.5,703L187.6,717.3L188.6,729.6L191.7,737.8L191.7,750.1L186.5,758.2L181.4,764.4L176.3,770.5L172.2,775.6L174.3,781.8L180.4,787.9L191.7,794.1L198.8,799.2L198.8,804.3L192.7,809.4L187.6,813.5L188.6,819.6L195.8,826.8L206,831.9L214.2,836L213.2,840.1L214.2,840L206,845.1L189.6,850.2L173.2,855.3L156.9,859.4L141.5,863.5L138.5,868.6L148.7,872.7L161,877.9L164,884L164,895.3L165.1,905.5L173.2,913.7L178.4,919.8L179.4,930L178.4,942.3L178.4,954.6L180.4,964.8L179,979.2L179.4,995.5L176.3,1003.7L175.3,1011.9L178.4,1020.1L179.4,1034.4L179.8,1050.8L177.7,1064.1"/>
</g>
<rect x="37.5" y="56.0" width="282.1" height="445.1" fill="none" stroke="#000" stroke-width="2.5"/>
<rect x="414.4" y="56.0" width="889.8000000000001" height="445.1" fill="none" stroke="#000" stroke-width="2.5"/>
<text class="t" text-anchor="middle" x="37.5" y="541.1">−0.3</text>
<text class="t" text-anchor="middle" x="178.6" y="541.1">0.0</text>
<text class="t" text-anchor="middle" x="319.6" y="541.1">0.3</text>
<text class="t" text-anchor="middle" x="463.8" y="541.1">160°W</text>
<text class="t" text-anchor="middle" x="661.6" y="541.1">80°W</text>
<text class="t" text-anchor="middle" x="859.3" y="541.1">0°</text>
<text class="t" text-anchor="middle" x="1057" y="541.1">80°E</text>
<text class="t" text-anchor="middle" x="1254.8" y="541.1">160°E</text>
<text class="t" text-anchor="start" x="337.6" y="66.7">90°N</text>
<text class="t" text-anchor="start" x="337.6" y="178">45°N</text>
<text class="t" text-anchor="start" x="337.6" y="289.2">0°</text>
<text class="t" text-anchor="start" x="337.6" y="400.5">45°S</text>
<text class="t" text-anchor="start" x="337.6" y="511.8">90°S</text>
<rect x="37.5" y="620.6" width="282.1" height="445.1" fill="none" stroke="#000" stroke-width="2.5"/>
<rect x="414.4" y="620.6" width="889.8000000000001" height="445.1" fill="none" stroke="#000" stroke-width="2.5"/>
<text class="t" text-anchor="middle" x="37.5" y="1105.7">−0.3</text>
<text class="t" text-anchor="middle" x="178.6" y="1105.7">0.0</text>
<text class="t" text-anchor="middle" x="319.6" y="1105.7">0.3</text>
<text class="t" text-anchor="middle" x="463.8" y="1105.7">160°W</text>
<text class="t" text-anchor="middle" x="661.6" y="1105.7">80°W</text>
<text class="t" text-anchor="middle" x="859.3" y="1105.7">0°</text>
<text class="t" text-anchor="middle" x="1057" y="1105.7">80°E</text>
<text class="t" text-anchor="middle" x="1254.8" y="1105.7">160°E</text>
<text class="t" text-anchor="start" x="337.6" y="631.3">90°N</text>
<text class="t" text-anchor="start" x="337.6" y="742.6">45°N</text>
<text class="t" text-anchor="start" x="337.6" y="853.9">0°</text>
<text class="t" text-anchor="start" x="337.6" y="965.1">45°S</text>
<text class="t" text-anchor="start" x="337.6" y="1076.4">90°S</text>
<path d="M1358.3,76.8L1375.4,54.8L1392.5,76.8Z" fill="#ffb3b3"/>
<path d="M1358.3,479.6L1375.4,501.6L1392.5,479.6Z" fill="#7a29ee"/>
<rect x="1358.3" y="76.3" width="34.200000000000045" height="34" fill="#e45555"/>
<rect x="1358.3" y="109.9" width="34.200000000000045" height="34" fill="#e00000"/>
<rect x="1358.3" y="143.6" width="34.200000000000045" height="34" fill="#ff3300"/>
<rect x="1358.3" y="177.2" width="34.200000000000045" height="34" fill="#ff8c00"/>
<rect x="1358.3" y="210.9" width="34.200000000000045" height="34" fill="#ffc81e"/>
<rect x="1358.3" y="244.6" width="34.200000000000045" height="34" fill="#fff580"/>
<rect x="1358.3" y="278.2" width="34.200000000000045" height="34" fill="#addcf3"/>
<rect x="1358.3" y="311.8" width="34.200000000000045" height="34" fill="#4fc3f7"/>
<rect x="1358.3" y="345.5" width="34.200000000000045" height="34" fill="#12a9f9"/>
<rect x="1358.3" y="379.1" width="34.200000000000045" height="34" fill="#2f7be9"/>
<rect x="1358.3" y="412.8" width="34.200000000000045" height="34" fill="#1f3de9"/>
<rect x="1358.3" y="446.4" width="34.200000000000045" height="34" fill="#4a14f2"/>
<path d="M1358.3,76.3L1375.4,54.8L1392.5,76.3L1392.5,480.1L1375.4,501.6L1358.3,480.1Z" fill="none" stroke="#000" stroke-width="2.5" stroke-linejoin="miter"/>
<text class="t" text-anchor="start" x="1410.6" y="87.1">0.6</text>
<text class="t" text-anchor="start" x="1410.6" y="120.7">0.5</text>
<text class="t" text-anchor="start" x="1410.6" y="154.4">0.4</text>
<text class="t" text-anchor="start" x="1410.6" y="188.1">0.3</text>
<text class="t" text-anchor="start" x="1410.6" y="221.7">0.2</text>
<text class="t" text-anchor="start" x="1410.6" y="255.4">0.1</text>
<text class="t" text-anchor="start" x="1410.6" y="289">0.0</text>
<text class="t" text-anchor="start" x="1410.6" y="322.6">−0.1</text>
<text class="t" text-anchor="start" x="1410.6" y="356.3">−0.2</text>
<text class="t" text-anchor="start" x="1410.6" y="390">−0.3</text>
<text class="t" text-anchor="start" x="1410.6" y="423.6">−0.4</text>
<text class="t" text-anchor="start" x="1410.6" y="457.3">−0.5</text>
<text class="t" text-anchor="start" x="1410.6" y="490.9">−0.6</text>
<path d="M1358.3,641.2L1375.4,619.2L1392.5,641.2Z" fill="#003c30"/>
<path d="M1358.3,1044.1L1375.4,1066.1L1392.5,1044.1Z" fill="#543005"/>
<rect x="1358.3" y="640.7" width="34.200000000000045" height="25.6" fill="#00483d"/>
<rect x="1358.3" y="665.9" width="34.200000000000045" height="25.6" fill="#016259"/>
<rect x="1358.3" y="691.2" width="34.200000000000045" height="25.6" fill="#1d8078"/>
<rect x="1358.3" y="716.4" width="34.200000000000045" height="25.6" fill="#419f97"/>
<rect x="1358.3" y="741.7" width="34.200000000000045" height="25.6" fill="#70c1b6"/>
<rect x="1358.3" y="766.9" width="34.200000000000045" height="25.6" fill="#9dd9d0"/>
<rect x="1358.3" y="792.2" width="34.200000000000045" height="25.6" fill="#c9eae6"/>
<rect x="1358.3" y="817.4" width="34.200000000000045" height="25.6" fill="#e6f1f0"/>
<rect x="1358.3" y="842.6" width="34.200000000000045" height="25.6" fill="#f5f1e6"/>
<rect x="1358.3" y="867.9" width="34.200000000000045" height="25.6" fill="#f6e9c7"/>
<rect x="1358.3" y="893.1" width="34.200000000000045" height="25.6" fill="#e9d39d"/>
<rect x="1358.3" y="918.4" width="34.200000000000045" height="25.6" fill="#d9b76f"/>
<rect x="1358.3" y="943.6" width="34.200000000000045" height="25.6" fill="#c58e3d"/>
<rect x="1358.3" y="968.9" width="34.200000000000045" height="25.6" fill="#a96c1e"/>
<rect x="1358.3" y="994.1" width="34.200000000000045" height="25.6" fill="#894f0a"/>
<rect x="1358.3" y="1019.4" width="34.200000000000045" height="25.6" fill="#663a07"/>
<path d="M1358.3,640.7L1375.4,619.2L1392.5,640.7L1392.5,1044.6L1375.4,1066.1L1358.3,1044.6Z" fill="none" stroke="#000" stroke-width="2.5" stroke-linejoin="miter"/>
<text class="t" text-anchor="start" x="1410.6" y="651.5">0.6</text>
<text class="t" text-anchor="start" x="1410.6" y="685.2">0.5</text>
<text class="t" text-anchor="start" x="1410.6" y="718.8">0.4</text>
<text class="t" text-anchor="start" x="1410.6" y="752.5">0.3</text>
<text class="t" text-anchor="start" x="1410.6" y="786.1">0.2</text>
<text class="t" text-anchor="start" x="1410.6" y="819.8">0.1</text>
<text class="t" text-anchor="start" x="1410.6" y="853.4">0.0</text>
<text class="t" text-anchor="start" x="1410.6" y="887.1">−0.1</text>
<text class="t" text-anchor="start" x="1410.6" y="920.8">−0.2</text>
<text class="t" text-anchor="start" x="1410.6" y="954.4">−0.3</text>
<text class="t" text-anchor="start" x="1410.6" y="988.1">−0.4</text>
<text class="t" text-anchor="start" x="1410.6" y="1021.7">−0.5</text>
<text class="t" text-anchor="start" x="1410.6" y="1055.4">−0.6</text>
<path d="M37.5,502.4V510.4M178.6,502.4V510.4M319.6,502.4V510.4M463.8,502.4V510.4M661.6,502.4V510.4M859.3,502.4V510.4M1057,502.4V510.4M1254.8,502.4V510.4M320.9,56H328.9M405.1,56H413.1M320.9,167.3H328.9M405.1,167.3H413.1M320.9,278.6H328.9M405.1,278.6H413.1M320.9,389.8H328.9M405.1,389.8H413.1M320.9,501.1H328.9M405.1,501.1H413.1M37.5,1067V1075M178.6,1067V1075M319.6,1067V1075M463.8,1067V1075M661.6,1067V1075M859.3,1067V1075M1057,1067V1075M1254.8,1067V1075M320.9,620.6H328.9M405.1,620.6H413.1M320.9,731.9H328.9M405.1,731.9H413.1M320.9,843.2H328.9M405.1,843.2H413.1M320.9,954.4H328.9M405.1,954.4H413.1M320.9,1065.7H328.9M405.1,1065.7H413.1M1393.8,76.3H1401.8M1393.8,109.9H1401.8M1393.8,143.6H1401.8M1393.8,177.2H1401.8M1393.8,210.9H1401.8M1393.8,244.6H1401.8M1393.8,278.2H1401.8M1393.8,311.8H1401.8M1393.8,345.5H1401.8M1393.8,379.2H1401.8M1393.8,412.8H1401.8M1393.8,446.5H1401.8M1393.8,480.1H1401.8M1393.8,640.7H1401.8M1393.8,674.4H1401.8M1393.8,708H1401.8M1393.8,741.7H1401.8M1393.8,775.3H1401.8M1393.8,809H1401.8M1393.8,842.6H1401.8M1393.8,876.3H1401.8M1393.8,910H1401.8M1393.8,943.6H1401.8M1393.8,977.3H1401.8M1393.8,1010.9H1401.8M1393.8,1044.6H1401.8" stroke="#000" stroke-width="2.3" fill="none"/>
<text class="pl" x="0.2" y="33.8">a</text>
<text class="pl" x="347.5" y="33.9">b</text>
<text class="pl" x="1.3" y="594.0">c</text>
<text class="pl" x="347.5" y="594.2">d</text>
<text class="un" x="1338.8" y="551">Unit: <tspan font-family="Noto Sans CJK SC" font-weight="900">℃</tspan></text>
<text class="un" x="1322.3" y="1115.6">Unit: mm day<tspan dy="-9.2" font-size="15.5">-1</tspan></text>
</svg>
</body></html>
